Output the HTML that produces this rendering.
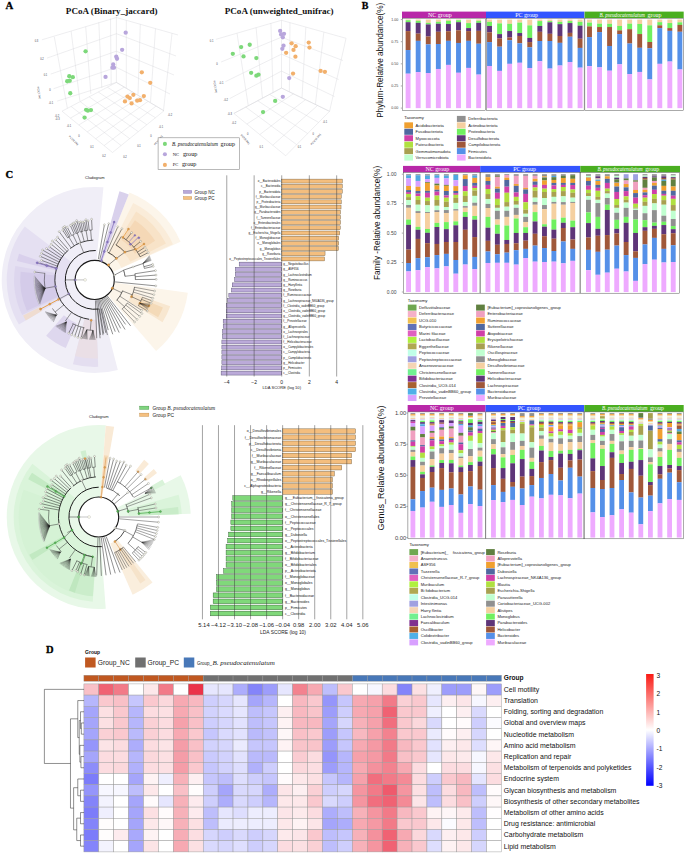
<!DOCTYPE html>
<html><head><meta charset="utf-8"><title>Figure</title>
<style>html,body{margin:0;padding:0;background:#fff;}svg{display:block;}</style></head>
<body><svg width="685" height="853" viewBox="0 0 685 853">
<rect x="0" y="0" width="685" height="853" fill="#fff"/>
<text x="46.00" y="652.60" font-family="Liberation Serif, serif" font-size="10.5" text-anchor="start" fill="#000" font-weight="bold" font-style="normal" stroke="#000" stroke-width="0.3">D</text>
<text x="85.10" y="654.30" font-family="Liberation Sans, sans-serif" font-size="5.0" text-anchor="start" fill="#111" font-weight="bold" font-style="normal" >Group</text>
<rect x="85.10" y="657.50" width="10.50" height="10.00" fill="#C05820" />
<text x="97.80" y="664.90" font-family="Liberation Sans, sans-serif" font-size="6.7" text-anchor="start" fill="#222" font-weight="normal" font-style="normal" >Group_NC</text>
<rect x="135.20" y="657.50" width="10.50" height="10.00" fill="#707070" />
<text x="147.50" y="664.90" font-family="Liberation Sans, sans-serif" font-size="6.7" text-anchor="start" fill="#222" font-weight="normal" font-style="normal" >Group_PC</text>
<rect x="183.80" y="657.50" width="10.50" height="10.00" fill="#4878B8" />
<text x="196.9" y="664.6" font-family="Liberation Sans, sans-serif" font-size="4.5" fill="#222">Group_<tspan font-family="Liberation Serif, serif" font-style="italic" font-size="7.0" dx="0.6">B. pseudocatenulatum</tspan></text>
<rect x="83.90" y="675.20" width="14.91" height="6.00" fill="#C05820" stroke="#999" stroke-width="0.4"/>
<rect x="98.81" y="675.20" width="14.91" height="6.00" fill="#C05820" stroke="#999" stroke-width="0.4"/>
<rect x="113.73" y="675.20" width="14.91" height="6.00" fill="#C05820" stroke="#999" stroke-width="0.4"/>
<rect x="128.65" y="675.20" width="14.91" height="6.00" fill="#C05820" stroke="#999" stroke-width="0.4"/>
<rect x="143.56" y="675.20" width="14.91" height="6.00" fill="#C05820" stroke="#999" stroke-width="0.4"/>
<rect x="158.47" y="675.20" width="14.91" height="6.00" fill="#C05820" stroke="#999" stroke-width="0.4"/>
<rect x="173.39" y="675.20" width="14.91" height="6.00" fill="#C05820" stroke="#999" stroke-width="0.4"/>
<rect x="188.31" y="675.20" width="14.91" height="6.00" fill="#C05820" stroke="#999" stroke-width="0.4"/>
<rect x="203.22" y="675.20" width="14.91" height="6.00" fill="#707070" stroke="#999" stroke-width="0.4"/>
<rect x="218.13" y="675.20" width="14.91" height="6.00" fill="#707070" stroke="#999" stroke-width="0.4"/>
<rect x="233.05" y="675.20" width="14.91" height="6.00" fill="#707070" stroke="#999" stroke-width="0.4"/>
<rect x="247.97" y="675.20" width="14.91" height="6.00" fill="#707070" stroke="#999" stroke-width="0.4"/>
<rect x="262.88" y="675.20" width="14.91" height="6.00" fill="#707070" stroke="#999" stroke-width="0.4"/>
<rect x="277.79" y="675.20" width="14.91" height="6.00" fill="#707070" stroke="#999" stroke-width="0.4"/>
<rect x="292.71" y="675.20" width="14.91" height="6.00" fill="#707070" stroke="#999" stroke-width="0.4"/>
<rect x="307.62" y="675.20" width="14.91" height="6.00" fill="#707070" stroke="#999" stroke-width="0.4"/>
<rect x="322.54" y="675.20" width="14.91" height="6.00" fill="#707070" stroke="#999" stroke-width="0.4"/>
<rect x="337.45" y="675.20" width="14.91" height="6.00" fill="#707070" stroke="#999" stroke-width="0.4"/>
<rect x="352.37" y="675.20" width="14.91" height="6.00" fill="#4878B8" stroke="#999" stroke-width="0.4"/>
<rect x="367.28" y="675.20" width="14.91" height="6.00" fill="#4878B8" stroke="#999" stroke-width="0.4"/>
<rect x="382.20" y="675.20" width="14.91" height="6.00" fill="#4878B8" stroke="#999" stroke-width="0.4"/>
<rect x="397.12" y="675.20" width="14.91" height="6.00" fill="#4878B8" stroke="#999" stroke-width="0.4"/>
<rect x="412.03" y="675.20" width="14.91" height="6.00" fill="#4878B8" stroke="#999" stroke-width="0.4"/>
<rect x="426.94" y="675.20" width="14.91" height="6.00" fill="#4878B8" stroke="#999" stroke-width="0.4"/>
<rect x="441.86" y="675.20" width="14.91" height="6.00" fill="#4878B8" stroke="#999" stroke-width="0.4"/>
<rect x="456.77" y="675.20" width="14.91" height="6.00" fill="#4878B8" stroke="#999" stroke-width="0.4"/>
<rect x="471.69" y="675.20" width="14.91" height="6.00" fill="#4878B8" stroke="#999" stroke-width="0.4"/>
<rect x="486.61" y="675.20" width="14.91" height="6.00" fill="#4878B8" stroke="#999" stroke-width="0.4"/>
<rect x="83.90" y="683.90" width="14.91" height="11.20" fill="#F9C0C7" stroke="#9a9a9a" stroke-width="0.45"/>
<rect x="83.90" y="695.10" width="14.91" height="11.20" fill="#B6B6FC" stroke="#9a9a9a" stroke-width="0.45"/>
<rect x="83.90" y="706.30" width="14.91" height="11.20" fill="#A5A5FB" stroke="#9a9a9a" stroke-width="0.45"/>
<rect x="83.90" y="717.50" width="14.91" height="11.20" fill="#A5A5FB" stroke="#9a9a9a" stroke-width="0.45"/>
<rect x="83.90" y="728.70" width="14.91" height="11.20" fill="#A5A5FB" stroke="#9a9a9a" stroke-width="0.45"/>
<rect x="83.90" y="739.90" width="14.91" height="11.20" fill="#9595FB" stroke="#9a9a9a" stroke-width="0.45"/>
<rect x="83.90" y="751.10" width="14.91" height="11.20" fill="#A5A5FB" stroke="#9a9a9a" stroke-width="0.45"/>
<rect x="83.90" y="762.30" width="14.91" height="11.20" fill="#8D8DFA" stroke="#9a9a9a" stroke-width="0.45"/>
<rect x="83.90" y="773.50" width="14.91" height="11.20" fill="#7C7CFA" stroke="#9a9a9a" stroke-width="0.45"/>
<rect x="83.90" y="784.70" width="14.91" height="11.20" fill="#9595FB" stroke="#9a9a9a" stroke-width="0.45"/>
<rect x="83.90" y="795.90" width="14.91" height="11.20" fill="#8484FA" stroke="#9a9a9a" stroke-width="0.45"/>
<rect x="83.90" y="807.10" width="14.91" height="11.20" fill="#7C7CFA" stroke="#9a9a9a" stroke-width="0.45"/>
<rect x="83.90" y="818.30" width="14.91" height="11.20" fill="#8484FA" stroke="#9a9a9a" stroke-width="0.45"/>
<rect x="83.90" y="829.50" width="14.91" height="11.20" fill="#7C7CFA" stroke="#9a9a9a" stroke-width="0.45"/>
<rect x="83.90" y="840.70" width="14.91" height="11.20" fill="#8484FA" stroke="#9a9a9a" stroke-width="0.45"/>
<rect x="98.81" y="683.90" width="14.91" height="11.20" fill="#F06273" stroke="#9a9a9a" stroke-width="0.45"/>
<rect x="98.81" y="695.10" width="14.91" height="11.20" fill="#FAC8CE" stroke="#9a9a9a" stroke-width="0.45"/>
<rect x="98.81" y="706.30" width="14.91" height="11.20" fill="#FCE0E3" stroke="#9a9a9a" stroke-width="0.45"/>
<rect x="98.81" y="717.50" width="14.91" height="11.20" fill="#FCE0E3" stroke="#9a9a9a" stroke-width="0.45"/>
<rect x="98.81" y="728.70" width="14.91" height="11.20" fill="#FAD0D5" stroke="#9a9a9a" stroke-width="0.45"/>
<rect x="98.81" y="739.90" width="14.91" height="11.20" fill="#FCE4E6" stroke="#9a9a9a" stroke-width="0.45"/>
<rect x="98.81" y="751.10" width="14.91" height="11.20" fill="#FCDCE0" stroke="#9a9a9a" stroke-width="0.45"/>
<rect x="98.81" y="762.30" width="14.91" height="11.20" fill="#FCDCE0" stroke="#9a9a9a" stroke-width="0.45"/>
<rect x="98.81" y="773.50" width="14.91" height="11.20" fill="#FFFFFF" stroke="#9a9a9a" stroke-width="0.45"/>
<rect x="98.81" y="784.70" width="14.91" height="11.20" fill="#F7F7FF" stroke="#9a9a9a" stroke-width="0.45"/>
<rect x="98.81" y="795.90" width="14.91" height="11.20" fill="#F3F3FE" stroke="#9a9a9a" stroke-width="0.45"/>
<rect x="98.81" y="807.10" width="14.91" height="11.20" fill="#EFEFFE" stroke="#9a9a9a" stroke-width="0.45"/>
<rect x="98.81" y="818.30" width="14.91" height="11.20" fill="#FFFDFD" stroke="#9a9a9a" stroke-width="0.45"/>
<rect x="98.81" y="829.50" width="14.91" height="11.20" fill="#FFFDFD" stroke="#9a9a9a" stroke-width="0.45"/>
<rect x="98.81" y="840.70" width="14.91" height="11.20" fill="#F3F3FE" stroke="#9a9a9a" stroke-width="0.45"/>
<rect x="113.73" y="683.90" width="14.91" height="11.20" fill="#F27A88" stroke="#9a9a9a" stroke-width="0.45"/>
<rect x="113.73" y="695.10" width="14.91" height="11.20" fill="#F9C0C7" stroke="#9a9a9a" stroke-width="0.45"/>
<rect x="113.73" y="706.30" width="14.91" height="11.20" fill="#FAC8CE" stroke="#9a9a9a" stroke-width="0.45"/>
<rect x="113.73" y="717.50" width="14.91" height="11.20" fill="#FAC8CE" stroke="#9a9a9a" stroke-width="0.45"/>
<rect x="113.73" y="728.70" width="14.91" height="11.20" fill="#FAC8CE" stroke="#9a9a9a" stroke-width="0.45"/>
<rect x="113.73" y="739.90" width="14.91" height="11.20" fill="#FCDCE0" stroke="#9a9a9a" stroke-width="0.45"/>
<rect x="113.73" y="751.10" width="14.91" height="11.20" fill="#FCDCE0" stroke="#9a9a9a" stroke-width="0.45"/>
<rect x="113.73" y="762.30" width="14.91" height="11.20" fill="#FBD8DC" stroke="#9a9a9a" stroke-width="0.45"/>
<rect x="113.73" y="773.50" width="14.91" height="11.20" fill="#FFFFFF" stroke="#9a9a9a" stroke-width="0.45"/>
<rect x="113.73" y="784.70" width="14.91" height="11.20" fill="#F7F7FF" stroke="#9a9a9a" stroke-width="0.45"/>
<rect x="113.73" y="795.90" width="14.91" height="11.20" fill="#FFFFFF" stroke="#9a9a9a" stroke-width="0.45"/>
<rect x="113.73" y="807.10" width="14.91" height="11.20" fill="#FFFFFF" stroke="#9a9a9a" stroke-width="0.45"/>
<rect x="113.73" y="818.30" width="14.91" height="11.20" fill="#FFFFFF" stroke="#9a9a9a" stroke-width="0.45"/>
<rect x="113.73" y="829.50" width="14.91" height="11.20" fill="#FDEBEE" stroke="#9a9a9a" stroke-width="0.45"/>
<rect x="113.73" y="840.70" width="14.91" height="11.20" fill="#FFFFFF" stroke="#9a9a9a" stroke-width="0.45"/>
<rect x="128.65" y="683.90" width="14.91" height="11.20" fill="#FFFFFF" stroke="#9a9a9a" stroke-width="0.45"/>
<rect x="128.65" y="695.10" width="14.91" height="11.20" fill="#C6C6FD" stroke="#9a9a9a" stroke-width="0.45"/>
<rect x="128.65" y="706.30" width="14.91" height="11.20" fill="#B6B6FC" stroke="#9a9a9a" stroke-width="0.45"/>
<rect x="128.65" y="717.50" width="14.91" height="11.20" fill="#B6B6FC" stroke="#9a9a9a" stroke-width="0.45"/>
<rect x="128.65" y="728.70" width="14.91" height="11.20" fill="#BABAFC" stroke="#9a9a9a" stroke-width="0.45"/>
<rect x="128.65" y="739.90" width="14.91" height="11.20" fill="#ADADFC" stroke="#9a9a9a" stroke-width="0.45"/>
<rect x="128.65" y="751.10" width="14.91" height="11.20" fill="#B6B6FC" stroke="#9a9a9a" stroke-width="0.45"/>
<rect x="128.65" y="762.30" width="14.91" height="11.20" fill="#B1B1FC" stroke="#9a9a9a" stroke-width="0.45"/>
<rect x="128.65" y="773.50" width="14.91" height="11.20" fill="#A5A5FB" stroke="#9a9a9a" stroke-width="0.45"/>
<rect x="128.65" y="784.70" width="14.91" height="11.20" fill="#BEBEFC" stroke="#9a9a9a" stroke-width="0.45"/>
<rect x="128.65" y="795.90" width="14.91" height="11.20" fill="#A5A5FB" stroke="#9a9a9a" stroke-width="0.45"/>
<rect x="128.65" y="807.10" width="14.91" height="11.20" fill="#A5A5FB" stroke="#9a9a9a" stroke-width="0.45"/>
<rect x="128.65" y="818.30" width="14.91" height="11.20" fill="#A5A5FB" stroke="#9a9a9a" stroke-width="0.45"/>
<rect x="128.65" y="829.50" width="14.91" height="11.20" fill="#A9A9FC" stroke="#9a9a9a" stroke-width="0.45"/>
<rect x="128.65" y="840.70" width="14.91" height="11.20" fill="#A5A5FB" stroke="#9a9a9a" stroke-width="0.45"/>
<rect x="143.56" y="683.90" width="14.91" height="11.20" fill="#FDE8EA" stroke="#9a9a9a" stroke-width="0.45"/>
<rect x="143.56" y="695.10" width="14.91" height="11.20" fill="#FAC8CE" stroke="#9a9a9a" stroke-width="0.45"/>
<rect x="143.56" y="706.30" width="14.91" height="11.20" fill="#FCDCE0" stroke="#9a9a9a" stroke-width="0.45"/>
<rect x="143.56" y="717.50" width="14.91" height="11.20" fill="#FAD0D5" stroke="#9a9a9a" stroke-width="0.45"/>
<rect x="143.56" y="728.70" width="14.91" height="11.20" fill="#FAD0D5" stroke="#9a9a9a" stroke-width="0.45"/>
<rect x="143.56" y="739.90" width="14.91" height="11.20" fill="#FCDCE0" stroke="#9a9a9a" stroke-width="0.45"/>
<rect x="143.56" y="751.10" width="14.91" height="11.20" fill="#FBD8DC" stroke="#9a9a9a" stroke-width="0.45"/>
<rect x="143.56" y="762.30" width="14.91" height="11.20" fill="#FCDCE0" stroke="#9a9a9a" stroke-width="0.45"/>
<rect x="143.56" y="773.50" width="14.91" height="11.20" fill="#FEF3F4" stroke="#9a9a9a" stroke-width="0.45"/>
<rect x="143.56" y="784.70" width="14.91" height="11.20" fill="#FDE8EA" stroke="#9a9a9a" stroke-width="0.45"/>
<rect x="143.56" y="795.90" width="14.91" height="11.20" fill="#FFFBFC" stroke="#9a9a9a" stroke-width="0.45"/>
<rect x="143.56" y="807.10" width="14.91" height="11.20" fill="#FCE0E3" stroke="#9a9a9a" stroke-width="0.45"/>
<rect x="143.56" y="818.30" width="14.91" height="11.20" fill="#FDE8EA" stroke="#9a9a9a" stroke-width="0.45"/>
<rect x="143.56" y="829.50" width="14.91" height="11.20" fill="#FEF3F4" stroke="#9a9a9a" stroke-width="0.45"/>
<rect x="143.56" y="840.70" width="14.91" height="11.20" fill="#FCE4E6" stroke="#9a9a9a" stroke-width="0.45"/>
<rect x="158.47" y="683.90" width="14.91" height="11.20" fill="#F27A88" stroke="#9a9a9a" stroke-width="0.45"/>
<rect x="158.47" y="695.10" width="14.91" height="11.20" fill="#FBD8DC" stroke="#9a9a9a" stroke-width="0.45"/>
<rect x="158.47" y="706.30" width="14.91" height="11.20" fill="#FCE0E3" stroke="#9a9a9a" stroke-width="0.45"/>
<rect x="158.47" y="717.50" width="14.91" height="11.20" fill="#FCDCE0" stroke="#9a9a9a" stroke-width="0.45"/>
<rect x="158.47" y="728.70" width="14.91" height="11.20" fill="#FCDCE0" stroke="#9a9a9a" stroke-width="0.45"/>
<rect x="158.47" y="739.90" width="14.91" height="11.20" fill="#FCE4E6" stroke="#9a9a9a" stroke-width="0.45"/>
<rect x="158.47" y="751.10" width="14.91" height="11.20" fill="#FCE0E3" stroke="#9a9a9a" stroke-width="0.45"/>
<rect x="158.47" y="762.30" width="14.91" height="11.20" fill="#FCE0E3" stroke="#9a9a9a" stroke-width="0.45"/>
<rect x="158.47" y="773.50" width="14.91" height="11.20" fill="#EFEFFE" stroke="#9a9a9a" stroke-width="0.45"/>
<rect x="158.47" y="784.70" width="14.91" height="11.20" fill="#FFFFFF" stroke="#9a9a9a" stroke-width="0.45"/>
<rect x="158.47" y="795.90" width="14.91" height="11.20" fill="#E6E6FE" stroke="#9a9a9a" stroke-width="0.45"/>
<rect x="158.47" y="807.10" width="14.91" height="11.20" fill="#FFFBFC" stroke="#9a9a9a" stroke-width="0.45"/>
<rect x="158.47" y="818.30" width="14.91" height="11.20" fill="#FEF7F8" stroke="#9a9a9a" stroke-width="0.45"/>
<rect x="158.47" y="829.50" width="14.91" height="11.20" fill="#FFFFFF" stroke="#9a9a9a" stroke-width="0.45"/>
<rect x="158.47" y="840.70" width="14.91" height="11.20" fill="#FFFFFF" stroke="#9a9a9a" stroke-width="0.45"/>
<rect x="173.39" y="683.90" width="14.91" height="11.20" fill="#FFFFFF" stroke="#9a9a9a" stroke-width="0.45"/>
<rect x="173.39" y="695.10" width="14.91" height="11.20" fill="#F7A9B2" stroke="#9a9a9a" stroke-width="0.45"/>
<rect x="173.39" y="706.30" width="14.91" height="11.20" fill="#F7A9B2" stroke="#9a9a9a" stroke-width="0.45"/>
<rect x="173.39" y="717.50" width="14.91" height="11.20" fill="#F6A1AB" stroke="#9a9a9a" stroke-width="0.45"/>
<rect x="173.39" y="728.70" width="14.91" height="11.20" fill="#F7A9B2" stroke="#9a9a9a" stroke-width="0.45"/>
<rect x="173.39" y="739.90" width="14.91" height="11.20" fill="#F59DA8" stroke="#9a9a9a" stroke-width="0.45"/>
<rect x="173.39" y="751.10" width="14.91" height="11.20" fill="#F59DA8" stroke="#9a9a9a" stroke-width="0.45"/>
<rect x="173.39" y="762.30" width="14.91" height="11.20" fill="#F59DA8" stroke="#9a9a9a" stroke-width="0.45"/>
<rect x="173.39" y="773.50" width="14.91" height="11.20" fill="#F7B1B9" stroke="#9a9a9a" stroke-width="0.45"/>
<rect x="173.39" y="784.70" width="14.91" height="11.20" fill="#F9C0C7" stroke="#9a9a9a" stroke-width="0.45"/>
<rect x="173.39" y="795.90" width="14.91" height="11.20" fill="#F7B1B9" stroke="#9a9a9a" stroke-width="0.45"/>
<rect x="173.39" y="807.10" width="14.91" height="11.20" fill="#F7B1B9" stroke="#9a9a9a" stroke-width="0.45"/>
<rect x="173.39" y="818.30" width="14.91" height="11.20" fill="#F7B1B9" stroke="#9a9a9a" stroke-width="0.45"/>
<rect x="173.39" y="829.50" width="14.91" height="11.20" fill="#F7ADB6" stroke="#9a9a9a" stroke-width="0.45"/>
<rect x="173.39" y="840.70" width="14.91" height="11.20" fill="#F7A9B2" stroke="#9a9a9a" stroke-width="0.45"/>
<rect x="188.31" y="683.90" width="14.91" height="11.20" fill="#EB3349" stroke="#9a9a9a" stroke-width="0.45"/>
<rect x="188.31" y="695.10" width="14.91" height="11.20" fill="#F8B8C0" stroke="#9a9a9a" stroke-width="0.45"/>
<rect x="188.31" y="706.30" width="14.91" height="11.20" fill="#F9C0C7" stroke="#9a9a9a" stroke-width="0.45"/>
<rect x="188.31" y="717.50" width="14.91" height="11.20" fill="#F9C0C7" stroke="#9a9a9a" stroke-width="0.45"/>
<rect x="188.31" y="728.70" width="14.91" height="11.20" fill="#FAC8CE" stroke="#9a9a9a" stroke-width="0.45"/>
<rect x="188.31" y="739.90" width="14.91" height="11.20" fill="#F9C0C7" stroke="#9a9a9a" stroke-width="0.45"/>
<rect x="188.31" y="751.10" width="14.91" height="11.20" fill="#F9C0C7" stroke="#9a9a9a" stroke-width="0.45"/>
<rect x="188.31" y="762.30" width="14.91" height="11.20" fill="#FAC8CE" stroke="#9a9a9a" stroke-width="0.45"/>
<rect x="188.31" y="773.50" width="14.91" height="11.20" fill="#FDEFF1" stroke="#9a9a9a" stroke-width="0.45"/>
<rect x="188.31" y="784.70" width="14.91" height="11.20" fill="#FFFDFD" stroke="#9a9a9a" stroke-width="0.45"/>
<rect x="188.31" y="795.90" width="14.91" height="11.20" fill="#FDEBEE" stroke="#9a9a9a" stroke-width="0.45"/>
<rect x="188.31" y="807.10" width="14.91" height="11.20" fill="#FDEBEE" stroke="#9a9a9a" stroke-width="0.45"/>
<rect x="188.31" y="818.30" width="14.91" height="11.20" fill="#FCE0E3" stroke="#9a9a9a" stroke-width="0.45"/>
<rect x="188.31" y="829.50" width="14.91" height="11.20" fill="#FCDEE2" stroke="#9a9a9a" stroke-width="0.45"/>
<rect x="188.31" y="840.70" width="14.91" height="11.20" fill="#FCE0E3" stroke="#9a9a9a" stroke-width="0.45"/>
<rect x="203.22" y="683.90" width="14.91" height="11.20" fill="#E6E6FE" stroke="#9a9a9a" stroke-width="0.45"/>
<rect x="203.22" y="695.10" width="14.91" height="11.20" fill="#CECEFD" stroke="#9a9a9a" stroke-width="0.45"/>
<rect x="203.22" y="706.30" width="14.91" height="11.20" fill="#D2D2FD" stroke="#9a9a9a" stroke-width="0.45"/>
<rect x="203.22" y="717.50" width="14.91" height="11.20" fill="#CECEFD" stroke="#9a9a9a" stroke-width="0.45"/>
<rect x="203.22" y="728.70" width="14.91" height="11.20" fill="#C6C6FD" stroke="#9a9a9a" stroke-width="0.45"/>
<rect x="203.22" y="739.90" width="14.91" height="11.20" fill="#D2D2FD" stroke="#9a9a9a" stroke-width="0.45"/>
<rect x="203.22" y="751.10" width="14.91" height="11.20" fill="#CACAFD" stroke="#9a9a9a" stroke-width="0.45"/>
<rect x="203.22" y="762.30" width="14.91" height="11.20" fill="#C6C6FD" stroke="#9a9a9a" stroke-width="0.45"/>
<rect x="203.22" y="773.50" width="14.91" height="11.20" fill="#C6C6FD" stroke="#9a9a9a" stroke-width="0.45"/>
<rect x="203.22" y="784.70" width="14.91" height="11.20" fill="#CECEFD" stroke="#9a9a9a" stroke-width="0.45"/>
<rect x="203.22" y="795.90" width="14.91" height="11.20" fill="#CECEFD" stroke="#9a9a9a" stroke-width="0.45"/>
<rect x="203.22" y="807.10" width="14.91" height="11.20" fill="#BEBEFC" stroke="#9a9a9a" stroke-width="0.45"/>
<rect x="203.22" y="818.30" width="14.91" height="11.20" fill="#BEBEFC" stroke="#9a9a9a" stroke-width="0.45"/>
<rect x="203.22" y="829.50" width="14.91" height="11.20" fill="#D6D6FD" stroke="#9a9a9a" stroke-width="0.45"/>
<rect x="203.22" y="840.70" width="14.91" height="11.20" fill="#D9D9FD" stroke="#9a9a9a" stroke-width="0.45"/>
<rect x="218.13" y="683.90" width="14.91" height="11.20" fill="#E6E6FE" stroke="#9a9a9a" stroke-width="0.45"/>
<rect x="218.13" y="695.10" width="14.91" height="11.20" fill="#D6D6FD" stroke="#9a9a9a" stroke-width="0.45"/>
<rect x="218.13" y="706.30" width="14.91" height="11.20" fill="#DADAFE" stroke="#9a9a9a" stroke-width="0.45"/>
<rect x="218.13" y="717.50" width="14.91" height="11.20" fill="#D6D6FD" stroke="#9a9a9a" stroke-width="0.45"/>
<rect x="218.13" y="728.70" width="14.91" height="11.20" fill="#DADAFE" stroke="#9a9a9a" stroke-width="0.45"/>
<rect x="218.13" y="739.90" width="14.91" height="11.20" fill="#D6D6FD" stroke="#9a9a9a" stroke-width="0.45"/>
<rect x="218.13" y="751.10" width="14.91" height="11.20" fill="#D2D2FD" stroke="#9a9a9a" stroke-width="0.45"/>
<rect x="218.13" y="762.30" width="14.91" height="11.20" fill="#D2D2FD" stroke="#9a9a9a" stroke-width="0.45"/>
<rect x="218.13" y="773.50" width="14.91" height="11.20" fill="#BEBEFC" stroke="#9a9a9a" stroke-width="0.45"/>
<rect x="218.13" y="784.70" width="14.91" height="11.20" fill="#A5A5FB" stroke="#9a9a9a" stroke-width="0.45"/>
<rect x="218.13" y="795.90" width="14.91" height="11.20" fill="#ADADFC" stroke="#9a9a9a" stroke-width="0.45"/>
<rect x="218.13" y="807.10" width="14.91" height="11.20" fill="#E6E6FE" stroke="#9a9a9a" stroke-width="0.45"/>
<rect x="218.13" y="818.30" width="14.91" height="11.20" fill="#EBEBFE" stroke="#9a9a9a" stroke-width="0.45"/>
<rect x="218.13" y="829.50" width="14.91" height="11.20" fill="#CECEFD" stroke="#9a9a9a" stroke-width="0.45"/>
<rect x="218.13" y="840.70" width="14.91" height="11.20" fill="#D6D6FD" stroke="#9a9a9a" stroke-width="0.45"/>
<rect x="233.05" y="683.90" width="14.91" height="11.20" fill="#ADADFC" stroke="#9a9a9a" stroke-width="0.45"/>
<rect x="233.05" y="695.10" width="14.91" height="11.20" fill="#E6E6FE" stroke="#9a9a9a" stroke-width="0.45"/>
<rect x="233.05" y="706.30" width="14.91" height="11.20" fill="#E6E6FE" stroke="#9a9a9a" stroke-width="0.45"/>
<rect x="233.05" y="717.50" width="14.91" height="11.20" fill="#E2E2FE" stroke="#9a9a9a" stroke-width="0.45"/>
<rect x="233.05" y="728.70" width="14.91" height="11.20" fill="#E2E2FE" stroke="#9a9a9a" stroke-width="0.45"/>
<rect x="233.05" y="739.90" width="14.91" height="11.20" fill="#EBEBFE" stroke="#9a9a9a" stroke-width="0.45"/>
<rect x="233.05" y="751.10" width="14.91" height="11.20" fill="#E2E2FE" stroke="#9a9a9a" stroke-width="0.45"/>
<rect x="233.05" y="762.30" width="14.91" height="11.20" fill="#DEDEFE" stroke="#9a9a9a" stroke-width="0.45"/>
<rect x="233.05" y="773.50" width="14.91" height="11.20" fill="#DEDEFE" stroke="#9a9a9a" stroke-width="0.45"/>
<rect x="233.05" y="784.70" width="14.91" height="11.20" fill="#D9D9FD" stroke="#9a9a9a" stroke-width="0.45"/>
<rect x="233.05" y="795.90" width="14.91" height="11.20" fill="#D9D9FD" stroke="#9a9a9a" stroke-width="0.45"/>
<rect x="233.05" y="807.10" width="14.91" height="11.20" fill="#DEDEFE" stroke="#9a9a9a" stroke-width="0.45"/>
<rect x="233.05" y="818.30" width="14.91" height="11.20" fill="#EDEDFE" stroke="#9a9a9a" stroke-width="0.45"/>
<rect x="233.05" y="829.50" width="14.91" height="11.20" fill="#D9D9FD" stroke="#9a9a9a" stroke-width="0.45"/>
<rect x="233.05" y="840.70" width="14.91" height="11.20" fill="#DEDEFE" stroke="#9a9a9a" stroke-width="0.45"/>
<rect x="247.97" y="683.90" width="14.91" height="11.20" fill="#8484FA" stroke="#9a9a9a" stroke-width="0.45"/>
<rect x="247.97" y="695.10" width="14.91" height="11.20" fill="#A5A5FB" stroke="#9a9a9a" stroke-width="0.45"/>
<rect x="247.97" y="706.30" width="14.91" height="11.20" fill="#BEBEFC" stroke="#9a9a9a" stroke-width="0.45"/>
<rect x="247.97" y="717.50" width="14.91" height="11.20" fill="#BEBEFC" stroke="#9a9a9a" stroke-width="0.45"/>
<rect x="247.97" y="728.70" width="14.91" height="11.20" fill="#BABAFC" stroke="#9a9a9a" stroke-width="0.45"/>
<rect x="247.97" y="739.90" width="14.91" height="11.20" fill="#C6C6FD" stroke="#9a9a9a" stroke-width="0.45"/>
<rect x="247.97" y="751.10" width="14.91" height="11.20" fill="#BABAFC" stroke="#9a9a9a" stroke-width="0.45"/>
<rect x="247.97" y="762.30" width="14.91" height="11.20" fill="#B1B1FC" stroke="#9a9a9a" stroke-width="0.45"/>
<rect x="247.97" y="773.50" width="14.91" height="11.20" fill="#CECEFD" stroke="#9a9a9a" stroke-width="0.45"/>
<rect x="247.97" y="784.70" width="14.91" height="11.20" fill="#D6D6FD" stroke="#9a9a9a" stroke-width="0.45"/>
<rect x="247.97" y="795.90" width="14.91" height="11.20" fill="#CECEFD" stroke="#9a9a9a" stroke-width="0.45"/>
<rect x="247.97" y="807.10" width="14.91" height="11.20" fill="#EDEDFE" stroke="#9a9a9a" stroke-width="0.45"/>
<rect x="247.97" y="818.30" width="14.91" height="11.20" fill="#EDEDFE" stroke="#9a9a9a" stroke-width="0.45"/>
<rect x="247.97" y="829.50" width="14.91" height="11.20" fill="#CECEFD" stroke="#9a9a9a" stroke-width="0.45"/>
<rect x="247.97" y="840.70" width="14.91" height="11.20" fill="#CECEFD" stroke="#9a9a9a" stroke-width="0.45"/>
<rect x="262.88" y="683.90" width="14.91" height="11.20" fill="#9D9DFB" stroke="#9a9a9a" stroke-width="0.45"/>
<rect x="262.88" y="695.10" width="14.91" height="11.20" fill="#B6B6FC" stroke="#9a9a9a" stroke-width="0.45"/>
<rect x="262.88" y="706.30" width="14.91" height="11.20" fill="#C6C6FD" stroke="#9a9a9a" stroke-width="0.45"/>
<rect x="262.88" y="717.50" width="14.91" height="11.20" fill="#C6C6FD" stroke="#9a9a9a" stroke-width="0.45"/>
<rect x="262.88" y="728.70" width="14.91" height="11.20" fill="#C2C2FC" stroke="#9a9a9a" stroke-width="0.45"/>
<rect x="262.88" y="739.90" width="14.91" height="11.20" fill="#C6C6FD" stroke="#9a9a9a" stroke-width="0.45"/>
<rect x="262.88" y="751.10" width="14.91" height="11.20" fill="#BABAFC" stroke="#9a9a9a" stroke-width="0.45"/>
<rect x="262.88" y="762.30" width="14.91" height="11.20" fill="#CECEFD" stroke="#9a9a9a" stroke-width="0.45"/>
<rect x="262.88" y="773.50" width="14.91" height="11.20" fill="#C6C6FD" stroke="#9a9a9a" stroke-width="0.45"/>
<rect x="262.88" y="784.70" width="14.91" height="11.20" fill="#ADADFC" stroke="#9a9a9a" stroke-width="0.45"/>
<rect x="262.88" y="795.90" width="14.91" height="11.20" fill="#B6B6FC" stroke="#9a9a9a" stroke-width="0.45"/>
<rect x="262.88" y="807.10" width="14.91" height="11.20" fill="#EDEDFE" stroke="#9a9a9a" stroke-width="0.45"/>
<rect x="262.88" y="818.30" width="14.91" height="11.20" fill="#EDEDFE" stroke="#9a9a9a" stroke-width="0.45"/>
<rect x="262.88" y="829.50" width="14.91" height="11.20" fill="#D6D6FD" stroke="#9a9a9a" stroke-width="0.45"/>
<rect x="262.88" y="840.70" width="14.91" height="11.20" fill="#D6D6FD" stroke="#9a9a9a" stroke-width="0.45"/>
<rect x="277.79" y="683.90" width="14.91" height="11.20" fill="#E6E6FE" stroke="#9a9a9a" stroke-width="0.45"/>
<rect x="277.79" y="695.10" width="14.91" height="11.20" fill="#FFFFFF" stroke="#9a9a9a" stroke-width="0.45"/>
<rect x="277.79" y="706.30" width="14.91" height="11.20" fill="#FDEFF1" stroke="#9a9a9a" stroke-width="0.45"/>
<rect x="277.79" y="717.50" width="14.91" height="11.20" fill="#FEF3F4" stroke="#9a9a9a" stroke-width="0.45"/>
<rect x="277.79" y="728.70" width="14.91" height="11.20" fill="#FEF7F8" stroke="#9a9a9a" stroke-width="0.45"/>
<rect x="277.79" y="739.90" width="14.91" height="11.20" fill="#FEF3F4" stroke="#9a9a9a" stroke-width="0.45"/>
<rect x="277.79" y="751.10" width="14.91" height="11.20" fill="#FFFFFF" stroke="#9a9a9a" stroke-width="0.45"/>
<rect x="277.79" y="762.30" width="14.91" height="11.20" fill="#FFFFFF" stroke="#9a9a9a" stroke-width="0.45"/>
<rect x="277.79" y="773.50" width="14.91" height="11.20" fill="#FFFBFC" stroke="#9a9a9a" stroke-width="0.45"/>
<rect x="277.79" y="784.70" width="14.91" height="11.20" fill="#FCE5E8" stroke="#9a9a9a" stroke-width="0.45"/>
<rect x="277.79" y="795.90" width="14.91" height="11.20" fill="#FDE8EA" stroke="#9a9a9a" stroke-width="0.45"/>
<rect x="277.79" y="807.10" width="14.91" height="11.20" fill="#FCE5E8" stroke="#9a9a9a" stroke-width="0.45"/>
<rect x="277.79" y="818.30" width="14.91" height="11.20" fill="#FDE8EA" stroke="#9a9a9a" stroke-width="0.45"/>
<rect x="277.79" y="829.50" width="14.91" height="11.20" fill="#FDEAEC" stroke="#9a9a9a" stroke-width="0.45"/>
<rect x="277.79" y="840.70" width="14.91" height="11.20" fill="#FCDCE0" stroke="#9a9a9a" stroke-width="0.45"/>
<rect x="292.71" y="683.90" width="14.91" height="11.20" fill="#F3828F" stroke="#9a9a9a" stroke-width="0.45"/>
<rect x="292.71" y="695.10" width="14.91" height="11.20" fill="#F8B8C0" stroke="#9a9a9a" stroke-width="0.45"/>
<rect x="292.71" y="706.30" width="14.91" height="11.20" fill="#F8B8C0" stroke="#9a9a9a" stroke-width="0.45"/>
<rect x="292.71" y="717.50" width="14.91" height="11.20" fill="#F8B8C0" stroke="#9a9a9a" stroke-width="0.45"/>
<rect x="292.71" y="728.70" width="14.91" height="11.20" fill="#F9C0C7" stroke="#9a9a9a" stroke-width="0.45"/>
<rect x="292.71" y="739.90" width="14.91" height="11.20" fill="#F9C4CA" stroke="#9a9a9a" stroke-width="0.45"/>
<rect x="292.71" y="751.10" width="14.91" height="11.20" fill="#FACCD2" stroke="#9a9a9a" stroke-width="0.45"/>
<rect x="292.71" y="762.30" width="14.91" height="11.20" fill="#FBD8DC" stroke="#9a9a9a" stroke-width="0.45"/>
<rect x="292.71" y="773.50" width="14.91" height="11.20" fill="#FDE8EA" stroke="#9a9a9a" stroke-width="0.45"/>
<rect x="292.71" y="784.70" width="14.91" height="11.20" fill="#FDEFF1" stroke="#9a9a9a" stroke-width="0.45"/>
<rect x="292.71" y="795.90" width="14.91" height="11.20" fill="#FDE8EA" stroke="#9a9a9a" stroke-width="0.45"/>
<rect x="292.71" y="807.10" width="14.91" height="11.20" fill="#FDEAEC" stroke="#9a9a9a" stroke-width="0.45"/>
<rect x="292.71" y="818.30" width="14.91" height="11.20" fill="#FEF3F4" stroke="#9a9a9a" stroke-width="0.45"/>
<rect x="292.71" y="829.50" width="14.91" height="11.20" fill="#FCE5E8" stroke="#9a9a9a" stroke-width="0.45"/>
<rect x="292.71" y="840.70" width="14.91" height="11.20" fill="#FCE0E3" stroke="#9a9a9a" stroke-width="0.45"/>
<rect x="307.62" y="683.90" width="14.91" height="11.20" fill="#F7A9B2" stroke="#9a9a9a" stroke-width="0.45"/>
<rect x="307.62" y="695.10" width="14.91" height="11.20" fill="#FAC8CE" stroke="#9a9a9a" stroke-width="0.45"/>
<rect x="307.62" y="706.30" width="14.91" height="11.20" fill="#F9C4CA" stroke="#9a9a9a" stroke-width="0.45"/>
<rect x="307.62" y="717.50" width="14.91" height="11.20" fill="#F8B8C0" stroke="#9a9a9a" stroke-width="0.45"/>
<rect x="307.62" y="728.70" width="14.91" height="11.20" fill="#FAC8CE" stroke="#9a9a9a" stroke-width="0.45"/>
<rect x="307.62" y="739.90" width="14.91" height="11.20" fill="#F9C4CA" stroke="#9a9a9a" stroke-width="0.45"/>
<rect x="307.62" y="751.10" width="14.91" height="11.20" fill="#FCDCE0" stroke="#9a9a9a" stroke-width="0.45"/>
<rect x="307.62" y="762.30" width="14.91" height="11.20" fill="#FCDEE2" stroke="#9a9a9a" stroke-width="0.45"/>
<rect x="307.62" y="773.50" width="14.91" height="11.20" fill="#FCE0E3" stroke="#9a9a9a" stroke-width="0.45"/>
<rect x="307.62" y="784.70" width="14.91" height="11.20" fill="#FAD0D5" stroke="#9a9a9a" stroke-width="0.45"/>
<rect x="307.62" y="795.90" width="14.91" height="11.20" fill="#FAC8CE" stroke="#9a9a9a" stroke-width="0.45"/>
<rect x="307.62" y="807.10" width="14.91" height="11.20" fill="#FCDCE0" stroke="#9a9a9a" stroke-width="0.45"/>
<rect x="307.62" y="818.30" width="14.91" height="11.20" fill="#FCE5E8" stroke="#9a9a9a" stroke-width="0.45"/>
<rect x="307.62" y="829.50" width="14.91" height="11.20" fill="#FAC8CE" stroke="#9a9a9a" stroke-width="0.45"/>
<rect x="307.62" y="840.70" width="14.91" height="11.20" fill="#FAD0D5" stroke="#9a9a9a" stroke-width="0.45"/>
<rect x="322.54" y="683.90" width="14.91" height="11.20" fill="#BEBEFC" stroke="#9a9a9a" stroke-width="0.45"/>
<rect x="322.54" y="695.10" width="14.91" height="11.20" fill="#9595FB" stroke="#9a9a9a" stroke-width="0.45"/>
<rect x="322.54" y="706.30" width="14.91" height="11.20" fill="#9D9DFB" stroke="#9a9a9a" stroke-width="0.45"/>
<rect x="322.54" y="717.50" width="14.91" height="11.20" fill="#A5A5FB" stroke="#9a9a9a" stroke-width="0.45"/>
<rect x="322.54" y="728.70" width="14.91" height="11.20" fill="#9D9DFB" stroke="#9a9a9a" stroke-width="0.45"/>
<rect x="322.54" y="739.90" width="14.91" height="11.20" fill="#9D9DFB" stroke="#9a9a9a" stroke-width="0.45"/>
<rect x="322.54" y="751.10" width="14.91" height="11.20" fill="#9595FB" stroke="#9a9a9a" stroke-width="0.45"/>
<rect x="322.54" y="762.30" width="14.91" height="11.20" fill="#9D9DFB" stroke="#9a9a9a" stroke-width="0.45"/>
<rect x="322.54" y="773.50" width="14.91" height="11.20" fill="#C6C6FD" stroke="#9a9a9a" stroke-width="0.45"/>
<rect x="322.54" y="784.70" width="14.91" height="11.20" fill="#CECEFD" stroke="#9a9a9a" stroke-width="0.45"/>
<rect x="322.54" y="795.90" width="14.91" height="11.20" fill="#D9D9FD" stroke="#9a9a9a" stroke-width="0.45"/>
<rect x="322.54" y="807.10" width="14.91" height="11.20" fill="#ADADFC" stroke="#9a9a9a" stroke-width="0.45"/>
<rect x="322.54" y="818.30" width="14.91" height="11.20" fill="#A5A5FB" stroke="#9a9a9a" stroke-width="0.45"/>
<rect x="322.54" y="829.50" width="14.91" height="11.20" fill="#BEBEFC" stroke="#9a9a9a" stroke-width="0.45"/>
<rect x="322.54" y="840.70" width="14.91" height="11.20" fill="#BEBEFC" stroke="#9a9a9a" stroke-width="0.45"/>
<rect x="337.45" y="683.90" width="14.91" height="11.20" fill="#FAC8CE" stroke="#9a9a9a" stroke-width="0.45"/>
<rect x="337.45" y="695.10" width="14.91" height="11.20" fill="#C6C6FD" stroke="#9a9a9a" stroke-width="0.45"/>
<rect x="337.45" y="706.30" width="14.91" height="11.20" fill="#CECEFD" stroke="#9a9a9a" stroke-width="0.45"/>
<rect x="337.45" y="717.50" width="14.91" height="11.20" fill="#D6D6FD" stroke="#9a9a9a" stroke-width="0.45"/>
<rect x="337.45" y="728.70" width="14.91" height="11.20" fill="#C6C6FD" stroke="#9a9a9a" stroke-width="0.45"/>
<rect x="337.45" y="739.90" width="14.91" height="11.20" fill="#C6C6FD" stroke="#9a9a9a" stroke-width="0.45"/>
<rect x="337.45" y="751.10" width="14.91" height="11.20" fill="#B6B6FC" stroke="#9a9a9a" stroke-width="0.45"/>
<rect x="337.45" y="762.30" width="14.91" height="11.20" fill="#B6B6FC" stroke="#9a9a9a" stroke-width="0.45"/>
<rect x="337.45" y="773.50" width="14.91" height="11.20" fill="#B6B6FC" stroke="#9a9a9a" stroke-width="0.45"/>
<rect x="337.45" y="784.70" width="14.91" height="11.20" fill="#D6D6FD" stroke="#9a9a9a" stroke-width="0.45"/>
<rect x="337.45" y="795.90" width="14.91" height="11.20" fill="#CECEFD" stroke="#9a9a9a" stroke-width="0.45"/>
<rect x="337.45" y="807.10" width="14.91" height="11.20" fill="#BEBEFC" stroke="#9a9a9a" stroke-width="0.45"/>
<rect x="337.45" y="818.30" width="14.91" height="11.20" fill="#ADADFC" stroke="#9a9a9a" stroke-width="0.45"/>
<rect x="337.45" y="829.50" width="14.91" height="11.20" fill="#C6C6FD" stroke="#9a9a9a" stroke-width="0.45"/>
<rect x="337.45" y="840.70" width="14.91" height="11.20" fill="#CECEFD" stroke="#9a9a9a" stroke-width="0.45"/>
<rect x="352.37" y="683.90" width="14.91" height="11.20" fill="#FFFFFF" stroke="#9a9a9a" stroke-width="0.45"/>
<rect x="352.37" y="695.10" width="14.91" height="11.20" fill="#F7A9B2" stroke="#9a9a9a" stroke-width="0.45"/>
<rect x="352.37" y="706.30" width="14.91" height="11.20" fill="#F7A9B2" stroke="#9a9a9a" stroke-width="0.45"/>
<rect x="352.37" y="717.50" width="14.91" height="11.20" fill="#F7B1B9" stroke="#9a9a9a" stroke-width="0.45"/>
<rect x="352.37" y="728.70" width="14.91" height="11.20" fill="#F8B8C0" stroke="#9a9a9a" stroke-width="0.45"/>
<rect x="352.37" y="739.90" width="14.91" height="11.20" fill="#F7A9B2" stroke="#9a9a9a" stroke-width="0.45"/>
<rect x="352.37" y="751.10" width="14.91" height="11.20" fill="#F6A1AB" stroke="#9a9a9a" stroke-width="0.45"/>
<rect x="352.37" y="762.30" width="14.91" height="11.20" fill="#F7A9B2" stroke="#9a9a9a" stroke-width="0.45"/>
<rect x="352.37" y="773.50" width="14.91" height="11.20" fill="#F6A1AB" stroke="#9a9a9a" stroke-width="0.45"/>
<rect x="352.37" y="784.70" width="14.91" height="11.20" fill="#F595A0" stroke="#9a9a9a" stroke-width="0.45"/>
<rect x="352.37" y="795.90" width="14.91" height="11.20" fill="#F595A0" stroke="#9a9a9a" stroke-width="0.45"/>
<rect x="352.37" y="807.10" width="14.91" height="11.20" fill="#F7B1B9" stroke="#9a9a9a" stroke-width="0.45"/>
<rect x="352.37" y="818.30" width="14.91" height="11.20" fill="#F7A9B2" stroke="#9a9a9a" stroke-width="0.45"/>
<rect x="352.37" y="829.50" width="14.91" height="11.20" fill="#F7B1B9" stroke="#9a9a9a" stroke-width="0.45"/>
<rect x="352.37" y="840.70" width="14.91" height="11.20" fill="#F7B1B9" stroke="#9a9a9a" stroke-width="0.45"/>
<rect x="367.28" y="683.90" width="14.91" height="11.20" fill="#F7F7FF" stroke="#9a9a9a" stroke-width="0.45"/>
<rect x="367.28" y="695.10" width="14.91" height="11.20" fill="#F6A1AB" stroke="#9a9a9a" stroke-width="0.45"/>
<rect x="367.28" y="706.30" width="14.91" height="11.20" fill="#F6A1AB" stroke="#9a9a9a" stroke-width="0.45"/>
<rect x="367.28" y="717.50" width="14.91" height="11.20" fill="#F6A1AB" stroke="#9a9a9a" stroke-width="0.45"/>
<rect x="367.28" y="728.70" width="14.91" height="11.20" fill="#F6A1AB" stroke="#9a9a9a" stroke-width="0.45"/>
<rect x="367.28" y="739.90" width="14.91" height="11.20" fill="#F599A4" stroke="#9a9a9a" stroke-width="0.45"/>
<rect x="367.28" y="751.10" width="14.91" height="11.20" fill="#F599A4" stroke="#9a9a9a" stroke-width="0.45"/>
<rect x="367.28" y="762.30" width="14.91" height="11.20" fill="#F4919D" stroke="#9a9a9a" stroke-width="0.45"/>
<rect x="367.28" y="773.50" width="14.91" height="11.20" fill="#F16E7E" stroke="#9a9a9a" stroke-width="0.45"/>
<rect x="367.28" y="784.70" width="14.91" height="11.20" fill="#F27A88" stroke="#9a9a9a" stroke-width="0.45"/>
<rect x="367.28" y="795.90" width="14.91" height="11.20" fill="#F16E7E" stroke="#9a9a9a" stroke-width="0.45"/>
<rect x="367.28" y="807.10" width="14.91" height="11.20" fill="#F595A0" stroke="#9a9a9a" stroke-width="0.45"/>
<rect x="367.28" y="818.30" width="14.91" height="11.20" fill="#F599A4" stroke="#9a9a9a" stroke-width="0.45"/>
<rect x="367.28" y="829.50" width="14.91" height="11.20" fill="#F4919D" stroke="#9a9a9a" stroke-width="0.45"/>
<rect x="367.28" y="840.70" width="14.91" height="11.20" fill="#F595A0" stroke="#9a9a9a" stroke-width="0.45"/>
<rect x="382.20" y="683.90" width="14.91" height="11.20" fill="#FCDCE0" stroke="#9a9a9a" stroke-width="0.45"/>
<rect x="382.20" y="695.10" width="14.91" height="11.20" fill="#F27A88" stroke="#9a9a9a" stroke-width="0.45"/>
<rect x="382.20" y="706.30" width="14.91" height="11.20" fill="#F06273" stroke="#9a9a9a" stroke-width="0.45"/>
<rect x="382.20" y="717.50" width="14.91" height="11.20" fill="#F16E7E" stroke="#9a9a9a" stroke-width="0.45"/>
<rect x="382.20" y="728.70" width="14.91" height="11.20" fill="#F3828F" stroke="#9a9a9a" stroke-width="0.45"/>
<rect x="382.20" y="739.90" width="14.91" height="11.20" fill="#F27A88" stroke="#9a9a9a" stroke-width="0.45"/>
<rect x="382.20" y="751.10" width="14.91" height="11.20" fill="#F27A88" stroke="#9a9a9a" stroke-width="0.45"/>
<rect x="382.20" y="762.30" width="14.91" height="11.20" fill="#F3828F" stroke="#9a9a9a" stroke-width="0.45"/>
<rect x="382.20" y="773.50" width="14.91" height="11.20" fill="#F27A88" stroke="#9a9a9a" stroke-width="0.45"/>
<rect x="382.20" y="784.70" width="14.91" height="11.20" fill="#EF5A6C" stroke="#9a9a9a" stroke-width="0.45"/>
<rect x="382.20" y="795.90" width="14.91" height="11.20" fill="#F06273" stroke="#9a9a9a" stroke-width="0.45"/>
<rect x="382.20" y="807.10" width="14.91" height="11.20" fill="#F27A88" stroke="#9a9a9a" stroke-width="0.45"/>
<rect x="382.20" y="818.30" width="14.91" height="11.20" fill="#F27A88" stroke="#9a9a9a" stroke-width="0.45"/>
<rect x="382.20" y="829.50" width="14.91" height="11.20" fill="#F06273" stroke="#9a9a9a" stroke-width="0.45"/>
<rect x="382.20" y="840.70" width="14.91" height="11.20" fill="#F06273" stroke="#9a9a9a" stroke-width="0.45"/>
<rect x="397.12" y="683.90" width="14.91" height="11.20" fill="#8484FA" stroke="#9a9a9a" stroke-width="0.45"/>
<rect x="397.12" y="695.10" width="14.91" height="11.20" fill="#FAD0D5" stroke="#9a9a9a" stroke-width="0.45"/>
<rect x="397.12" y="706.30" width="14.91" height="11.20" fill="#FAC8CE" stroke="#9a9a9a" stroke-width="0.45"/>
<rect x="397.12" y="717.50" width="14.91" height="11.20" fill="#FAC8CE" stroke="#9a9a9a" stroke-width="0.45"/>
<rect x="397.12" y="728.70" width="14.91" height="11.20" fill="#FAC8CE" stroke="#9a9a9a" stroke-width="0.45"/>
<rect x="397.12" y="739.90" width="14.91" height="11.20" fill="#F8B8C0" stroke="#9a9a9a" stroke-width="0.45"/>
<rect x="397.12" y="751.10" width="14.91" height="11.20" fill="#F9C0C7" stroke="#9a9a9a" stroke-width="0.45"/>
<rect x="397.12" y="762.30" width="14.91" height="11.20" fill="#F7A9B2" stroke="#9a9a9a" stroke-width="0.45"/>
<rect x="397.12" y="773.50" width="14.91" height="11.20" fill="#F48A96" stroke="#9a9a9a" stroke-width="0.45"/>
<rect x="397.12" y="784.70" width="14.91" height="11.20" fill="#F595A0" stroke="#9a9a9a" stroke-width="0.45"/>
<rect x="397.12" y="795.90" width="14.91" height="11.20" fill="#F48A96" stroke="#9a9a9a" stroke-width="0.45"/>
<rect x="397.12" y="807.10" width="14.91" height="11.20" fill="#F8B8C0" stroke="#9a9a9a" stroke-width="0.45"/>
<rect x="397.12" y="818.30" width="14.91" height="11.20" fill="#FAC8CE" stroke="#9a9a9a" stroke-width="0.45"/>
<rect x="397.12" y="829.50" width="14.91" height="11.20" fill="#F7A9B2" stroke="#9a9a9a" stroke-width="0.45"/>
<rect x="397.12" y="840.70" width="14.91" height="11.20" fill="#F7B1B9" stroke="#9a9a9a" stroke-width="0.45"/>
<rect x="412.03" y="683.90" width="14.91" height="11.20" fill="#FCE0E3" stroke="#9a9a9a" stroke-width="0.45"/>
<rect x="412.03" y="695.10" width="14.91" height="11.20" fill="#FAC8CE" stroke="#9a9a9a" stroke-width="0.45"/>
<rect x="412.03" y="706.30" width="14.91" height="11.20" fill="#FAC8CE" stroke="#9a9a9a" stroke-width="0.45"/>
<rect x="412.03" y="717.50" width="14.91" height="11.20" fill="#FBD8DC" stroke="#9a9a9a" stroke-width="0.45"/>
<rect x="412.03" y="728.70" width="14.91" height="11.20" fill="#FAC8CE" stroke="#9a9a9a" stroke-width="0.45"/>
<rect x="412.03" y="739.90" width="14.91" height="11.20" fill="#FAC8CE" stroke="#9a9a9a" stroke-width="0.45"/>
<rect x="412.03" y="751.10" width="14.91" height="11.20" fill="#FAC8CE" stroke="#9a9a9a" stroke-width="0.45"/>
<rect x="412.03" y="762.30" width="14.91" height="11.20" fill="#FCDCE0" stroke="#9a9a9a" stroke-width="0.45"/>
<rect x="412.03" y="773.50" width="14.91" height="11.20" fill="#FCDCE0" stroke="#9a9a9a" stroke-width="0.45"/>
<rect x="412.03" y="784.70" width="14.91" height="11.20" fill="#FCE0E3" stroke="#9a9a9a" stroke-width="0.45"/>
<rect x="412.03" y="795.90" width="14.91" height="11.20" fill="#FCE5E8" stroke="#9a9a9a" stroke-width="0.45"/>
<rect x="412.03" y="807.10" width="14.91" height="11.20" fill="#FAC8CE" stroke="#9a9a9a" stroke-width="0.45"/>
<rect x="412.03" y="818.30" width="14.91" height="11.20" fill="#FAC8CE" stroke="#9a9a9a" stroke-width="0.45"/>
<rect x="412.03" y="829.50" width="14.91" height="11.20" fill="#FBD8DC" stroke="#9a9a9a" stroke-width="0.45"/>
<rect x="412.03" y="840.70" width="14.91" height="11.20" fill="#FAC8CE" stroke="#9a9a9a" stroke-width="0.45"/>
<rect x="426.94" y="683.90" width="14.91" height="11.20" fill="#EFEFFE" stroke="#9a9a9a" stroke-width="0.45"/>
<rect x="426.94" y="695.10" width="14.91" height="11.20" fill="#E6E6FE" stroke="#9a9a9a" stroke-width="0.45"/>
<rect x="426.94" y="706.30" width="14.91" height="11.20" fill="#EFEFFE" stroke="#9a9a9a" stroke-width="0.45"/>
<rect x="426.94" y="717.50" width="14.91" height="11.20" fill="#D9D9FD" stroke="#9a9a9a" stroke-width="0.45"/>
<rect x="426.94" y="728.70" width="14.91" height="11.20" fill="#EBEBFE" stroke="#9a9a9a" stroke-width="0.45"/>
<rect x="426.94" y="739.90" width="14.91" height="11.20" fill="#E2E2FE" stroke="#9a9a9a" stroke-width="0.45"/>
<rect x="426.94" y="751.10" width="14.91" height="11.20" fill="#E6E6FE" stroke="#9a9a9a" stroke-width="0.45"/>
<rect x="426.94" y="762.30" width="14.91" height="11.20" fill="#FFFFFF" stroke="#9a9a9a" stroke-width="0.45"/>
<rect x="426.94" y="773.50" width="14.91" height="11.20" fill="#CECEFD" stroke="#9a9a9a" stroke-width="0.45"/>
<rect x="426.94" y="784.70" width="14.91" height="11.20" fill="#BEBEFC" stroke="#9a9a9a" stroke-width="0.45"/>
<rect x="426.94" y="795.90" width="14.91" height="11.20" fill="#BEBEFC" stroke="#9a9a9a" stroke-width="0.45"/>
<rect x="426.94" y="807.10" width="14.91" height="11.20" fill="#FEF3F4" stroke="#9a9a9a" stroke-width="0.45"/>
<rect x="426.94" y="818.30" width="14.91" height="11.20" fill="#FDE8EA" stroke="#9a9a9a" stroke-width="0.45"/>
<rect x="426.94" y="829.50" width="14.91" height="11.20" fill="#D9D9FD" stroke="#9a9a9a" stroke-width="0.45"/>
<rect x="426.94" y="840.70" width="14.91" height="11.20" fill="#DEDEFE" stroke="#9a9a9a" stroke-width="0.45"/>
<rect x="441.86" y="683.90" width="14.91" height="11.20" fill="#9D9DFB" stroke="#9a9a9a" stroke-width="0.45"/>
<rect x="441.86" y="695.10" width="14.91" height="11.20" fill="#FDEFF1" stroke="#9a9a9a" stroke-width="0.45"/>
<rect x="441.86" y="706.30" width="14.91" height="11.20" fill="#FFFFFF" stroke="#9a9a9a" stroke-width="0.45"/>
<rect x="441.86" y="717.50" width="14.91" height="11.20" fill="#FFFFFF" stroke="#9a9a9a" stroke-width="0.45"/>
<rect x="441.86" y="728.70" width="14.91" height="11.20" fill="#FFFBFC" stroke="#9a9a9a" stroke-width="0.45"/>
<rect x="441.86" y="739.90" width="14.91" height="11.20" fill="#FDEFF1" stroke="#9a9a9a" stroke-width="0.45"/>
<rect x="441.86" y="751.10" width="14.91" height="11.20" fill="#FDE8EA" stroke="#9a9a9a" stroke-width="0.45"/>
<rect x="441.86" y="762.30" width="14.91" height="11.20" fill="#FCDCE0" stroke="#9a9a9a" stroke-width="0.45"/>
<rect x="441.86" y="773.50" width="14.91" height="11.20" fill="#FAC8CE" stroke="#9a9a9a" stroke-width="0.45"/>
<rect x="441.86" y="784.70" width="14.91" height="11.20" fill="#FCDCE0" stroke="#9a9a9a" stroke-width="0.45"/>
<rect x="441.86" y="795.90" width="14.91" height="11.20" fill="#FCDCE0" stroke="#9a9a9a" stroke-width="0.45"/>
<rect x="441.86" y="807.10" width="14.91" height="11.20" fill="#FEF6F7" stroke="#9a9a9a" stroke-width="0.45"/>
<rect x="441.86" y="818.30" width="14.91" height="11.20" fill="#FBFBFF" stroke="#9a9a9a" stroke-width="0.45"/>
<rect x="441.86" y="829.50" width="14.91" height="11.20" fill="#FDEFF1" stroke="#9a9a9a" stroke-width="0.45"/>
<rect x="441.86" y="840.70" width="14.91" height="11.20" fill="#FEF2F3" stroke="#9a9a9a" stroke-width="0.45"/>
<rect x="456.77" y="683.90" width="14.91" height="11.20" fill="#9D9DFB" stroke="#9a9a9a" stroke-width="0.45"/>
<rect x="456.77" y="695.10" width="14.91" height="11.20" fill="#FCE5E8" stroke="#9a9a9a" stroke-width="0.45"/>
<rect x="456.77" y="706.30" width="14.91" height="11.20" fill="#FDEFF1" stroke="#9a9a9a" stroke-width="0.45"/>
<rect x="456.77" y="717.50" width="14.91" height="11.20" fill="#FFFBFC" stroke="#9a9a9a" stroke-width="0.45"/>
<rect x="456.77" y="728.70" width="14.91" height="11.20" fill="#FDEFF1" stroke="#9a9a9a" stroke-width="0.45"/>
<rect x="456.77" y="739.90" width="14.91" height="11.20" fill="#FDE8EA" stroke="#9a9a9a" stroke-width="0.45"/>
<rect x="456.77" y="751.10" width="14.91" height="11.20" fill="#FDEAEC" stroke="#9a9a9a" stroke-width="0.45"/>
<rect x="456.77" y="762.30" width="14.91" height="11.20" fill="#FCDCE0" stroke="#9a9a9a" stroke-width="0.45"/>
<rect x="456.77" y="773.50" width="14.91" height="11.20" fill="#F8B8C0" stroke="#9a9a9a" stroke-width="0.45"/>
<rect x="456.77" y="784.70" width="14.91" height="11.20" fill="#F8B8C0" stroke="#9a9a9a" stroke-width="0.45"/>
<rect x="456.77" y="795.90" width="14.91" height="11.20" fill="#F9C0C7" stroke="#9a9a9a" stroke-width="0.45"/>
<rect x="456.77" y="807.10" width="14.91" height="11.20" fill="#FDEAEC" stroke="#9a9a9a" stroke-width="0.45"/>
<rect x="456.77" y="818.30" width="14.91" height="11.20" fill="#FDE8EA" stroke="#9a9a9a" stroke-width="0.45"/>
<rect x="456.77" y="829.50" width="14.91" height="11.20" fill="#FDE8EA" stroke="#9a9a9a" stroke-width="0.45"/>
<rect x="456.77" y="840.70" width="14.91" height="11.20" fill="#FDE8EA" stroke="#9a9a9a" stroke-width="0.45"/>
<rect x="471.69" y="683.90" width="14.91" height="11.20" fill="#FEF7F8" stroke="#9a9a9a" stroke-width="0.45"/>
<rect x="471.69" y="695.10" width="14.91" height="11.20" fill="#F7F7FF" stroke="#9a9a9a" stroke-width="0.45"/>
<rect x="471.69" y="706.30" width="14.91" height="11.20" fill="#D9D9FD" stroke="#9a9a9a" stroke-width="0.45"/>
<rect x="471.69" y="717.50" width="14.91" height="11.20" fill="#CECEFD" stroke="#9a9a9a" stroke-width="0.45"/>
<rect x="471.69" y="728.70" width="14.91" height="11.20" fill="#D6D6FD" stroke="#9a9a9a" stroke-width="0.45"/>
<rect x="471.69" y="739.90" width="14.91" height="11.20" fill="#DEDEFE" stroke="#9a9a9a" stroke-width="0.45"/>
<rect x="471.69" y="751.10" width="14.91" height="11.20" fill="#F7F7FF" stroke="#9a9a9a" stroke-width="0.45"/>
<rect x="471.69" y="762.30" width="14.91" height="11.20" fill="#F7F7FF" stroke="#9a9a9a" stroke-width="0.45"/>
<rect x="471.69" y="773.50" width="14.91" height="11.20" fill="#E4E4FE" stroke="#9a9a9a" stroke-width="0.45"/>
<rect x="471.69" y="784.70" width="14.91" height="11.20" fill="#BEBEFC" stroke="#9a9a9a" stroke-width="0.45"/>
<rect x="471.69" y="795.90" width="14.91" height="11.20" fill="#CECEFD" stroke="#9a9a9a" stroke-width="0.45"/>
<rect x="471.69" y="807.10" width="14.91" height="11.20" fill="#BEBEFC" stroke="#9a9a9a" stroke-width="0.45"/>
<rect x="471.69" y="818.30" width="14.91" height="11.20" fill="#BEBEFC" stroke="#9a9a9a" stroke-width="0.45"/>
<rect x="471.69" y="829.50" width="14.91" height="11.20" fill="#CECEFD" stroke="#9a9a9a" stroke-width="0.45"/>
<rect x="471.69" y="840.70" width="14.91" height="11.20" fill="#D6D6FD" stroke="#9a9a9a" stroke-width="0.45"/>
<rect x="486.61" y="683.90" width="14.91" height="11.20" fill="#9D9DFB" stroke="#9a9a9a" stroke-width="0.45"/>
<rect x="486.61" y="695.10" width="14.91" height="11.20" fill="#FDEFF1" stroke="#9a9a9a" stroke-width="0.45"/>
<rect x="486.61" y="706.30" width="14.91" height="11.20" fill="#FFFFFF" stroke="#9a9a9a" stroke-width="0.45"/>
<rect x="486.61" y="717.50" width="14.91" height="11.20" fill="#FBFBFF" stroke="#9a9a9a" stroke-width="0.45"/>
<rect x="486.61" y="728.70" width="14.91" height="11.20" fill="#FFFFFF" stroke="#9a9a9a" stroke-width="0.45"/>
<rect x="486.61" y="739.90" width="14.91" height="11.20" fill="#FEF6F7" stroke="#9a9a9a" stroke-width="0.45"/>
<rect x="486.61" y="751.10" width="14.91" height="11.20" fill="#FDE8EA" stroke="#9a9a9a" stroke-width="0.45"/>
<rect x="486.61" y="762.30" width="14.91" height="11.20" fill="#FCE0E3" stroke="#9a9a9a" stroke-width="0.45"/>
<rect x="486.61" y="773.50" width="14.91" height="11.20" fill="#FCDCE0" stroke="#9a9a9a" stroke-width="0.45"/>
<rect x="486.61" y="784.70" width="14.91" height="11.20" fill="#FFFBFC" stroke="#9a9a9a" stroke-width="0.45"/>
<rect x="486.61" y="795.90" width="14.91" height="11.20" fill="#FEF7F8" stroke="#9a9a9a" stroke-width="0.45"/>
<rect x="486.61" y="807.10" width="14.91" height="11.20" fill="#FFFDFE" stroke="#9a9a9a" stroke-width="0.45"/>
<rect x="486.61" y="818.30" width="14.91" height="11.20" fill="#FFFFFF" stroke="#9a9a9a" stroke-width="0.45"/>
<rect x="486.61" y="829.50" width="14.91" height="11.20" fill="#FFFFFF" stroke="#9a9a9a" stroke-width="0.45"/>
<rect x="486.61" y="840.70" width="14.91" height="11.20" fill="#FFFFFF" stroke="#9a9a9a" stroke-width="0.45"/>
<text x="503.80" y="680.30" font-family="Liberation Sans, sans-serif" font-size="6.6" text-anchor="start" fill="#111" font-weight="bold" font-style="normal" >Group</text>
<text x="503.80" y="691.80" font-family="Liberation Sans, sans-serif" font-size="6.95" text-anchor="start" fill="#111" font-weight="normal" font-style="normal" >Cell motility</text>
<text x="503.80" y="703.00" font-family="Liberation Sans, sans-serif" font-size="6.95" text-anchor="start" fill="#111" font-weight="normal" font-style="normal" >Translation</text>
<text x="503.80" y="714.20" font-family="Liberation Sans, sans-serif" font-size="6.95" text-anchor="start" fill="#111" font-weight="normal" font-style="normal" >Folding, sorting and degradation</text>
<text x="503.80" y="725.40" font-family="Liberation Sans, sans-serif" font-size="6.95" text-anchor="start" fill="#111" font-weight="normal" font-style="normal" >Global and overview maps</text>
<text x="503.80" y="736.60" font-family="Liberation Sans, sans-serif" font-size="6.95" text-anchor="start" fill="#111" font-weight="normal" font-style="normal" >Nucleotide metabolism</text>
<text x="503.80" y="747.80" font-family="Liberation Sans, sans-serif" font-size="6.95" text-anchor="start" fill="#111" font-weight="normal" font-style="normal" >Amino acid metabolism</text>
<text x="503.80" y="759.00" font-family="Liberation Sans, sans-serif" font-size="6.95" text-anchor="start" fill="#111" font-weight="normal" font-style="normal" >Replication and repair</text>
<text x="503.80" y="770.20" font-family="Liberation Sans, sans-serif" font-size="6.95" text-anchor="start" fill="#111" font-weight="normal" font-style="normal" >Metabolism of terpenoids and polyketides</text>
<text x="503.80" y="781.40" font-family="Liberation Sans, sans-serif" font-size="6.95" text-anchor="start" fill="#111" font-weight="normal" font-style="normal" >Endocrine system</text>
<text x="503.80" y="792.60" font-family="Liberation Sans, sans-serif" font-size="6.95" text-anchor="start" fill="#111" font-weight="normal" font-style="normal" >Glycan biosynthesis and metabolism</text>
<text x="503.80" y="803.80" font-family="Liberation Sans, sans-serif" font-size="6.95" text-anchor="start" fill="#111" font-weight="normal" font-style="normal" >Biosynthesis of other secondary metabolites</text>
<text x="503.80" y="815.00" font-family="Liberation Sans, sans-serif" font-size="6.95" text-anchor="start" fill="#111" font-weight="normal" font-style="normal" >Metabolism of other amino acids</text>
<text x="503.80" y="826.20" font-family="Liberation Sans, sans-serif" font-size="6.95" text-anchor="start" fill="#111" font-weight="normal" font-style="normal" >Drug resistance: antimicrobial</text>
<text x="503.80" y="837.40" font-family="Liberation Sans, sans-serif" font-size="6.95" text-anchor="start" fill="#111" font-weight="normal" font-style="normal" >Carbohydrate metabolism</text>
<text x="503.80" y="848.60" font-family="Liberation Sans, sans-serif" font-size="6.95" text-anchor="start" fill="#111" font-weight="normal" font-style="normal" >Lipid metabolism</text>
<defs><linearGradient id="cb" x1="0" y1="0" x2="0" y2="1"><stop offset="0" stop-color="#FA1A14"/><stop offset="0.5" stop-color="#FFFFFF"/><stop offset="1" stop-color="#0000FF"/></linearGradient></defs>
<rect x="646.10" y="674.00" width="7.50" height="111.80" fill="url(#cb)" />
<text x="656.50" y="678.10" font-family="Liberation Sans, sans-serif" font-size="6.6" text-anchor="start" fill="#111" font-weight="normal" font-style="normal" >3</text>
<text x="656.50" y="696.40" font-family="Liberation Sans, sans-serif" font-size="6.6" text-anchor="start" fill="#111" font-weight="normal" font-style="normal" >2</text>
<text x="656.50" y="714.70" font-family="Liberation Sans, sans-serif" font-size="6.6" text-anchor="start" fill="#111" font-weight="normal" font-style="normal" >1</text>
<text x="656.50" y="733.00" font-family="Liberation Sans, sans-serif" font-size="6.6" text-anchor="start" fill="#111" font-weight="normal" font-style="normal" >0</text>
<text x="656.50" y="751.30" font-family="Liberation Sans, sans-serif" font-size="6.6" text-anchor="start" fill="#111" font-weight="normal" font-style="normal" >-1</text>
<text x="656.50" y="769.60" font-family="Liberation Sans, sans-serif" font-size="6.6" text-anchor="start" fill="#111" font-weight="normal" font-style="normal" >-2</text>
<text x="656.50" y="787.90" font-family="Liberation Sans, sans-serif" font-size="6.6" text-anchor="start" fill="#111" font-weight="normal" font-style="normal" >-3</text>
<line x1="44.39" y1="689.36" x2="44.39" y2="763.48" stroke="#222" stroke-width="0.5" />
<line x1="44.39" y1="689.36" x2="84.04" y2="689.36" stroke="#222" stroke-width="0.5" />
<line x1="44.39" y1="763.48" x2="70.48" y2="763.48" stroke="#222" stroke-width="0.5" />
<line x1="70.48" y1="718.82" x2="70.48" y2="808.14" stroke="#222" stroke-width="0.5" />
<line x1="70.48" y1="718.82" x2="77.78" y2="718.82" stroke="#222" stroke-width="0.5" />
<line x1="70.48" y1="808.14" x2="73.61" y2="808.14" stroke="#222" stroke-width="0.5" />
<line x1="77.78" y1="700.56" x2="77.78" y2="737.60" stroke="#222" stroke-width="0.5" />
<line x1="77.78" y1="700.56" x2="84.04" y2="700.56" stroke="#222" stroke-width="0.5" />
<line x1="77.78" y1="737.60" x2="79.24" y2="737.60" stroke="#222" stroke-width="0.5" />
<line x1="79.24" y1="720.49" x2="79.24" y2="754.30" stroke="#222" stroke-width="0.5" />
<line x1="79.24" y1="720.49" x2="80.49" y2="720.49" stroke="#222" stroke-width="0.5" />
<line x1="80.49" y1="711.76" x2="80.49" y2="728.56" stroke="#222" stroke-width="0.5" />
<line x1="80.49" y1="711.76" x2="84.04" y2="711.76" stroke="#222" stroke-width="0.5" />
<line x1="80.49" y1="728.56" x2="81.33" y2="728.56" stroke="#222" stroke-width="0.5" />
<line x1="81.33" y1="722.96" x2="81.33" y2="734.16" stroke="#222" stroke-width="0.5" />
<line x1="81.33" y1="722.96" x2="84.04" y2="722.96" stroke="#222" stroke-width="0.5" />
<line x1="81.33" y1="734.16" x2="84.04" y2="734.16" stroke="#222" stroke-width="0.5" />
<line x1="79.24" y1="754.30" x2="79.87" y2="754.30" stroke="#222" stroke-width="0.5" />
<line x1="79.87" y1="745.36" x2="79.87" y2="762.16" stroke="#222" stroke-width="0.5" />
<line x1="79.87" y1="745.36" x2="84.04" y2="745.36" stroke="#222" stroke-width="0.5" />
<line x1="79.87" y1="762.16" x2="80.91" y2="762.16" stroke="#222" stroke-width="0.5" />
<line x1="80.91" y1="756.56" x2="80.91" y2="767.76" stroke="#222" stroke-width="0.5" />
<line x1="80.91" y1="756.56" x2="84.04" y2="756.56" stroke="#222" stroke-width="0.5" />
<line x1="80.91" y1="767.76" x2="84.04" y2="767.76" stroke="#222" stroke-width="0.5" />
<line x1="73.61" y1="787.69" x2="73.61" y2="829.84" stroke="#222" stroke-width="0.5" />
<line x1="73.61" y1="787.69" x2="77.78" y2="787.69" stroke="#222" stroke-width="0.5" />
<line x1="77.78" y1="778.96" x2="77.78" y2="795.76" stroke="#222" stroke-width="0.5" />
<line x1="77.78" y1="778.96" x2="84.04" y2="778.96" stroke="#222" stroke-width="0.5" />
<line x1="77.78" y1="795.76" x2="80.49" y2="795.76" stroke="#222" stroke-width="0.5" />
<line x1="80.49" y1="790.16" x2="80.49" y2="801.36" stroke="#222" stroke-width="0.5" />
<line x1="80.49" y1="790.16" x2="84.04" y2="790.16" stroke="#222" stroke-width="0.5" />
<line x1="80.49" y1="801.36" x2="84.04" y2="801.36" stroke="#222" stroke-width="0.5" />
<line x1="73.61" y1="829.84" x2="76.74" y2="829.84" stroke="#222" stroke-width="0.5" />
<line x1="76.74" y1="818.16" x2="76.74" y2="840.56" stroke="#222" stroke-width="0.5" />
<line x1="76.74" y1="818.16" x2="80.49" y2="818.16" stroke="#222" stroke-width="0.5" />
<line x1="80.49" y1="812.56" x2="80.49" y2="823.76" stroke="#222" stroke-width="0.5" />
<line x1="80.49" y1="812.56" x2="84.04" y2="812.56" stroke="#222" stroke-width="0.5" />
<line x1="80.49" y1="823.76" x2="84.04" y2="823.76" stroke="#222" stroke-width="0.5" />
<line x1="76.74" y1="840.56" x2="80.49" y2="840.56" stroke="#222" stroke-width="0.5" />
<line x1="80.49" y1="834.96" x2="80.49" y2="846.16" stroke="#222" stroke-width="0.5" />
<line x1="80.49" y1="834.96" x2="84.04" y2="834.96" stroke="#222" stroke-width="0.5" />
<line x1="80.49" y1="846.16" x2="84.04" y2="846.16" stroke="#222" stroke-width="0.5" />
<rect x="281.72" y="179.11" width="60.61" height="3.95" fill="#F4BE7E" stroke="#6a583a" stroke-width="0.4"/>
<text x="280.43" y="182.20" font-family="Liberation Sans, sans-serif" font-size="2.93" text-anchor="end" fill="#111" font-weight="normal" font-style="normal" >o__Bacteroidales</text>
<rect x="281.72" y="184.30" width="60.61" height="3.95" fill="#F4BE7E" stroke="#6a583a" stroke-width="0.4"/>
<text x="280.43" y="187.39" font-family="Liberation Sans, sans-serif" font-size="2.93" text-anchor="end" fill="#111" font-weight="normal" font-style="normal" >c__Bacteroidia</text>
<rect x="281.72" y="189.49" width="60.61" height="3.95" fill="#F4BE7E" stroke="#6a583a" stroke-width="0.4"/>
<text x="280.43" y="192.58" font-family="Liberation Sans, sans-serif" font-size="2.93" text-anchor="end" fill="#111" font-weight="normal" font-style="normal" >p__Bacteroidota</text>
<rect x="281.72" y="194.68" width="59.58" height="3.95" fill="#F4BE7E" stroke="#6a583a" stroke-width="0.4"/>
<text x="280.43" y="197.77" font-family="Liberation Sans, sans-serif" font-size="2.93" text-anchor="end" fill="#111" font-weight="normal" font-style="normal" >f__Muribaculaceae</text>
<rect x="281.72" y="199.87" width="59.58" height="3.95" fill="#F4BE7E" stroke="#6a583a" stroke-width="0.4"/>
<text x="280.43" y="202.96" font-family="Liberation Sans, sans-serif" font-size="2.93" text-anchor="end" fill="#111" font-weight="normal" font-style="normal" >p__Proteobacteria</text>
<rect x="281.72" y="205.06" width="59.32" height="3.95" fill="#F4BE7E" stroke="#6a583a" stroke-width="0.4"/>
<text x="280.43" y="208.15" font-family="Liberation Sans, sans-serif" font-size="2.93" text-anchor="end" fill="#111" font-weight="normal" font-style="normal" >g__Muribaculaceae</text>
<rect x="281.72" y="210.25" width="58.81" height="3.95" fill="#F4BE7E" stroke="#6a583a" stroke-width="0.4"/>
<text x="280.43" y="213.34" font-family="Liberation Sans, sans-serif" font-size="2.93" text-anchor="end" fill="#111" font-weight="normal" font-style="normal" >g__Parabacteroides</text>
<rect x="281.72" y="215.44" width="58.81" height="3.95" fill="#F4BE7E" stroke="#6a583a" stroke-width="0.4"/>
<text x="280.43" y="218.53" font-family="Liberation Sans, sans-serif" font-size="2.93" text-anchor="end" fill="#111" font-weight="normal" font-style="normal" >f__Tannerellaceae</text>
<rect x="281.72" y="220.63" width="58.81" height="3.95" fill="#F4BE7E" stroke="#6a583a" stroke-width="0.4"/>
<text x="280.43" y="223.72" font-family="Liberation Sans, sans-serif" font-size="2.93" text-anchor="end" fill="#111" font-weight="normal" font-style="normal" >o__Enterobacterales</text>
<rect x="281.72" y="225.82" width="58.55" height="3.95" fill="#F4BE7E" stroke="#6a583a" stroke-width="0.4"/>
<text x="280.43" y="228.91" font-family="Liberation Sans, sans-serif" font-size="2.93" text-anchor="end" fill="#111" font-weight="normal" font-style="normal" >f__Enterobacteriaceae</text>
<rect x="281.72" y="231.00" width="58.03" height="3.95" fill="#F4BE7E" stroke="#6a583a" stroke-width="0.4"/>
<text x="280.43" y="234.10" font-family="Liberation Sans, sans-serif" font-size="2.93" text-anchor="end" fill="#111" font-weight="normal" font-style="normal" >g__Escherichia_Shigella</text>
<rect x="281.72" y="236.19" width="57.00" height="3.95" fill="#F4BE7E" stroke="#6a583a" stroke-width="0.4"/>
<text x="280.43" y="239.29" font-family="Liberation Sans, sans-serif" font-size="2.93" text-anchor="end" fill="#111" font-weight="normal" font-style="normal" >f__Monoglobaceae</text>
<rect x="281.72" y="241.38" width="57.00" height="3.95" fill="#F4BE7E" stroke="#6a583a" stroke-width="0.4"/>
<text x="280.43" y="244.48" font-family="Liberation Sans, sans-serif" font-size="2.93" text-anchor="end" fill="#111" font-weight="normal" font-style="normal" >o__Monoglobales</text>
<rect x="281.72" y="246.57" width="56.74" height="3.95" fill="#F4BE7E" stroke="#6a583a" stroke-width="0.4"/>
<text x="280.43" y="249.67" font-family="Liberation Sans, sans-serif" font-size="2.93" text-anchor="end" fill="#111" font-weight="normal" font-style="normal" >g__Monoglobus</text>
<rect x="281.72" y="251.76" width="43.33" height="3.95" fill="#F4BE7E" stroke="#6a583a" stroke-width="0.4"/>
<text x="280.43" y="254.86" font-family="Liberation Sans, sans-serif" font-size="2.93" text-anchor="end" fill="#111" font-weight="normal" font-style="normal" >g__Roseburia</text>
<rect x="281.72" y="256.95" width="42.82" height="3.95" fill="#F4BE7E" stroke="#6a583a" stroke-width="0.4"/>
<text x="280.43" y="260.05" font-family="Liberation Sans, sans-serif" font-size="2.93" text-anchor="end" fill="#111" font-weight="normal" font-style="normal" >o__Peptostreptococcales_Tissierellales</text>
<rect x="239.17" y="262.14" width="42.56" height="3.95" fill="#BBAAD9" stroke="#4f4868" stroke-width="0.4"/>
<text x="283.27" y="265.24" font-family="Liberation Sans, sans-serif" font-size="2.93" text-anchor="start" fill="#111" font-weight="normal" font-style="normal" >g__Negativibacillus</text>
<rect x="235.30" y="267.33" width="46.43" height="3.95" fill="#BBAAD9" stroke="#4f4868" stroke-width="0.4"/>
<text x="283.27" y="270.43" font-family="Liberation Sans, sans-serif" font-size="2.93" text-anchor="start" fill="#111" font-weight="normal" font-style="normal" >g__ASF356</text>
<rect x="235.30" y="272.52" width="46.43" height="3.95" fill="#BBAAD9" stroke="#4f4868" stroke-width="0.4"/>
<text x="283.27" y="275.62" font-family="Liberation Sans, sans-serif" font-size="2.93" text-anchor="start" fill="#111" font-weight="normal" font-style="normal" >g__Lachnoclostridium</text>
<rect x="234.52" y="277.71" width="47.20" height="3.95" fill="#BBAAD9" stroke="#4f4868" stroke-width="0.4"/>
<text x="283.27" y="280.81" font-family="Liberation Sans, sans-serif" font-size="2.93" text-anchor="start" fill="#111" font-weight="normal" font-style="normal" >g__Ruminococcus</text>
<rect x="232.20" y="282.90" width="49.52" height="3.95" fill="#BBAAD9" stroke="#4f4868" stroke-width="0.4"/>
<text x="283.27" y="286.00" font-family="Liberation Sans, sans-serif" font-size="2.93" text-anchor="start" fill="#111" font-weight="normal" font-style="normal" >g__Harryflintia</text>
<rect x="231.43" y="288.09" width="50.30" height="3.95" fill="#BBAAD9" stroke="#4f4868" stroke-width="0.4"/>
<text x="283.27" y="291.19" font-family="Liberation Sans, sans-serif" font-size="2.93" text-anchor="start" fill="#111" font-weight="normal" font-style="normal" >g__Roseburia</text>
<rect x="228.85" y="293.28" width="52.88" height="3.95" fill="#BBAAD9" stroke="#4f4868" stroke-width="0.4"/>
<text x="283.27" y="296.37" font-family="Liberation Sans, sans-serif" font-size="2.93" text-anchor="start" fill="#111" font-weight="normal" font-style="normal" >f__Ruminococcaceae</text>
<rect x="227.56" y="298.47" width="54.17" height="3.95" fill="#BBAAD9" stroke="#4f4868" stroke-width="0.4"/>
<text x="283.27" y="301.56" font-family="Liberation Sans, sans-serif" font-size="2.93" text-anchor="start" fill="#111" font-weight="normal" font-style="normal" >g__Lachnospiraceae_NK4A136_group</text>
<rect x="226.27" y="303.66" width="55.46" height="3.95" fill="#BBAAD9" stroke="#4f4868" stroke-width="0.4"/>
<text x="283.27" y="306.75" font-family="Liberation Sans, sans-serif" font-size="2.93" text-anchor="start" fill="#111" font-weight="normal" font-style="normal" >f__Clostridia_vadinBB60_group</text>
<rect x="226.27" y="308.85" width="55.46" height="3.95" fill="#BBAAD9" stroke="#4f4868" stroke-width="0.4"/>
<text x="283.27" y="311.94" font-family="Liberation Sans, sans-serif" font-size="2.93" text-anchor="start" fill="#111" font-weight="normal" font-style="normal" >o__Clostridia_vadinBB60_group</text>
<rect x="226.27" y="314.04" width="55.46" height="3.95" fill="#BBAAD9" stroke="#4f4868" stroke-width="0.4"/>
<text x="283.27" y="317.13" font-family="Liberation Sans, sans-serif" font-size="2.93" text-anchor="start" fill="#111" font-weight="normal" font-style="normal" >g__Clostridia_vadinBB60_group</text>
<rect x="223.17" y="319.23" width="58.55" height="3.95" fill="#BBAAD9" stroke="#4f4868" stroke-width="0.4"/>
<text x="283.27" y="322.32" font-family="Liberation Sans, sans-serif" font-size="2.93" text-anchor="start" fill="#111" font-weight="normal" font-style="normal" >f__Prevotellaceae</text>
<rect x="223.17" y="324.42" width="58.55" height="3.95" fill="#BBAAD9" stroke="#4f4868" stroke-width="0.4"/>
<text x="283.27" y="327.51" font-family="Liberation Sans, sans-serif" font-size="2.93" text-anchor="start" fill="#111" font-weight="normal" font-style="normal" >g__Alloprevotella</text>
<rect x="222.40" y="329.61" width="59.32" height="3.95" fill="#BBAAD9" stroke="#4f4868" stroke-width="0.4"/>
<text x="283.27" y="332.70" font-family="Liberation Sans, sans-serif" font-size="2.93" text-anchor="start" fill="#111" font-weight="normal" font-style="normal" >o__Lachnospirales</text>
<rect x="222.40" y="334.80" width="59.32" height="3.95" fill="#BBAAD9" stroke="#4f4868" stroke-width="0.4"/>
<text x="283.27" y="337.89" font-family="Liberation Sans, sans-serif" font-size="2.93" text-anchor="start" fill="#111" font-weight="normal" font-style="normal" >f__Lachnospiraceae</text>
<rect x="221.88" y="339.99" width="59.84" height="3.95" fill="#BBAAD9" stroke="#4f4868" stroke-width="0.4"/>
<text x="283.27" y="343.08" font-family="Liberation Sans, sans-serif" font-size="2.93" text-anchor="start" fill="#111" font-weight="normal" font-style="normal" >f__Helicobacteraceae</text>
<rect x="221.88" y="345.18" width="59.84" height="3.95" fill="#BBAAD9" stroke="#4f4868" stroke-width="0.4"/>
<text x="283.27" y="348.27" font-family="Liberation Sans, sans-serif" font-size="2.93" text-anchor="start" fill="#111" font-weight="normal" font-style="normal" >o__Campylobacterales</text>
<rect x="221.88" y="350.36" width="59.84" height="3.95" fill="#BBAAD9" stroke="#4f4868" stroke-width="0.4"/>
<text x="283.27" y="353.46" font-family="Liberation Sans, sans-serif" font-size="2.93" text-anchor="start" fill="#111" font-weight="normal" font-style="normal" >c__Campylobacteria</text>
<rect x="221.88" y="355.55" width="59.84" height="3.95" fill="#BBAAD9" stroke="#4f4868" stroke-width="0.4"/>
<text x="283.27" y="358.65" font-family="Liberation Sans, sans-serif" font-size="2.93" text-anchor="start" fill="#111" font-weight="normal" font-style="normal" >p__Campilobacterota</text>
<rect x="221.88" y="360.74" width="59.84" height="3.95" fill="#BBAAD9" stroke="#4f4868" stroke-width="0.4"/>
<text x="283.27" y="363.84" font-family="Liberation Sans, sans-serif" font-size="2.93" text-anchor="start" fill="#111" font-weight="normal" font-style="normal" >g__Helicobacter</text>
<rect x="221.63" y="365.93" width="60.10" height="3.95" fill="#BBAAD9" stroke="#4f4868" stroke-width="0.4"/>
<text x="283.27" y="369.03" font-family="Liberation Sans, sans-serif" font-size="2.93" text-anchor="start" fill="#111" font-weight="normal" font-style="normal" >p__Firmicutes</text>
<rect x="221.11" y="371.12" width="60.61" height="3.95" fill="#BBAAD9" stroke="#4f4868" stroke-width="0.4"/>
<text x="283.27" y="374.22" font-family="Liberation Sans, sans-serif" font-size="2.93" text-anchor="start" fill="#111" font-weight="normal" font-style="normal" >c__Clostridia</text>
<line x1="226.78" y1="175.32" x2="226.78" y2="376.50" stroke="#333" stroke-width="0.45" />
<line x1="254.13" y1="175.32" x2="254.13" y2="376.50" stroke="#333" stroke-width="0.45" />
<line x1="281.72" y1="175.32" x2="281.72" y2="376.50" stroke="#333" stroke-width="0.45" />
<line x1="309.32" y1="175.32" x2="309.32" y2="376.50" stroke="#333" stroke-width="0.45" />
<line x1="336.66" y1="175.32" x2="336.66" y2="376.50" stroke="#333" stroke-width="0.45" />
<text x="226.78" y="383.90" font-family="Liberation Sans, sans-serif" font-size="5.0" text-anchor="middle" fill="#222" font-weight="normal" font-style="normal" >−4</text>
<text x="254.13" y="383.90" font-family="Liberation Sans, sans-serif" font-size="5.0" text-anchor="middle" fill="#222" font-weight="normal" font-style="normal" >−2</text>
<text x="281.72" y="383.90" font-family="Liberation Sans, sans-serif" font-size="5.0" text-anchor="middle" fill="#222" font-weight="normal" font-style="normal" >0</text>
<text x="309.32" y="383.90" font-family="Liberation Sans, sans-serif" font-size="5.0" text-anchor="middle" fill="#222" font-weight="normal" font-style="normal" >2</text>
<text x="336.66" y="383.90" font-family="Liberation Sans, sans-serif" font-size="5.0" text-anchor="middle" fill="#222" font-weight="normal" font-style="normal" >4</text>
<text x="281.80" y="389.20" font-family="Liberation Sans, sans-serif" font-size="4.1" text-anchor="middle" fill="#222" font-weight="normal" font-style="normal" >LDA SCORE (log 10)</text>
<rect x="282.64" y="428.83" width="72.88" height="4.67" fill="#F4BE7E" stroke="#6a583a" stroke-width="0.4"/>
<text x="281.23" y="432.43" font-family="Liberation Sans, sans-serif" font-size="3.5" text-anchor="end" fill="#111" font-weight="normal" font-style="normal" >o__Desulfovibrionales</text>
<rect x="282.64" y="434.91" width="72.88" height="4.67" fill="#F4BE7E" stroke="#6a583a" stroke-width="0.4"/>
<text x="281.23" y="438.51" font-family="Liberation Sans, sans-serif" font-size="3.5" text-anchor="end" fill="#111" font-weight="normal" font-style="normal" >f__Desulfovibrionaceae</text>
<rect x="282.64" y="440.98" width="72.88" height="4.67" fill="#F4BE7E" stroke="#6a583a" stroke-width="0.4"/>
<text x="281.23" y="444.59" font-family="Liberation Sans, sans-serif" font-size="3.5" text-anchor="end" fill="#111" font-weight="normal" font-style="normal" >p__Desulfobacterota</text>
<rect x="282.64" y="447.06" width="72.88" height="4.67" fill="#F4BE7E" stroke="#6a583a" stroke-width="0.4"/>
<text x="281.23" y="450.66" font-family="Liberation Sans, sans-serif" font-size="3.5" text-anchor="end" fill="#111" font-weight="normal" font-style="normal" >c__Desulfovibrionia</text>
<rect x="282.64" y="453.14" width="68.94" height="4.67" fill="#F4BE7E" stroke="#6a583a" stroke-width="0.4"/>
<text x="281.23" y="456.74" font-family="Liberation Sans, sans-serif" font-size="3.5" text-anchor="end" fill="#111" font-weight="normal" font-style="normal" >f__Muribaculaceae</text>
<rect x="282.64" y="459.22" width="68.94" height="4.67" fill="#F4BE7E" stroke="#6a583a" stroke-width="0.4"/>
<text x="281.23" y="462.82" font-family="Liberation Sans, sans-serif" font-size="3.5" text-anchor="end" fill="#111" font-weight="normal" font-style="normal" >g__Muribaculaceae</text>
<rect x="282.64" y="465.30" width="59.09" height="4.67" fill="#F4BE7E" stroke="#6a583a" stroke-width="0.4"/>
<text x="281.23" y="468.90" font-family="Liberation Sans, sans-serif" font-size="3.5" text-anchor="end" fill="#111" font-weight="normal" font-style="normal" >f__Rikenellaceae</text>
<rect x="282.64" y="471.37" width="51.77" height="4.67" fill="#F4BE7E" stroke="#6a583a" stroke-width="0.4"/>
<text x="281.23" y="474.97" font-family="Liberation Sans, sans-serif" font-size="3.5" text-anchor="end" fill="#111" font-weight="normal" font-style="normal" >g__Faecalibaculum</text>
<rect x="282.64" y="477.45" width="49.80" height="4.67" fill="#F4BE7E" stroke="#6a583a" stroke-width="0.4"/>
<text x="281.23" y="481.05" font-family="Liberation Sans, sans-serif" font-size="3.5" text-anchor="end" fill="#111" font-weight="normal" font-style="normal" >o__Rhodospirillales</text>
<rect x="282.64" y="483.53" width="49.80" height="4.67" fill="#F4BE7E" stroke="#6a583a" stroke-width="0.4"/>
<text x="281.23" y="487.13" font-family="Liberation Sans, sans-serif" font-size="3.5" text-anchor="end" fill="#111" font-weight="normal" font-style="normal" >c__Alphaproteobacteria</text>
<rect x="282.64" y="489.61" width="49.80" height="4.67" fill="#F4BE7E" stroke="#6a583a" stroke-width="0.4"/>
<text x="281.23" y="493.21" font-family="Liberation Sans, sans-serif" font-size="3.5" text-anchor="end" fill="#111" font-weight="normal" font-style="normal" >g__Rikenella</text>
<rect x="232.83" y="495.68" width="49.80" height="4.67" fill="#80D87A" stroke="#2a552a" stroke-width="0.4"/>
<text x="284.89" y="499.29" font-family="Liberation Sans, sans-serif" font-size="3.5" text-anchor="start" fill="#111" font-weight="normal" font-style="normal" >g___Eubacterium__fissicatena_group</text>
<rect x="231.71" y="501.76" width="50.93" height="4.67" fill="#80D87A" stroke="#2a552a" stroke-width="0.4"/>
<text x="284.89" y="505.36" font-family="Liberation Sans, sans-serif" font-size="3.5" text-anchor="start" fill="#111" font-weight="normal" font-style="normal" >g__Christensenellaceae_R_7_group</text>
<rect x="231.71" y="507.84" width="50.93" height="4.67" fill="#80D87A" stroke="#2a552a" stroke-width="0.4"/>
<text x="284.89" y="511.44" font-family="Liberation Sans, sans-serif" font-size="3.5" text-anchor="start" fill="#111" font-weight="normal" font-style="normal" >f__Christensenellaceae</text>
<rect x="231.71" y="513.92" width="50.93" height="4.67" fill="#80D87A" stroke="#2a552a" stroke-width="0.4"/>
<text x="284.89" y="517.52" font-family="Liberation Sans, sans-serif" font-size="3.5" text-anchor="start" fill="#111" font-weight="normal" font-style="normal" >o__Christensenellales</text>
<rect x="230.86" y="519.99" width="51.77" height="4.67" fill="#80D87A" stroke="#2a552a" stroke-width="0.4"/>
<text x="284.89" y="523.60" font-family="Liberation Sans, sans-serif" font-size="3.5" text-anchor="start" fill="#111" font-weight="normal" font-style="normal" >f__Peptococcaceae</text>
<rect x="230.86" y="526.07" width="51.77" height="4.67" fill="#80D87A" stroke="#2a552a" stroke-width="0.4"/>
<text x="284.89" y="529.67" font-family="Liberation Sans, sans-serif" font-size="3.5" text-anchor="start" fill="#111" font-weight="normal" font-style="normal" >o__Peptococcales</text>
<rect x="228.61" y="532.15" width="54.02" height="4.67" fill="#80D87A" stroke="#2a552a" stroke-width="0.4"/>
<text x="284.89" y="535.75" font-family="Liberation Sans, sans-serif" font-size="3.5" text-anchor="start" fill="#111" font-weight="normal" font-style="normal" >g__Dubosiella</text>
<rect x="227.77" y="538.23" width="54.87" height="4.67" fill="#80D87A" stroke="#2a552a" stroke-width="0.4"/>
<text x="284.89" y="541.83" font-family="Liberation Sans, sans-serif" font-size="3.5" text-anchor="start" fill="#111" font-weight="normal" font-style="normal" >o__Peptostreptococcales_Tissierellales</text>
<rect x="226.08" y="544.31" width="56.56" height="4.67" fill="#80D87A" stroke="#2a552a" stroke-width="0.4"/>
<text x="284.89" y="547.91" font-family="Liberation Sans, sans-serif" font-size="3.5" text-anchor="start" fill="#111" font-weight="normal" font-style="normal" >c__Actinobacteria</text>
<rect x="226.08" y="550.38" width="56.56" height="4.67" fill="#80D87A" stroke="#2a552a" stroke-width="0.4"/>
<text x="284.89" y="553.98" font-family="Liberation Sans, sans-serif" font-size="3.5" text-anchor="start" fill="#111" font-weight="normal" font-style="normal" >g__Bifidobacterium</text>
<rect x="226.08" y="556.46" width="56.56" height="4.67" fill="#80D87A" stroke="#2a552a" stroke-width="0.4"/>
<text x="284.89" y="560.06" font-family="Liberation Sans, sans-serif" font-size="3.5" text-anchor="start" fill="#111" font-weight="normal" font-style="normal" >f__Bifidobacteriaceae</text>
<rect x="226.08" y="562.54" width="56.56" height="4.67" fill="#80D87A" stroke="#2a552a" stroke-width="0.4"/>
<text x="284.89" y="566.14" font-family="Liberation Sans, sans-serif" font-size="3.5" text-anchor="start" fill="#111" font-weight="normal" font-style="normal" >o__Bifidobacteriales</text>
<rect x="223.55" y="568.62" width="59.09" height="4.67" fill="#80D87A" stroke="#2a552a" stroke-width="0.4"/>
<text x="284.89" y="572.22" font-family="Liberation Sans, sans-serif" font-size="3.5" text-anchor="start" fill="#111" font-weight="normal" font-style="normal" >p__Actinobacteriota</text>
<rect x="216.51" y="574.69" width="66.12" height="4.67" fill="#80D87A" stroke="#2a552a" stroke-width="0.4"/>
<text x="284.89" y="578.29" font-family="Liberation Sans, sans-serif" font-size="3.5" text-anchor="start" fill="#111" font-weight="normal" font-style="normal" >f__Monoglobaceae</text>
<rect x="216.51" y="580.77" width="66.12" height="4.67" fill="#80D87A" stroke="#2a552a" stroke-width="0.4"/>
<text x="284.89" y="584.37" font-family="Liberation Sans, sans-serif" font-size="3.5" text-anchor="start" fill="#111" font-weight="normal" font-style="normal" >o__Monoglobales</text>
<rect x="216.51" y="586.85" width="66.12" height="4.67" fill="#80D87A" stroke="#2a552a" stroke-width="0.4"/>
<text x="284.89" y="590.45" font-family="Liberation Sans, sans-serif" font-size="3.5" text-anchor="start" fill="#111" font-weight="normal" font-style="normal" >g__Monoglobus</text>
<rect x="213.14" y="592.93" width="69.50" height="4.67" fill="#80D87A" stroke="#2a552a" stroke-width="0.4"/>
<text x="284.89" y="596.53" font-family="Liberation Sans, sans-serif" font-size="3.5" text-anchor="start" fill="#111" font-weight="normal" font-style="normal" >f__Bacteroidaceae</text>
<rect x="213.14" y="599.00" width="69.50" height="4.67" fill="#80D87A" stroke="#2a552a" stroke-width="0.4"/>
<text x="284.89" y="602.61" font-family="Liberation Sans, sans-serif" font-size="3.5" text-anchor="start" fill="#111" font-weight="normal" font-style="normal" >g__Bacteroides</text>
<rect x="210.32" y="605.08" width="72.31" height="4.67" fill="#80D87A" stroke="#2a552a" stroke-width="0.4"/>
<text x="284.89" y="608.68" font-family="Liberation Sans, sans-serif" font-size="3.5" text-anchor="start" fill="#111" font-weight="normal" font-style="normal" >p__Firmicutes</text>
<rect x="210.32" y="611.16" width="72.31" height="4.67" fill="#80D87A" stroke="#2a552a" stroke-width="0.4"/>
<text x="284.89" y="614.76" font-family="Liberation Sans, sans-serif" font-size="3.5" text-anchor="start" fill="#111" font-weight="normal" font-style="normal" >c__Clostridia</text>
<line x1="202.45" y1="425.17" x2="202.45" y2="619.32" stroke="#333" stroke-width="0.45" />
<line x1="218.48" y1="425.17" x2="218.48" y2="619.32" stroke="#333" stroke-width="0.45" />
<line x1="234.52" y1="425.17" x2="234.52" y2="619.32" stroke="#333" stroke-width="0.45" />
<line x1="250.56" y1="425.17" x2="250.56" y2="619.32" stroke="#333" stroke-width="0.45" />
<line x1="266.60" y1="425.17" x2="266.60" y2="619.32" stroke="#333" stroke-width="0.45" />
<line x1="282.64" y1="425.17" x2="282.64" y2="619.32" stroke="#333" stroke-width="0.45" />
<line x1="298.67" y1="425.17" x2="298.67" y2="619.32" stroke="#333" stroke-width="0.45" />
<line x1="314.71" y1="425.17" x2="314.71" y2="619.32" stroke="#333" stroke-width="0.45" />
<line x1="330.75" y1="425.17" x2="330.75" y2="619.32" stroke="#333" stroke-width="0.45" />
<line x1="346.79" y1="425.17" x2="346.79" y2="619.32" stroke="#333" stroke-width="0.45" />
<line x1="362.83" y1="425.17" x2="362.83" y2="619.32" stroke="#333" stroke-width="0.45" />
<text x="203.95" y="627.30" font-family="Liberation Sans, sans-serif" font-size="5.9" text-anchor="middle" fill="#222" font-weight="normal" font-style="normal" >5.14</text>
<text x="218.48" y="627.30" font-family="Liberation Sans, sans-serif" font-size="5.9" text-anchor="middle" fill="#222" font-weight="normal" font-style="normal" >−4.12</text>
<text x="234.52" y="627.30" font-family="Liberation Sans, sans-serif" font-size="5.9" text-anchor="middle" fill="#222" font-weight="normal" font-style="normal" >−3.10</text>
<text x="250.56" y="627.30" font-family="Liberation Sans, sans-serif" font-size="5.9" text-anchor="middle" fill="#222" font-weight="normal" font-style="normal" >−2.08</text>
<text x="266.60" y="627.30" font-family="Liberation Sans, sans-serif" font-size="5.9" text-anchor="middle" fill="#222" font-weight="normal" font-style="normal" >−1.06</text>
<text x="282.64" y="627.30" font-family="Liberation Sans, sans-serif" font-size="5.9" text-anchor="middle" fill="#222" font-weight="normal" font-style="normal" >−0.04</text>
<text x="298.67" y="627.30" font-family="Liberation Sans, sans-serif" font-size="5.9" text-anchor="middle" fill="#222" font-weight="normal" font-style="normal" >0.98</text>
<text x="314.71" y="627.30" font-family="Liberation Sans, sans-serif" font-size="5.9" text-anchor="middle" fill="#222" font-weight="normal" font-style="normal" >2.00</text>
<text x="330.75" y="627.30" font-family="Liberation Sans, sans-serif" font-size="5.9" text-anchor="middle" fill="#222" font-weight="normal" font-style="normal" >3.02</text>
<text x="346.79" y="627.30" font-family="Liberation Sans, sans-serif" font-size="5.9" text-anchor="middle" fill="#222" font-weight="normal" font-style="normal" >4.04</text>
<text x="362.83" y="627.30" font-family="Liberation Sans, sans-serif" font-size="5.9" text-anchor="middle" fill="#222" font-weight="normal" font-style="normal" >5.06</text>
<text x="283.00" y="633.80" font-family="Liberation Sans, sans-serif" font-size="4.9" text-anchor="middle" fill="#222" font-weight="normal" font-style="normal" >LDA SCORE (log 10)</text>
<text x="94.90" y="179.40" font-family="Liberation Sans, sans-serif" font-size="4.0" text-anchor="middle" fill="#222" font-weight="normal" font-style="normal" >Cladogram</text>
<path d="M103.45,187.31 A93.00,93.00 0 1 0 117.83,369.98 L99.57,298.88 A19.60,19.60 0 1 1 96.54,260.39 Z" fill="#F0EEF7" fill-opacity="1.0"/>
<path d="M24.70,226.57 A88.00,88.00 0 0 0 18.88,324.56 L69.37,294.82 A29.40,29.40 0 0 1 71.31,262.08 Z" fill="#E5E0F2" fill-opacity="1.0"/>
<path d="M15.32,265.90 A80.60,80.60 0 0 0 22.13,314.98 L58.87,297.22 A39.80,39.80 0 0 1 55.50,272.99 Z" fill="#DDD6EE" fill-opacity="1.0"/>
<path d="M19.06,253.85 A80.00,80.00 0 0 0 16.98,260.95 L56.03,270.47 A39.80,39.80 0 0 1 57.07,266.94 Z" fill="#D9D0EC" fill-opacity="1.0"/>
<path d="M20.64,271.85 A74.50,74.50 0 0 0 26.91,310.79 L58.48,296.40 A39.80,39.80 0 0 1 55.13,275.60 Z" fill="#D4CBE9" fill-opacity="1.0"/>
<path d="M23.11,315.60 A80.00,80.00 0 0 0 25.77,320.50 L42.14,310.86 A61.00,61.00 0 0 1 40.11,307.12 Z" fill="#EFDCD0" fill-opacity="1.0"/>
<path d="M46.15,335.75 A74.00,74.00 0 0 0 65.79,348.02 L76.34,323.16 A47.00,47.00 0 0 1 63.87,315.37 Z" fill="#DED7EE" fill-opacity="1.0"/>
<path d="M72.92,364.13 A87.00,87.00 0 0 0 98.19,366.83 L96.30,319.67 A39.80,39.80 0 0 1 84.73,318.43 Z" fill="#E4DEF0" fill-opacity="1.0"/>
<path d="M75.00,356.09 A78.70,78.70 0 0 0 97.86,358.54 L96.33,320.37 A40.50,40.50 0 0 1 84.56,319.11 Z" fill="#EADFE6" fill-opacity="1.0"/>
<path d="M180.57,241.67 A94.00,94.00 0 0 0 129.46,192.56 L101.95,261.69 A19.60,19.60 0 0 1 112.61,271.93 Z" fill="#FCF5EA" fill-opacity="1.0"/>
<path d="M172.96,244.24 A86.00,86.00 0 0 0 133.21,203.00 L107.86,253.61 A29.40,29.40 0 0 1 121.45,267.71 Z" fill="#FAECD9" fill-opacity="1.0"/>
<path d="M165.98,243.58 A80.00,80.00 0 0 0 136.14,211.47 L115.42,245.69 A40.00,40.00 0 0 1 130.34,261.74 Z" fill="#F8E3C8" fill-opacity="1.0"/>
<path d="M155.08,240.69 A72.00,72.00 0 0 0 134.96,220.21 L121.54,240.11 A48.00,48.00 0 0 1 134.96,253.76 Z" fill="#F5D8B6" fill-opacity="1.0"/>
<path d="M128.72,194.42 A92.00,92.00 0 0 0 119.44,191.29 L99.97,261.02 A19.60,19.60 0 0 1 101.95,261.69 Z" fill="#D9D1EC" fill-opacity="1.0"/>
<path d="M156.12,351.06 A94.00,94.00 0 0 0 187.83,292.66 L114.12,282.56 A19.60,19.60 0 0 1 107.51,294.74 Z" fill="#FCF5EA" fill-opacity="1.0"/>
<path d="M162.54,322.29 A80.00,80.00 0 0 0 170.20,306.34 L132.07,292.99 A39.60,39.60 0 0 1 128.28,300.88 Z" fill="#F8E7D0" fill-opacity="1.0"/>
<path d="M158.12,317.25 A73.60,73.60 0 0 0 162.94,307.47 L141.06,298.63 A50.00,50.00 0 0 1 137.78,305.28 Z" fill="#F4DAB8" fill-opacity="1.0"/>
<circle cx="94.7" cy="279.9" r="19.6" fill="none" stroke="#1a1a1a" stroke-width="1.15"/>
<path d="M95.73,250.52 A29.40,29.40 0 1 0 98.79,309.01" fill="none" stroke="#1a1a1a" stroke-width="1.0"/>
<path d="M68.07,250.32 A39.80,39.80 0 0 0 89.16,319.31" fill="none" stroke="#1a1a1a" stroke-width="0.9"/>
<path d="M93.31,240.12 A39.80,39.80 0 0 0 70.20,248.54" fill="none" stroke="#1a1a1a" stroke-width="0.8"/>
<path d="M44.79,272.89 A50.40,50.40 0 0 0 45.07,288.65" fill="none" stroke="#222" stroke-width="0.5"/>
<line x1="44.73" y1="273.32" x2="34.72" y2="272.00" stroke="#333" stroke-width="0.45" />
<circle cx="34.72" cy="272.00" r="0.95" fill="#fffff0" stroke="#666" stroke-width="0.3"/>
<line x1="55.45" y1="286.47" x2="44.99" y2="288.22" stroke="#333" stroke-width="0.5" />
<circle cx="55.45" cy="286.47" r="1.1" fill="#8E7CC3" stroke="#777" stroke-width="0.3"/>
<path d="M52.42,308.42 A51.00,51.00 0 0 0 57.40,314.68" fill="none" stroke="#222" stroke-width="0.5"/>
<path d="M72.45,323.56 A49.00,49.00 0 0 0 84.51,327.83" fill="none" stroke="#222" stroke-width="0.5"/>
<line x1="71.59" y1="312.30" x2="65.37" y2="321.01" stroke="#333" stroke-width="0.5" />
<line x1="63.77" y1="304.95" x2="55.07" y2="312.00" stroke="#333" stroke-width="0.5" />
<line x1="81.09" y1="317.30" x2="77.94" y2="325.94" stroke="#333" stroke-width="0.5" />
<line x1="85.10" y1="279.90" x2="75.10" y2="279.90" stroke="#888" stroke-width="0.5" />
<circle cx="85.10" cy="279.90" r="1.4" fill="#fffff0" stroke="#999" stroke-width="0.3"/>
<circle cx="75.10" cy="279.90" r="1.2" fill="#8E7CC3" stroke="#777" stroke-width="0.3"/>
<line x1="75.10" y1="279.90" x2="65.30" y2="279.90" stroke="#333" stroke-width="0.5" />
<line x1="83.69" y1="252.64" x2="79.79" y2="243.00" stroke="#333" stroke-width="0.5" />
<circle cx="79.79" cy="243.00" r="0.9" fill="#fffff0" stroke="#666" stroke-width="0.3"/>
<line x1="91.48" y1="240.23" x2="90.65" y2="230.06" stroke="#222" stroke-width="0.5" />
<path d="M92.13,229.97 A50.00,50.00 0 0 0 89.18,230.21" fill="none" stroke="#222" stroke-width="0.5"/>
<line x1="92.13" y1="229.97" x2="91.57" y2="219.20" stroke="#222" stroke-width="0.5" />
<circle cx="91.57" cy="219.20" r="0.95" fill="#fffff0" stroke="#666" stroke-width="0.3"/>
<line x1="89.18" y1="230.21" x2="88.15" y2="220.87" stroke="#222" stroke-width="0.5" />
<circle cx="88.15" cy="220.87" r="0.95" fill="#fffff0" stroke="#666" stroke-width="0.3"/>
<line x1="87.84" y1="240.70" x2="86.08" y2="230.65" stroke="#222" stroke-width="0.5" />
<path d="M87.54,230.42 A50.00,50.00 0 0 0 84.63,230.92" fill="none" stroke="#222" stroke-width="0.5"/>
<line x1="87.54" y1="230.42" x2="85.98" y2="219.65" stroke="#222" stroke-width="0.5" />
<circle cx="85.98" cy="219.65" r="0.95" fill="#fffff0" stroke="#666" stroke-width="0.3"/>
<line x1="86.08" y1="230.65" x2="84.49" y2="221.59" stroke="#222" stroke-width="0.5" />
<circle cx="84.49" cy="221.59" r="0.95" fill="#fffff0" stroke="#666" stroke-width="0.3"/>
<line x1="84.63" y1="230.92" x2="82.81" y2="222.07" stroke="#222" stroke-width="0.5" />
<circle cx="82.81" cy="222.07" r="0.95" fill="#fffff0" stroke="#666" stroke-width="0.3"/>
<line x1="84.26" y1="241.49" x2="81.58" y2="231.65" stroke="#222" stroke-width="0.5" />
<path d="M83.01,231.29 A50.00,50.00 0 0 0 80.16,232.06" fill="none" stroke="#222" stroke-width="0.5"/>
<line x1="83.01" y1="231.29" x2="80.72" y2="221.78" stroke="#222" stroke-width="0.5" />
<circle cx="80.72" cy="221.78" r="0.95" fill="#fffff0" stroke="#666" stroke-width="0.3"/>
<line x1="81.58" y1="231.65" x2="79.03" y2="222.29" stroke="#222" stroke-width="0.5" />
<circle cx="79.03" cy="222.29" r="0.95" fill="#fffff0" stroke="#666" stroke-width="0.3"/>
<line x1="80.16" y1="232.06" x2="76.67" y2="220.59" stroke="#222" stroke-width="0.5" />
<circle cx="76.67" cy="220.59" r="0.95" fill="#fffff0" stroke="#666" stroke-width="0.3"/>
<line x1="80.76" y1="242.62" x2="77.19" y2="233.07" stroke="#222" stroke-width="0.5" />
<path d="M78.58,232.57 A50.00,50.00 0 0 0 75.81,233.60" fill="none" stroke="#222" stroke-width="0.5"/>
<line x1="78.58" y1="232.57" x2="75.15" y2="222.51" stroke="#222" stroke-width="0.5" />
<circle cx="75.15" cy="222.51" r="0.95" fill="#fffff0" stroke="#666" stroke-width="0.3"/>
<line x1="77.19" y1="233.07" x2="73.46" y2="223.09" stroke="#222" stroke-width="0.5" />
<circle cx="73.46" cy="223.09" r="0.95" fill="#fffff0" stroke="#666" stroke-width="0.3"/>
<line x1="75.81" y1="233.60" x2="71.97" y2="224.17" stroke="#222" stroke-width="0.5" />
<circle cx="71.97" cy="224.17" r="0.95" fill="#fffff0" stroke="#666" stroke-width="0.3"/>
<line x1="77.39" y1="244.06" x2="72.95" y2="234.88" stroke="#222" stroke-width="0.5" />
<path d="M74.29,234.26 A50.00,50.00 0 0 0 71.63,235.54" fill="none" stroke="#222" stroke-width="0.5"/>
<line x1="74.29" y1="234.26" x2="70.33" y2="225.41" stroke="#222" stroke-width="0.5" />
<circle cx="70.33" cy="225.41" r="0.95" fill="#fffff0" stroke="#666" stroke-width="0.3"/>
<line x1="71.63" y1="235.54" x2="67.27" y2="227.15" stroke="#222" stroke-width="0.5" />
<circle cx="67.27" cy="227.15" r="0.95" fill="#fffff0" stroke="#666" stroke-width="0.3"/>
<line x1="74.16" y1="245.81" x2="68.89" y2="237.07" stroke="#222" stroke-width="0.5" />
<path d="M70.17,236.33 A50.00,50.00 0 0 0 67.64,237.85" fill="none" stroke="#222" stroke-width="0.5"/>
<line x1="70.17" y1="236.33" x2="64.66" y2="226.55" stroke="#222" stroke-width="0.5" />
<circle cx="64.66" cy="226.55" r="0.95" fill="#fffff0" stroke="#666" stroke-width="0.3"/>
<line x1="68.89" y1="237.07" x2="63.21" y2="227.64" stroke="#222" stroke-width="0.5" />
<circle cx="63.21" cy="227.64" r="0.95" fill="#fffff0" stroke="#666" stroke-width="0.3"/>
<line x1="67.64" y1="237.85" x2="62.67" y2="230.12" stroke="#222" stroke-width="0.5" />
<circle cx="62.67" cy="230.12" r="0.95" fill="#fffff0" stroke="#666" stroke-width="0.3"/>
<line x1="71.11" y1="247.85" x2="59.19" y2="231.66" stroke="#222" stroke-width="0.5" />
<circle cx="59.19" cy="231.66" r="0.95" fill="#fffff0" stroke="#666" stroke-width="0.3"/>
<line x1="68.59" y1="249.86" x2="57.51" y2="237.12" stroke="#222" stroke-width="0.5" />
<circle cx="57.51" cy="237.12" r="0.95" fill="#fffff0" stroke="#666" stroke-width="0.3"/>
<line x1="66.95" y1="251.37" x2="55.65" y2="239.74" stroke="#222" stroke-width="0.5" />
<circle cx="55.65" cy="239.74" r="0.95" fill="#fffff0" stroke="#666" stroke-width="0.3"/>
<line x1="65.40" y1="252.96" x2="52.39" y2="240.99" stroke="#222" stroke-width="0.5" />
<circle cx="52.39" cy="240.99" r="0.95" fill="#fffff0" stroke="#666" stroke-width="0.3"/>
<line x1="63.95" y1="254.64" x2="51.21" y2="244.18" stroke="#222" stroke-width="0.5" />
<circle cx="51.21" cy="244.18" r="0.95" fill="#fffff0" stroke="#666" stroke-width="0.3"/>
<line x1="62.58" y1="256.39" x2="49.65" y2="246.92" stroke="#222" stroke-width="0.5" />
<circle cx="49.65" cy="246.92" r="0.95" fill="#fffff0" stroke="#666" stroke-width="0.3"/>
<line x1="61.32" y1="258.22" x2="46.47" y2="248.58" stroke="#222" stroke-width="0.5" />
<circle cx="46.47" cy="248.58" r="0.95" fill="#fffff0" stroke="#666" stroke-width="0.3"/>
<line x1="60.16" y1="260.12" x2="42.56" y2="250.04" stroke="#222" stroke-width="0.5" />
<circle cx="42.56" cy="250.04" r="0.95" fill="#fffff0" stroke="#666" stroke-width="0.3"/>
<line x1="59.11" y1="262.08" x2="41.50" y2="253.26" stroke="#222" stroke-width="0.5" />
<circle cx="41.50" cy="253.26" r="0.95" fill="#fffff0" stroke="#666" stroke-width="0.3"/>
<line x1="58.17" y1="264.09" x2="40.25" y2="256.34" stroke="#222" stroke-width="0.5" />
<circle cx="40.25" cy="256.34" r="0.95" fill="#fffff0" stroke="#666" stroke-width="0.3"/>
<line x1="57.35" y1="266.16" x2="41.57" y2="260.35" stroke="#222" stroke-width="0.5" />
<circle cx="41.57" cy="260.35" r="0.95" fill="#fffff0" stroke="#666" stroke-width="0.3"/>
<line x1="56.64" y1="268.26" x2="39.06" y2="262.89" stroke="#222" stroke-width="0.5" />
<circle cx="39.06" cy="262.89" r="0.95" fill="#fffff0" stroke="#666" stroke-width="0.3"/>
<line x1="56.54" y1="268.60" x2="37.17" y2="262.86" stroke="#8E7CC3" stroke-width="0.9" />
<circle cx="56.35" cy="268.54" r="1.1" fill="#8E7CC3" stroke="#5b4a9a" stroke-width="0.3"/>
<circle cx="46.76" cy="265.70" r="1.1" fill="#8E7CC3" stroke="#5b4a9a" stroke-width="0.3"/>
<circle cx="37.17" cy="262.86" r="1.1" fill="#8E7CC3" stroke="#5b4a9a" stroke-width="0.3"/>
<line x1="45.04" y1="288.48" x2="34.51" y2="276.22" stroke="#222" stroke-width="0.3" />
<circle cx="34.51" cy="276.22" r="0.6" fill="#eeeaf8" stroke="#888" stroke-width="0.2"/>
<line x1="45.04" y1="288.48" x2="34.46" y2="277.29" stroke="#222" stroke-width="0.3" />
<circle cx="34.46" cy="277.29" r="0.6" fill="#eeeaf8" stroke="#888" stroke-width="0.2"/>
<line x1="45.04" y1="288.48" x2="34.42" y2="278.36" stroke="#222" stroke-width="0.3" />
<circle cx="34.42" cy="278.36" r="0.6" fill="#eeeaf8" stroke="#888" stroke-width="0.2"/>
<line x1="45.04" y1="288.48" x2="34.40" y2="279.43" stroke="#222" stroke-width="0.3" />
<circle cx="34.40" cy="279.43" r="0.6" fill="#eeeaf8" stroke="#888" stroke-width="0.2"/>
<line x1="45.04" y1="288.48" x2="34.40" y2="280.50" stroke="#222" stroke-width="0.3" />
<circle cx="34.40" cy="280.50" r="0.6" fill="#eeeaf8" stroke="#888" stroke-width="0.2"/>
<line x1="45.04" y1="288.48" x2="34.42" y2="281.58" stroke="#222" stroke-width="0.3" />
<circle cx="34.42" cy="281.58" r="0.6" fill="#eeeaf8" stroke="#888" stroke-width="0.2"/>
<line x1="45.04" y1="288.48" x2="34.46" y2="282.65" stroke="#222" stroke-width="0.3" />
<circle cx="34.46" cy="282.65" r="0.6" fill="#eeeaf8" stroke="#888" stroke-width="0.2"/>
<line x1="45.04" y1="288.48" x2="34.52" y2="283.72" stroke="#222" stroke-width="0.3" />
<circle cx="34.52" cy="283.72" r="0.6" fill="#eeeaf8" stroke="#888" stroke-width="0.2"/>
<line x1="45.04" y1="288.48" x2="34.60" y2="284.79" stroke="#222" stroke-width="0.3" />
<circle cx="34.60" cy="284.79" r="0.6" fill="#eeeaf8" stroke="#888" stroke-width="0.2"/>
<line x1="45.04" y1="288.48" x2="34.69" y2="285.85" stroke="#222" stroke-width="0.3" />
<circle cx="34.69" cy="285.85" r="0.6" fill="#eeeaf8" stroke="#888" stroke-width="0.2"/>
<line x1="45.04" y1="288.48" x2="34.81" y2="286.92" stroke="#222" stroke-width="0.3" />
<circle cx="34.81" cy="286.92" r="0.6" fill="#eeeaf8" stroke="#888" stroke-width="0.2"/>
<line x1="45.04" y1="288.48" x2="34.94" y2="287.98" stroke="#222" stroke-width="0.3" />
<circle cx="34.94" cy="287.98" r="0.6" fill="#eeeaf8" stroke="#888" stroke-width="0.2"/>
<line x1="45.04" y1="288.48" x2="35.10" y2="289.04" stroke="#222" stroke-width="0.3" />
<circle cx="35.10" cy="289.04" r="0.6" fill="#eeeaf8" stroke="#888" stroke-width="0.2"/>
<line x1="45.04" y1="288.48" x2="35.27" y2="290.10" stroke="#222" stroke-width="0.3" />
<circle cx="35.27" cy="290.10" r="0.6" fill="#eeeaf8" stroke="#888" stroke-width="0.2"/>
<line x1="45.04" y1="288.48" x2="35.46" y2="291.16" stroke="#222" stroke-width="0.3" />
<circle cx="35.46" cy="291.16" r="0.6" fill="#eeeaf8" stroke="#888" stroke-width="0.2"/>
<line x1="45.04" y1="288.48" x2="35.67" y2="292.21" stroke="#222" stroke-width="0.3" />
<circle cx="35.67" cy="292.21" r="0.6" fill="#eeeaf8" stroke="#888" stroke-width="0.2"/>
<line x1="45.04" y1="288.48" x2="35.90" y2="293.26" stroke="#222" stroke-width="0.3" />
<circle cx="35.90" cy="293.26" r="0.6" fill="#eeeaf8" stroke="#888" stroke-width="0.2"/>
<line x1="45.04" y1="288.48" x2="36.14" y2="294.30" stroke="#222" stroke-width="0.3" />
<circle cx="36.14" cy="294.30" r="0.6" fill="#eeeaf8" stroke="#888" stroke-width="0.2"/>
<line x1="45.04" y1="288.48" x2="36.41" y2="295.34" stroke="#222" stroke-width="0.3" />
<circle cx="36.41" cy="295.34" r="0.6" fill="#eeeaf8" stroke="#888" stroke-width="0.2"/>
<line x1="45.04" y1="288.48" x2="36.69" y2="296.37" stroke="#222" stroke-width="0.3" />
<circle cx="36.69" cy="296.37" r="0.6" fill="#eeeaf8" stroke="#888" stroke-width="0.2"/>
<line x1="45.04" y1="288.48" x2="37.00" y2="297.40" stroke="#222" stroke-width="0.3" />
<circle cx="37.00" cy="297.40" r="0.6" fill="#eeeaf8" stroke="#888" stroke-width="0.2"/>
<line x1="45.04" y1="288.48" x2="37.32" y2="298.42" stroke="#222" stroke-width="0.3" />
<circle cx="37.32" cy="298.42" r="0.6" fill="#eeeaf8" stroke="#888" stroke-width="0.2"/>
<line x1="45.04" y1="288.48" x2="37.65" y2="299.44" stroke="#222" stroke-width="0.3" />
<circle cx="37.65" cy="299.44" r="0.6" fill="#eeeaf8" stroke="#888" stroke-width="0.2"/>
<line x1="45.04" y1="288.48" x2="38.01" y2="300.45" stroke="#222" stroke-width="0.3" />
<circle cx="38.01" cy="300.45" r="0.6" fill="#eeeaf8" stroke="#888" stroke-width="0.2"/>
<line x1="45.04" y1="288.48" x2="38.38" y2="301.45" stroke="#222" stroke-width="0.3" />
<circle cx="38.38" cy="301.45" r="0.6" fill="#eeeaf8" stroke="#888" stroke-width="0.2"/>
<line x1="45.04" y1="288.48" x2="38.78" y2="302.45" stroke="#222" stroke-width="0.3" />
<circle cx="38.78" cy="302.45" r="0.6" fill="#eeeaf8" stroke="#888" stroke-width="0.2"/>
<line x1="45.04" y1="288.48" x2="39.19" y2="303.44" stroke="#222" stroke-width="0.3" />
<circle cx="39.19" cy="303.44" r="0.6" fill="#eeeaf8" stroke="#888" stroke-width="0.2"/>
<line x1="45.04" y1="288.48" x2="39.61" y2="304.43" stroke="#222" stroke-width="0.3" />
<circle cx="39.61" cy="304.43" r="0.6" fill="#eeeaf8" stroke="#888" stroke-width="0.2"/>
<line x1="68.81" y1="293.84" x2="58.60" y2="299.34" stroke="#333" stroke-width="0.5" />
<line x1="58.60" y1="299.34" x2="40.11" y2="309.29" stroke="#E8A04A" stroke-width="1.0" />
<circle cx="58.60" cy="299.34" r="1.1" fill="#E8A04A" stroke="#a8732e" stroke-width="0.3"/>
<circle cx="49.80" cy="304.08" r="1.1" fill="#E8A04A" stroke="#a8732e" stroke-width="0.3"/>
<circle cx="40.55" cy="309.06" r="1.1" fill="#E8A04A" stroke="#a8732e" stroke-width="0.3"/>
<circle cx="68.81" cy="293.84" r="1.1" fill="#8E7CC3" stroke="#777" stroke-width="0.3"/>
<line x1="56.42" y1="315.10" x2="45.05" y2="311.77" stroke="#222" stroke-width="0.3" />
<line x1="56.42" y1="315.10" x2="45.71" y2="312.78" stroke="#222" stroke-width="0.3" />
<line x1="56.42" y1="315.10" x2="46.39" y2="313.76" stroke="#222" stroke-width="0.3" />
<line x1="56.42" y1="315.10" x2="47.08" y2="314.74" stroke="#222" stroke-width="0.3" />
<line x1="56.42" y1="315.10" x2="47.80" y2="315.70" stroke="#222" stroke-width="0.3" />
<line x1="56.42" y1="315.10" x2="48.54" y2="316.64" stroke="#222" stroke-width="0.3" />
<line x1="56.42" y1="315.10" x2="49.29" y2="317.57" stroke="#222" stroke-width="0.3" />
<line x1="56.42" y1="315.10" x2="50.07" y2="318.49" stroke="#222" stroke-width="0.3" />
<line x1="56.42" y1="315.10" x2="50.86" y2="319.39" stroke="#222" stroke-width="0.3" />
<line x1="56.42" y1="315.10" x2="51.67" y2="320.27" stroke="#222" stroke-width="0.3" />
<line x1="56.42" y1="315.10" x2="52.50" y2="321.13" stroke="#222" stroke-width="0.3" />
<line x1="56.42" y1="315.10" x2="53.35" y2="321.98" stroke="#222" stroke-width="0.3" />
<line x1="66.35" y1="321.93" x2="55.81" y2="326.25" stroke="#222" stroke-width="0.3" />
<line x1="66.35" y1="321.93" x2="56.63" y2="326.92" stroke="#222" stroke-width="0.3" />
<line x1="66.35" y1="321.93" x2="57.45" y2="327.57" stroke="#222" stroke-width="0.3" />
<line x1="66.35" y1="321.93" x2="58.29" y2="328.22" stroke="#222" stroke-width="0.3" />
<line x1="66.35" y1="321.93" x2="59.14" y2="328.85" stroke="#222" stroke-width="0.3" />
<line x1="66.35" y1="321.93" x2="60.00" y2="329.46" stroke="#222" stroke-width="0.3" />
<line x1="66.35" y1="321.93" x2="60.87" y2="330.06" stroke="#222" stroke-width="0.3" />
<line x1="66.35" y1="321.93" x2="61.75" y2="330.64" stroke="#222" stroke-width="0.3" />
<line x1="66.35" y1="321.93" x2="62.64" y2="331.21" stroke="#222" stroke-width="0.3" />
<line x1="66.35" y1="321.93" x2="63.54" y2="331.76" stroke="#222" stroke-width="0.3" />
<line x1="66.35" y1="321.93" x2="64.45" y2="332.29" stroke="#222" stroke-width="0.3" />
<line x1="66.35" y1="321.93" x2="65.37" y2="332.81" stroke="#222" stroke-width="0.3" />
<line x1="73.22" y1="323.94" x2="68.73" y2="333.15" stroke="#222" stroke-width="0.5" />
<circle cx="68.73" cy="333.15" r="0.95" fill="#fffff0" stroke="#666" stroke-width="0.3"/>
<line x1="75.75" y1="325.09" x2="71.70" y2="334.76" stroke="#222" stroke-width="0.5" />
<circle cx="71.70" cy="334.76" r="0.95" fill="#fffff0" stroke="#666" stroke-width="0.3"/>
<line x1="78.34" y1="326.09" x2="74.81" y2="336.07" stroke="#222" stroke-width="0.5" />
<circle cx="74.81" cy="336.07" r="0.95" fill="#fffff0" stroke="#666" stroke-width="0.3"/>
<line x1="80.99" y1="326.94" x2="77.94" y2="337.39" stroke="#222" stroke-width="0.5" />
<circle cx="77.94" cy="337.39" r="0.95" fill="#fffff0" stroke="#666" stroke-width="0.3"/>
<line x1="83.68" y1="327.64" x2="81.32" y2="337.86" stroke="#222" stroke-width="0.5" />
<circle cx="81.32" cy="337.86" r="0.95" fill="#fffff0" stroke="#666" stroke-width="0.3"/>
<line x1="86.80" y1="329.78" x2="81.71" y2="338.48" stroke="#222" stroke-width="0.3" />
<line x1="86.80" y1="329.78" x2="82.65" y2="338.68" stroke="#222" stroke-width="0.3" />
<line x1="86.80" y1="329.78" x2="83.59" y2="338.86" stroke="#222" stroke-width="0.3" />
<line x1="86.80" y1="329.78" x2="84.54" y2="339.03" stroke="#222" stroke-width="0.3" />
<line x1="86.80" y1="329.78" x2="85.49" y2="339.19" stroke="#222" stroke-width="0.3" />
<line x1="86.80" y1="329.78" x2="86.44" y2="339.33" stroke="#222" stroke-width="0.3" />
<line x1="86.80" y1="329.78" x2="87.39" y2="339.45" stroke="#222" stroke-width="0.3" />
<line x1="92.94" y1="330.37" x2="89.47" y2="339.67" stroke="#222" stroke-width="0.3" />
<line x1="92.94" y1="330.37" x2="90.43" y2="339.75" stroke="#222" stroke-width="0.3" />
<line x1="92.94" y1="330.37" x2="91.39" y2="339.81" stroke="#222" stroke-width="0.3" />
<line x1="92.94" y1="330.37" x2="92.34" y2="339.85" stroke="#222" stroke-width="0.3" />
<line x1="92.94" y1="330.37" x2="93.30" y2="339.88" stroke="#222" stroke-width="0.3" />
<line x1="92.94" y1="330.37" x2="94.26" y2="339.90" stroke="#222" stroke-width="0.3" />
<line x1="92.94" y1="330.37" x2="95.22" y2="339.90" stroke="#222" stroke-width="0.3" />
<path d="M86.80,329.78 A50.50,50.50 0 0 0 92.94,330.37" fill="none" stroke="#222" stroke-width="0.5"/>
<line x1="91.23" y1="319.55" x2="90.30" y2="330.21" stroke="#333" stroke-width="0.5" />
<circle cx="91.17" cy="320.25" r="1.1" fill="#E8A04A" stroke="#a8732e" stroke-width="0.3"/>
<line x1="95.42" y1="300.39" x2="96.74" y2="338.21" stroke="#222" stroke-width="0.5" />
<line x1="96.58" y1="300.31" x2="100.08" y2="338.23" stroke="#222" stroke-width="0.5" />
<line x1="97.75" y1="300.17" x2="103.00" y2="335.16" stroke="#222" stroke-width="0.5" />
<line x1="98.90" y1="299.97" x2="105.78" y2="332.85" stroke="#222" stroke-width="0.5" />
<line x1="100.04" y1="299.69" x2="108.24" y2="330.11" stroke="#222" stroke-width="0.5" />
<line x1="101.16" y1="299.36" x2="112.75" y2="334.28" stroke="#222" stroke-width="0.5" />
<line x1="102.26" y1="298.96" x2="115.26" y2="331.73" stroke="#222" stroke-width="0.5" />
<line x1="103.33" y1="298.49" x2="119.16" y2="332.58" stroke="#222" stroke-width="0.5" />
<line x1="104.38" y1="297.97" x2="120.67" y2="328.37" stroke="#222" stroke-width="0.5" />
<line x1="105.40" y1="297.39" x2="125.05" y2="329.51" stroke="#222" stroke-width="0.5" />
<line x1="106.38" y1="296.75" x2="125.57" y2="324.43" stroke="#222" stroke-width="0.5" />
<line x1="107.32" y1="296.05" x2="130.66" y2="325.93" stroke="#222" stroke-width="0.5" />
<line x1="97.77" y1="309.14" x2="100.48" y2="334.89" stroke="#222" stroke-width="0.5" />
<line x1="99.55" y1="308.90" x2="103.71" y2="333.75" stroke="#222" stroke-width="0.5" />
<line x1="101.31" y1="308.55" x2="107.43" y2="335.05" stroke="#222" stroke-width="0.5" />
<circle cx="114.42" cy="275.09" r="1.0" fill="#fffff0" stroke="#777" stroke-width="0.3"/>
<line x1="114.42" y1="275.09" x2="123.62" y2="270.22" stroke="#222" stroke-width="0.5" />
<path d="M125.00,276.39 A30.50,30.50 0 0 0 123.62,270.22" fill="none" stroke="#1a1a1a" stroke-width="0.7"/>
<line x1="123.59" y1="270.12" x2="143.39" y2="263.42" stroke="#222" stroke-width="0.5" />
<circle cx="133.06" cy="266.92" r="0.95" fill="#fffff0" stroke="#777" stroke-width="0.3"/>
<path d="M144.39,268.43 A51.00,51.00 0 0 0 142.92,263.30" fill="none" stroke="#222" stroke-width="0.5"/>
<line x1="144.39" y1="268.43" x2="153.16" y2="266.40" stroke="#222" stroke-width="0.5" />
<circle cx="153.16" cy="266.40" r="0.95" fill="#fffff0" stroke="#666" stroke-width="0.3"/>
<line x1="143.96" y1="266.70" x2="152.66" y2="264.37" stroke="#222" stroke-width="0.5" />
<circle cx="152.66" cy="264.37" r="0.95" fill="#fffff0" stroke="#666" stroke-width="0.3"/>
<line x1="143.30" y1="263.17" x2="151.43" y2="260.37" stroke="#222" stroke-width="0.3" />
<line x1="143.30" y1="263.17" x2="151.18" y2="259.66" stroke="#222" stroke-width="0.3" />
<line x1="143.30" y1="263.17" x2="150.93" y2="258.96" stroke="#222" stroke-width="0.3" />
<line x1="143.30" y1="263.17" x2="150.66" y2="258.26" stroke="#222" stroke-width="0.3" />
<line x1="143.30" y1="263.17" x2="150.39" y2="257.56" stroke="#222" stroke-width="0.3" />
<line x1="143.30" y1="263.17" x2="150.10" y2="256.87" stroke="#222" stroke-width="0.3" />
<line x1="143.30" y1="263.17" x2="149.81" y2="256.18" stroke="#222" stroke-width="0.3" />
<line x1="143.30" y1="263.17" x2="149.51" y2="255.50" stroke="#222" stroke-width="0.3" />
<line x1="124.99" y1="276.29" x2="135.11" y2="275.08" stroke="#222" stroke-width="0.5" />
<path d="M135.40,279.69 A40.70,40.70 0 0 0 134.93,273.74" fill="none" stroke="#1a1a1a" stroke-width="0.6"/>
<line x1="134.93" y1="273.74" x2="155.49" y2="270.60" stroke="#222" stroke-width="0.5" />
<circle cx="155.49" cy="270.60" r="0.95" fill="#fffff0" stroke="#666" stroke-width="0.3"/>
<line x1="135.27" y1="276.71" x2="156.01" y2="275.07" stroke="#222" stroke-width="0.5" />
<circle cx="156.01" cy="275.07" r="0.95" fill="#fffff0" stroke="#666" stroke-width="0.3"/>
<line x1="135.40" y1="279.54" x2="156.20" y2="279.36" stroke="#222" stroke-width="0.5" />
<circle cx="156.20" cy="279.36" r="0.95" fill="#fffff0" stroke="#666" stroke-width="0.3"/>
<line x1="115.10" y1="281.90" x2="155.81" y2="285.89" stroke="#222" stroke-width="0.5" />
<circle cx="155.81" cy="285.89" r="0.95" fill="#fffff0" stroke="#666" stroke-width="0.3"/>
<circle cx="112.41" cy="288.31" r="1.2" fill="#E8A04A" stroke="#a8732e" stroke-width="0.3"/>
<line x1="112.41" y1="288.31" x2="121.80" y2="292.77" stroke="#333" stroke-width="0.5" />
<path d="M116.64,300.36 A30.00,30.00 0 0 0 122.71,290.65" fill="none" stroke="#222" stroke-width="0.7"/>
<line x1="122.57" y1="290.99" x2="132.33" y2="294.87" stroke="#333" stroke-width="0.5" />
<path d="M131.25,297.34 A40.50,40.50 0 0 0 134.58,286.93" fill="none" stroke="#222" stroke-width="0.6"/>
<line x1="134.52" y1="287.28" x2="154.68" y2="291.02" stroke="#333" stroke-width="0.45" />
<circle cx="154.68" cy="291.02" r="0.95" fill="#fffff0" stroke="#666" stroke-width="0.3"/>
<line x1="134.00" y1="289.70" x2="153.89" y2="294.66" stroke="#333" stroke-width="0.45" />
<circle cx="153.89" cy="294.66" r="0.95" fill="#fffff0" stroke="#666" stroke-width="0.3"/>
<line x1="133.33" y1="292.08" x2="152.88" y2="298.24" stroke="#333" stroke-width="0.45" />
<circle cx="152.88" cy="298.24" r="0.95" fill="#fffff0" stroke="#666" stroke-width="0.3"/>
<circle cx="131.55" cy="296.70" r="1.1" fill="#E8A04A" stroke="#a8732e" stroke-width="0.3"/>
<line x1="131.55" y1="296.70" x2="140.93" y2="300.97" stroke="#333" stroke-width="0.5" />
<path d="M138.47,305.68 A50.80,50.80 0 0 0 142.44,297.27" fill="none" stroke="#222" stroke-width="0.5"/>
<line x1="142.44" y1="297.27" x2="152.02" y2="300.76" stroke="#333" stroke-width="0.45" />
<circle cx="152.02" cy="300.76" r="0.95" fill="#fffff0" stroke="#666" stroke-width="0.3"/>
<line x1="141.63" y1="299.34" x2="151.06" y2="303.24" stroke="#333" stroke-width="0.45" />
<circle cx="151.06" cy="303.24" r="0.95" fill="#fffff0" stroke="#666" stroke-width="0.3"/>
<line x1="138.47" y1="305.68" x2="147.26" y2="310.86" stroke="#333" stroke-width="0.45" />
<circle cx="147.26" cy="310.86" r="0.95" fill="#fffff0" stroke="#666" stroke-width="0.3"/>
<line x1="140.16" y1="302.57" x2="148.58" y2="306.76" stroke="#E8A04A" stroke-width="0.9" />
<circle cx="139.76" cy="303.36" r="1.0" fill="#E8A04A" stroke="#a8732e" stroke-width="0.3"/>
<circle cx="149.04" cy="305.82" r="1.0" fill="#E8A04A" stroke="#a8732e" stroke-width="0.3"/>
<line x1="139.76" y1="303.36" x2="147.61" y2="309.23" stroke="#222" stroke-width="0.3" />
<line x1="139.76" y1="303.36" x2="148.08" y2="308.38" stroke="#222" stroke-width="0.3" />
<line x1="139.76" y1="303.36" x2="148.53" y2="307.52" stroke="#222" stroke-width="0.3" />
<line x1="139.76" y1="303.36" x2="148.96" y2="306.66" stroke="#222" stroke-width="0.3" />
<line x1="139.76" y1="303.36" x2="149.38" y2="305.79" stroke="#222" stroke-width="0.3" />
<line x1="139.76" y1="303.36" x2="149.79" y2="304.91" stroke="#222" stroke-width="0.3" />
<line x1="139.76" y1="303.36" x2="150.18" y2="304.02" stroke="#222" stroke-width="0.3" />
<line x1="116.99" y1="299.97" x2="124.43" y2="306.67" stroke="#333" stroke-width="0.5" />
<path d="M121.98,309.15 A40.00,40.00 0 0 0 127.47,302.84" fill="none" stroke="#222" stroke-width="0.5"/>
<line x1="127.26" y1="303.13" x2="141.92" y2="313.58" stroke="#333" stroke-width="0.45" />
<circle cx="141.92" cy="313.58" r="0.95" fill="#fffff0" stroke="#666" stroke-width="0.3"/>
<line x1="125.79" y1="305.07" x2="139.77" y2="316.40" stroke="#333" stroke-width="0.45" />
<circle cx="139.77" cy="316.40" r="0.95" fill="#fffff0" stroke="#666" stroke-width="0.3"/>
<line x1="123.95" y1="307.18" x2="137.12" y2="319.46" stroke="#333" stroke-width="0.45" />
<circle cx="137.12" cy="319.46" r="0.95" fill="#fffff0" stroke="#666" stroke-width="0.3"/>
<line x1="122.23" y1="308.91" x2="134.62" y2="321.97" stroke="#333" stroke-width="0.45" />
<circle cx="134.62" cy="321.97" r="0.95" fill="#fffff0" stroke="#666" stroke-width="0.3"/>
<line x1="119.86" y1="296.24" x2="141.67" y2="310.40" stroke="#333" stroke-width="0.45" />
<circle cx="141.67" cy="310.40" r="0.95" fill="#fffff0" stroke="#666" stroke-width="0.3"/>
<circle cx="101.51" cy="260.78" r="1.2" fill="#8E7CC3" stroke="#777" stroke-width="0.3"/>
<line x1="101.17" y1="260.66" x2="114.48" y2="221.14" stroke="#8E7CC3" stroke-width="0.9" />
<circle cx="104.27" cy="251.47" r="1.0" fill="#8E7CC3" stroke="#5b4a9a" stroke-width="0.3"/>
<circle cx="107.46" cy="241.99" r="1.0" fill="#8E7CC3" stroke="#5b4a9a" stroke-width="0.3"/>
<circle cx="110.65" cy="232.51" r="1.0" fill="#8E7CC3" stroke="#5b4a9a" stroke-width="0.3"/>
<circle cx="114.16" cy="222.09" r="1.0" fill="#8E7CC3" stroke="#5b4a9a" stroke-width="0.3"/>
<line x1="99.78" y1="259.52" x2="108.73" y2="223.62" stroke="#222" stroke-width="0.5" />
<circle cx="108.73" cy="223.62" r="0.9" fill="#fffff0" stroke="#666" stroke-width="0.3"/>
<line x1="98.35" y1="259.22" x2="104.42" y2="224.75" stroke="#222" stroke-width="0.5" />
<circle cx="104.42" cy="224.75" r="0.9" fill="#fffff0" stroke="#666" stroke-width="0.3"/>
<line x1="107.06" y1="251.47" x2="117.83" y2="226.71" stroke="#222" stroke-width="0.5" />
<circle cx="117.83" cy="226.71" r="0.9" fill="#fffff0" stroke="#666" stroke-width="0.3"/>
<line x1="108.56" y1="264.93" x2="116.45" y2="258.38" stroke="#222" stroke-width="0.5" />
<circle cx="108.56" cy="264.93" r="1.2" fill="#E8A04A" stroke="#a8732e" stroke-width="0.3"/>
<path d="M116.45,258.38 A30.60,30.60 0 0 0 107.63,252.17" fill="none" stroke="#1a1a1a" stroke-width="0.8"/>
<line x1="116.45" y1="258.38" x2="124.88" y2="252.15" stroke="#222" stroke-width="0.5" />
<circle cx="116.45" cy="258.38" r="1.1" fill="#E8A04A" stroke="#a8732e" stroke-width="0.3"/>
<line x1="109.07" y1="252.88" x2="121.93" y2="228.69" stroke="#222" stroke-width="0.5" />
<circle cx="121.93" cy="228.69" r="0.95" fill="#fffff0" stroke="#666" stroke-width="0.3"/>
<path d="M124.88,252.15 A41.00,41.00 0 0 0 115.82,244.76" fill="none" stroke="#1a1a1a" stroke-width="0.7"/>
<line x1="124.88" y1="252.15" x2="135.43" y2="249.21" stroke="#222" stroke-width="0.5" />
<circle cx="124.88" cy="252.15" r="1.1" fill="#E8A04A" stroke="#a8732e" stroke-width="0.3"/>
<line x1="116.12" y1="244.94" x2="121.35" y2="236.42" stroke="#222" stroke-width="0.5" />
<path d="M140.22,256.91 A51.00,51.00 0 0 0 122.92,237.42" fill="none" stroke="#222" stroke-width="0.6"/>
<circle cx="135.43" cy="249.21" r="1.0" fill="#E8A04A" stroke="#a8732e" stroke-width="0.3"/>
<line x1="140.14" y1="256.75" x2="148.16" y2="252.66" stroke="#222" stroke-width="0.5" />
<circle cx="148.16" cy="252.66" r="0.95" fill="#fffff0" stroke="#666" stroke-width="0.3"/>
<line x1="138.87" y1="254.40" x2="146.66" y2="249.90" stroke="#222" stroke-width="0.5" />
<circle cx="146.66" cy="249.90" r="0.95" fill="#fffff0" stroke="#666" stroke-width="0.3"/>
<line x1="137.47" y1="252.12" x2="145.02" y2="247.22" stroke="#222" stroke-width="0.5" />
<circle cx="145.02" cy="247.22" r="0.95" fill="#fffff0" stroke="#666" stroke-width="0.3"/>
<line x1="135.91" y1="249.85" x2="143.99" y2="243.96" stroke="#E8A04A" stroke-width="0.8" />
<circle cx="143.99" cy="243.96" r="1.0" fill="#E8A04A" stroke="#a8732e" stroke-width="0.3"/>
<line x1="133.77" y1="247.12" x2="140.66" y2="241.33" stroke="#222" stroke-width="0.5" />
<circle cx="140.66" cy="241.33" r="0.95" fill="#fffff0" stroke="#666" stroke-width="0.3"/>
<line x1="130.77" y1="244.70" x2="138.36" y2="237.30" stroke="#8E7CC3" stroke-width="0.8" />
<circle cx="130.34" cy="244.26" r="1.0" fill="#8E7CC3" stroke="#5b4a9a" stroke-width="0.3"/>
<circle cx="138.87" cy="237.83" r="1.0" fill="#8E7CC3" stroke="#5b4a9a" stroke-width="0.3"/>
<line x1="128.83" y1="242.00" x2="134.85" y2="235.31" stroke="#8E7CC3" stroke-width="0.7" />
<circle cx="134.85" cy="235.31" r="0.9" fill="#8E7CC3" stroke="#5b4a9a" stroke-width="0.3"/>
<line x1="126.10" y1="239.71" x2="131.64" y2="232.62" stroke="#222" stroke-width="0.5" />
<circle cx="131.64" cy="232.62" r="0.95" fill="#fffff0" stroke="#666" stroke-width="0.3"/>
<line x1="122.92" y1="237.42" x2="128.46" y2="229.09" stroke="#E8A04A" stroke-width="0.8" />
<circle cx="122.92" cy="237.42" r="1.0" fill="#E8A04A" stroke="#a8732e" stroke-width="0.3"/>
<circle cx="128.46" cy="229.09" r="1.0" fill="#E8A04A" stroke="#a8732e" stroke-width="0.3"/>
<rect x="183.40" y="190.40" width="8.40" height="3.00" fill="#B8A8D8" stroke="#6b5ca5" stroke-width="0.3"/>
<rect x="183.40" y="196.50" width="8.40" height="3.00" fill="#F5C080" stroke="#b07a30" stroke-width="0.3"/>
<text x="194.50" y="193.70" font-family="Liberation Sans, sans-serif" font-size="4.5" text-anchor="start" fill="#222" font-weight="normal" font-style="normal" >Group NC</text>
<text x="194.50" y="199.80" font-family="Liberation Sans, sans-serif" font-size="4.5" text-anchor="start" fill="#222" font-weight="normal" font-style="normal" >Group PC</text>
<text x="5.40" y="177.80" font-family="Liberation Serif, serif" font-size="10.6" text-anchor="start" fill="#000" font-weight="bold" font-style="normal" stroke="#000" stroke-width="0.35">C</text>
<text x="98.80" y="418.20" font-family="Liberation Sans, sans-serif" font-size="4.0" text-anchor="middle" fill="#222" font-weight="normal" font-style="normal" >Cladogram</text>
<path d="M105.76,425.27 A92.00,92.00 0 1 0 105.76,608.73 L100.23,536.94 A20.00,20.00 0 1 1 100.23,497.06 Z" fill="#E8F8E8" fill-opacity="1.0"/>
<path d="M32.36,463.85 A85.00,85.00 0 0 0 92.77,601.79 L96.62,546.73 A29.80,29.80 0 0 1 75.44,498.37 Z" fill="#DAF4DA" fill-opacity="1.0"/>
<path d="M23.52,489.64 A80.00,80.00 0 0 0 69.38,591.43 L83.97,554.40 A40.20,40.20 0 0 1 60.92,503.25 Z" fill="#D5F2D5" fill-opacity="1.0"/>
<path d="M31.99,472.85 A80.00,80.00 0 0 0 28.20,479.20 L63.27,498.00 A40.20,40.20 0 0 1 65.18,494.81 Z" fill="#C4EAC4" fill-opacity="1.0"/>
<path d="M29.27,554.70 A79.00,79.00 0 0 0 32.45,560.03 L64.99,538.89 A40.20,40.20 0 0 1 63.37,536.18 Z" fill="#C2E9C2" fill-opacity="1.0"/>
<path d="M69.60,590.88 A79.40,79.40 0 0 0 92.88,596.19 L95.76,557.09 A40.20,40.20 0 0 1 83.97,554.40 Z" fill="#CBEDCB" fill-opacity="1.0"/>
<path d="M68.96,590.62 A79.40,79.40 0 0 0 74.82,592.73 L83.66,564.69 A50.00,50.00 0 0 1 79.97,563.36 Z" fill="#BFE7BF" fill-opacity="1.0"/>
<path d="M85.72,450.25 A68.00,68.00 0 0 0 80.53,451.47 L82.67,459.18 A60.00,60.00 0 0 1 87.25,458.10 Z" fill="#D0EED0" fill-opacity="1.0"/>
<path d="M114.12,426.81 A91.50,91.50 0 0 0 105.72,425.77 L100.23,497.06 A20.00,20.00 0 0 1 102.07,497.29 Z" fill="#F9EAD6" fill-opacity="1.0"/>
<path d="M108.08,455.71 A62.00,62.00 0 0 0 104.10,455.24 L100.44,497.08 A20.00,20.00 0 0 1 101.73,497.23 Z" fill="#F4D9B6" fill-opacity="1.0"/>
<path d="M148.86,463.96 A73.00,73.00 0 0 0 144.14,459.87 L135.43,470.83 A59.00,59.00 0 0 1 139.24,474.13 Z" fill="#FAEBD7" fill-opacity="1.0"/>
<path d="M157.00,473.07 A73.00,73.00 0 0 0 153.79,469.11 L143.98,477.64 A60.00,60.00 0 0 1 146.62,480.89 Z" fill="#FAEBD7" fill-opacity="1.0"/>
<path d="M190.64,513.79 A92.00,92.00 0 0 0 180.67,475.23 L116.52,507.92 A20.00,20.00 0 0 1 118.69,516.30 Z" fill="#E8F8E8" fill-opacity="1.0"/>
<path d="M181.65,514.10 A83.00,83.00 0 0 0 178.64,494.68 L127.59,508.93 A30.00,30.00 0 0 1 128.68,515.95 Z" fill="#DAF4DA" fill-opacity="1.0"/>
<path d="M178.65,514.21 A80.00,80.00 0 0 0 178.07,506.97 L138.38,511.99 A40.00,40.00 0 0 1 138.68,515.60 Z" fill="#C9ECC9" fill-opacity="1.0"/>
<path d="M165.21,484.56 A74.00,74.00 0 0 0 162.46,479.44 L151.26,486.04 A61.00,61.00 0 0 1 153.53,490.26 Z" fill="#D9F3D9" fill-opacity="1.0"/>
<path d="M132.65,594.71 A84.80,84.80 0 0 0 152.53,582.53 L117.11,539.41 A29.00,29.00 0 0 1 110.31,543.57 Z" fill="#FAEEDD" fill-opacity="1.0"/>
<path d="M140.30,583.57 A78.50,78.50 0 0 0 145.50,580.02 L121.95,548.31 A39.00,39.00 0 0 1 119.37,550.07 Z" fill="#F6E3CA" fill-opacity="1.0"/>
<circle cx="98.7" cy="517.0" r="20" fill="none" stroke="#1a1a1a" stroke-width="1.15"/>
<path d="M98.70,487.20 A29.80,29.80 0 1 0 101.81,546.64" fill="none" stroke="#1a1a1a" stroke-width="1.0"/>
<path d="M70.77,488.08 A40.20,40.20 0 0 0 93.11,556.81" fill="none" stroke="#1a1a1a" stroke-width="0.9"/>
<path d="M95.90,476.90 A40.20,40.20 0 0 0 72.86,486.21" fill="none" stroke="#1a1a1a" stroke-width="0.8"/>
<path d="M48.99,510.01 A50.20,50.20 0 0 0 49.34,526.15" fill="none" stroke="#222" stroke-width="0.5"/>
<path d="M56.42,545.52 A51.00,51.00 0 0 0 61.40,551.78" fill="none" stroke="#222" stroke-width="0.5"/>
<path d="M76.45,560.66 A49.00,49.00 0 0 0 87.68,564.74" fill="none" stroke="#222" stroke-width="0.5"/>
<line x1="89.10" y1="517.00" x2="78.70" y2="517.00" stroke="#888" stroke-width="0.5" />
<circle cx="89.10" cy="517.00" r="1.4" fill="#fffff0" stroke="#999" stroke-width="0.3"/>
<circle cx="78.70" cy="517.00" r="1.2" fill="#5CB85C" stroke="#2f7d2f" stroke-width="0.3"/>
<line x1="78.70" y1="517.00" x2="68.90" y2="517.00" stroke="#333" stroke-width="0.5" />
<line x1="86.11" y1="489.99" x2="81.71" y2="480.57" stroke="#333" stroke-width="0.5" />
<circle cx="81.71" cy="480.57" r="0.9" fill="#fffff0" stroke="#666" stroke-width="0.3"/>
<line x1="48.93" y1="510.45" x2="39.21" y2="509.17" stroke="#333" stroke-width="0.45" />
<circle cx="39.21" cy="509.17" r="0.95" fill="#fffff0" stroke="#666" stroke-width="0.3"/>
<line x1="59.11" y1="523.98" x2="49.26" y2="525.72" stroke="#333" stroke-width="0.5" />
<circle cx="59.11" cy="523.98" r="1.0" fill="#fffff0" stroke="#777" stroke-width="0.3"/>
<line x1="75.36" y1="549.73" x2="69.37" y2="558.11" stroke="#333" stroke-width="0.5" />
<line x1="67.46" y1="542.30" x2="59.07" y2="549.10" stroke="#333" stroke-width="0.5" />
<line x1="85.28" y1="554.89" x2="82.34" y2="563.19" stroke="#333" stroke-width="0.5" />
<line x1="94.70" y1="477.00" x2="93.72" y2="467.25" stroke="#222" stroke-width="0.5" />
<path d="M95.23,467.12 A50.00,50.00 0 0 0 92.22,467.42" fill="none" stroke="#222" stroke-width="0.5"/>
<line x1="95.23" y1="467.12" x2="94.48" y2="456.37" stroke="#222" stroke-width="0.5" />
<circle cx="94.48" cy="456.37" r="0.95" fill="#fffff0" stroke="#666" stroke-width="0.3"/>
<line x1="92.22" y1="467.42" x2="91.00" y2="458.11" stroke="#222" stroke-width="0.5" />
<circle cx="91.00" cy="458.11" r="0.95" fill="#fffff0" stroke="#666" stroke-width="0.3"/>
<line x1="90.93" y1="477.56" x2="89.04" y2="467.94" stroke="#222" stroke-width="0.5" />
<path d="M90.53,467.67 A50.00,50.00 0 0 0 87.55,468.26" fill="none" stroke="#222" stroke-width="0.5"/>
<line x1="90.53" y1="467.67" x2="88.75" y2="456.94" stroke="#222" stroke-width="0.5" />
<circle cx="88.75" cy="456.94" r="0.95" fill="#fffff0" stroke="#666" stroke-width="0.3"/>
<line x1="89.04" y1="467.94" x2="87.26" y2="458.92" stroke="#222" stroke-width="0.5" />
<circle cx="87.26" cy="458.92" r="0.95" fill="#fffff0" stroke="#666" stroke-width="0.3"/>
<line x1="87.55" y1="468.26" x2="85.54" y2="459.45" stroke="#222" stroke-width="0.5" />
<circle cx="85.54" cy="459.45" r="0.95" fill="#fffff0" stroke="#666" stroke-width="0.3"/>
<line x1="87.23" y1="478.47" x2="84.44" y2="469.08" stroke="#222" stroke-width="0.5" />
<path d="M85.90,468.67 A50.00,50.00 0 0 0 82.99,469.53" fill="none" stroke="#222" stroke-width="0.5"/>
<line x1="85.90" y1="468.67" x2="83.40" y2="459.21" stroke="#222" stroke-width="0.5" />
<circle cx="83.40" cy="459.21" r="0.95" fill="#fffff0" stroke="#666" stroke-width="0.3"/>
<line x1="84.44" y1="469.08" x2="81.67" y2="459.78" stroke="#222" stroke-width="0.5" />
<circle cx="81.67" cy="459.78" r="0.95" fill="#fffff0" stroke="#666" stroke-width="0.3"/>
<line x1="82.99" y1="469.53" x2="79.23" y2="458.15" stroke="#222" stroke-width="0.5" />
<circle cx="79.23" cy="458.15" r="0.95" fill="#fffff0" stroke="#666" stroke-width="0.3"/>
<line x1="83.64" y1="479.73" x2="79.97" y2="470.64" stroke="#222" stroke-width="0.5" />
<path d="M81.38,470.09 A50.00,50.00 0 0 0 78.57,471.23" fill="none" stroke="#222" stroke-width="0.5"/>
<line x1="81.38" y1="470.09" x2="77.70" y2="460.13" stroke="#222" stroke-width="0.5" />
<circle cx="77.70" cy="460.13" r="0.95" fill="#fffff0" stroke="#666" stroke-width="0.3"/>
<line x1="79.97" y1="470.64" x2="75.98" y2="460.77" stroke="#222" stroke-width="0.5" />
<circle cx="75.98" cy="460.77" r="0.95" fill="#fffff0" stroke="#666" stroke-width="0.3"/>
<line x1="78.57" y1="471.23" x2="74.47" y2="461.90" stroke="#222" stroke-width="0.5" />
<circle cx="74.47" cy="461.90" r="0.95" fill="#fffff0" stroke="#666" stroke-width="0.3"/>
<line x1="80.18" y1="481.32" x2="75.67" y2="472.62" stroke="#222" stroke-width="0.5" />
<path d="M77.02,471.94 A50.00,50.00 0 0 0 74.33,473.34" fill="none" stroke="#222" stroke-width="0.5"/>
<line x1="77.02" y1="471.94" x2="72.82" y2="463.21" stroke="#222" stroke-width="0.5" />
<circle cx="72.82" cy="463.21" r="0.95" fill="#fffff0" stroke="#666" stroke-width="0.3"/>
<line x1="74.33" y1="473.34" x2="69.73" y2="465.08" stroke="#222" stroke-width="0.5" />
<circle cx="69.73" cy="465.08" r="0.95" fill="#fffff0" stroke="#666" stroke-width="0.3"/>
<line x1="76.89" y1="483.23" x2="71.57" y2="475.00" stroke="#222" stroke-width="0.5" />
<path d="M72.86,474.20 A50.00,50.00 0 0 0 70.31,475.84" fill="none" stroke="#222" stroke-width="0.5"/>
<line x1="72.86" y1="474.20" x2="67.06" y2="464.59" stroke="#222" stroke-width="0.5" />
<circle cx="67.06" cy="464.59" r="0.95" fill="#fffff0" stroke="#666" stroke-width="0.3"/>
<line x1="71.57" y1="475.00" x2="65.60" y2="465.75" stroke="#222" stroke-width="0.5" />
<circle cx="65.60" cy="465.75" r="0.95" fill="#fffff0" stroke="#666" stroke-width="0.3"/>
<line x1="70.31" y1="475.84" x2="65.09" y2="468.27" stroke="#222" stroke-width="0.5" />
<circle cx="65.09" cy="468.27" r="0.95" fill="#fffff0" stroke="#666" stroke-width="0.3"/>
<line x1="73.79" y1="485.45" x2="61.58" y2="469.98" stroke="#222" stroke-width="0.5" />
<circle cx="61.58" cy="469.98" r="0.95" fill="#fffff0" stroke="#666" stroke-width="0.3"/>
<line x1="89.52" y1="477.86" x2="85.00" y2="458.59" stroke="#333" stroke-width="0.5" />
<circle cx="85.00" cy="458.59" r="1.0" fill="#E8A04A" stroke="#a8732e" stroke-width="0.3"/>
<line x1="71.28" y1="487.60" x2="60.48" y2="476.02" stroke="#222" stroke-width="0.5" />
<circle cx="60.48" cy="476.02" r="0.95" fill="#fffff0" stroke="#666" stroke-width="0.3"/>
<line x1="69.74" y1="489.12" x2="56.19" y2="476.07" stroke="#222" stroke-width="0.5" />
<circle cx="56.19" cy="476.07" r="0.95" fill="#fffff0" stroke="#666" stroke-width="0.3"/>
<line x1="68.28" y1="490.71" x2="54.24" y2="478.58" stroke="#222" stroke-width="0.5" />
<circle cx="54.24" cy="478.58" r="0.95" fill="#fffff0" stroke="#666" stroke-width="0.3"/>
<line x1="66.91" y1="492.39" x2="51.10" y2="480.14" stroke="#222" stroke-width="0.5" />
<circle cx="51.10" cy="480.14" r="0.95" fill="#fffff0" stroke="#666" stroke-width="0.3"/>
<line x1="65.64" y1="494.13" x2="51.94" y2="484.66" stroke="#222" stroke-width="0.5" />
<circle cx="51.94" cy="484.66" r="0.95" fill="#fffff0" stroke="#666" stroke-width="0.3"/>
<line x1="64.45" y1="495.95" x2="50.33" y2="487.26" stroke="#222" stroke-width="0.5" />
<circle cx="50.33" cy="487.26" r="0.95" fill="#fffff0" stroke="#666" stroke-width="0.3"/>
<line x1="63.37" y1="497.82" x2="46.70" y2="488.77" stroke="#222" stroke-width="0.5" />
<circle cx="46.70" cy="488.77" r="0.95" fill="#fffff0" stroke="#666" stroke-width="0.3"/>
<line x1="62.39" y1="499.75" x2="45.60" y2="491.77" stroke="#222" stroke-width="0.5" />
<circle cx="45.60" cy="491.77" r="0.95" fill="#fffff0" stroke="#666" stroke-width="0.3"/>
<line x1="61.52" y1="501.72" x2="45.96" y2="495.33" stroke="#222" stroke-width="0.5" />
<circle cx="45.96" cy="495.33" r="0.95" fill="#fffff0" stroke="#666" stroke-width="0.3"/>
<line x1="60.75" y1="503.75" x2="43.07" y2="497.57" stroke="#222" stroke-width="0.5" />
<circle cx="43.07" cy="497.57" r="0.95" fill="#fffff0" stroke="#666" stroke-width="0.3"/>
<line x1="60.09" y1="505.81" x2="43.49" y2="500.99" stroke="#222" stroke-width="0.5" />
<circle cx="43.49" cy="500.99" r="0.95" fill="#fffff0" stroke="#666" stroke-width="0.3"/>
<line x1="59.54" y1="507.90" x2="40.85" y2="503.56" stroke="#222" stroke-width="0.5" />
<circle cx="40.85" cy="503.56" r="0.95" fill="#fffff0" stroke="#666" stroke-width="0.3"/>
<line x1="59.11" y1="510.02" x2="43.46" y2="507.26" stroke="#222" stroke-width="0.5" />
<circle cx="43.46" cy="507.26" r="0.95" fill="#fffff0" stroke="#666" stroke-width="0.3"/>
<line x1="64.17" y1="496.42" x2="47.42" y2="486.43" stroke="#5CB85C" stroke-width="0.9" />
<circle cx="64.17" cy="496.42" r="1.0" fill="#5CB85C" stroke="#2f7d2f" stroke-width="0.3"/>
<circle cx="55.75" cy="491.40" r="1.0" fill="#5CB85C" stroke="#2f7d2f" stroke-width="0.3"/>
<circle cx="47.42" cy="486.43" r="1.0" fill="#5CB85C" stroke="#2f7d2f" stroke-width="0.3"/>
<line x1="49.54" y1="526.11" x2="39.15" y2="512.84" stroke="#222" stroke-width="0.3" />
<circle cx="39.15" cy="512.84" r="0.6" fill="#e8f8e8" stroke="#888" stroke-width="0.2"/>
<line x1="49.54" y1="526.11" x2="39.08" y2="513.84" stroke="#222" stroke-width="0.3" />
<circle cx="39.08" cy="513.84" r="0.6" fill="#e8f8e8" stroke="#888" stroke-width="0.2"/>
<line x1="49.54" y1="526.11" x2="39.04" y2="514.84" stroke="#222" stroke-width="0.3" />
<circle cx="39.04" cy="514.84" r="0.6" fill="#e8f8e8" stroke="#888" stroke-width="0.2"/>
<line x1="49.54" y1="526.11" x2="39.01" y2="515.85" stroke="#222" stroke-width="0.3" />
<circle cx="39.01" cy="515.85" r="0.6" fill="#e8f8e8" stroke="#888" stroke-width="0.2"/>
<line x1="49.54" y1="526.11" x2="39.00" y2="516.86" stroke="#222" stroke-width="0.3" />
<circle cx="39.00" cy="516.86" r="0.6" fill="#e8f8e8" stroke="#888" stroke-width="0.2"/>
<line x1="49.54" y1="526.11" x2="39.01" y2="517.86" stroke="#222" stroke-width="0.3" />
<circle cx="39.01" cy="517.86" r="0.6" fill="#e8f8e8" stroke="#888" stroke-width="0.2"/>
<line x1="49.54" y1="526.11" x2="39.03" y2="518.87" stroke="#222" stroke-width="0.3" />
<circle cx="39.03" cy="518.87" r="0.6" fill="#e8f8e8" stroke="#888" stroke-width="0.2"/>
<line x1="49.54" y1="526.11" x2="39.07" y2="519.87" stroke="#222" stroke-width="0.3" />
<circle cx="39.07" cy="519.87" r="0.6" fill="#e8f8e8" stroke="#888" stroke-width="0.2"/>
<line x1="49.54" y1="526.11" x2="39.13" y2="520.88" stroke="#222" stroke-width="0.3" />
<circle cx="39.13" cy="520.88" r="0.6" fill="#e8f8e8" stroke="#888" stroke-width="0.2"/>
<line x1="49.54" y1="526.11" x2="39.20" y2="521.88" stroke="#222" stroke-width="0.3" />
<circle cx="39.20" cy="521.88" r="0.6" fill="#e8f8e8" stroke="#888" stroke-width="0.2"/>
<line x1="49.54" y1="526.11" x2="39.29" y2="522.88" stroke="#222" stroke-width="0.3" />
<circle cx="39.29" cy="522.88" r="0.6" fill="#e8f8e8" stroke="#888" stroke-width="0.2"/>
<line x1="49.54" y1="526.11" x2="39.40" y2="523.88" stroke="#222" stroke-width="0.3" />
<circle cx="39.40" cy="523.88" r="0.6" fill="#e8f8e8" stroke="#888" stroke-width="0.2"/>
<line x1="49.54" y1="526.11" x2="39.52" y2="524.88" stroke="#222" stroke-width="0.3" />
<circle cx="39.52" cy="524.88" r="0.6" fill="#e8f8e8" stroke="#888" stroke-width="0.2"/>
<line x1="49.54" y1="526.11" x2="39.66" y2="525.88" stroke="#222" stroke-width="0.3" />
<circle cx="39.66" cy="525.88" r="0.6" fill="#e8f8e8" stroke="#888" stroke-width="0.2"/>
<line x1="49.54" y1="526.11" x2="39.82" y2="526.87" stroke="#222" stroke-width="0.3" />
<circle cx="39.82" cy="526.87" r="0.6" fill="#e8f8e8" stroke="#888" stroke-width="0.2"/>
<line x1="49.54" y1="526.11" x2="40.00" y2="527.86" stroke="#222" stroke-width="0.3" />
<circle cx="40.00" cy="527.86" r="0.6" fill="#e8f8e8" stroke="#888" stroke-width="0.2"/>
<line x1="49.54" y1="526.11" x2="40.19" y2="528.85" stroke="#222" stroke-width="0.3" />
<circle cx="40.19" cy="528.85" r="0.6" fill="#e8f8e8" stroke="#888" stroke-width="0.2"/>
<line x1="49.54" y1="526.11" x2="40.40" y2="529.83" stroke="#222" stroke-width="0.3" />
<circle cx="40.40" cy="529.83" r="0.6" fill="#e8f8e8" stroke="#888" stroke-width="0.2"/>
<line x1="49.54" y1="526.11" x2="40.62" y2="530.81" stroke="#222" stroke-width="0.3" />
<circle cx="40.62" cy="530.81" r="0.6" fill="#e8f8e8" stroke="#888" stroke-width="0.2"/>
<line x1="49.54" y1="526.11" x2="40.86" y2="531.79" stroke="#222" stroke-width="0.3" />
<circle cx="40.86" cy="531.79" r="0.6" fill="#e8f8e8" stroke="#888" stroke-width="0.2"/>
<line x1="49.54" y1="526.11" x2="41.12" y2="532.76" stroke="#222" stroke-width="0.3" />
<circle cx="41.12" cy="532.76" r="0.6" fill="#e8f8e8" stroke="#888" stroke-width="0.2"/>
<line x1="49.54" y1="526.11" x2="41.39" y2="533.73" stroke="#222" stroke-width="0.3" />
<circle cx="41.39" cy="533.73" r="0.6" fill="#e8f8e8" stroke="#888" stroke-width="0.2"/>
<line x1="49.54" y1="526.11" x2="41.68" y2="534.69" stroke="#222" stroke-width="0.3" />
<circle cx="41.68" cy="534.69" r="0.6" fill="#e8f8e8" stroke="#888" stroke-width="0.2"/>
<line x1="49.54" y1="526.11" x2="41.99" y2="535.65" stroke="#222" stroke-width="0.3" />
<circle cx="41.99" cy="535.65" r="0.6" fill="#e8f8e8" stroke="#888" stroke-width="0.2"/>
<line x1="49.54" y1="526.11" x2="42.31" y2="536.61" stroke="#222" stroke-width="0.3" />
<circle cx="42.31" cy="536.61" r="0.6" fill="#e8f8e8" stroke="#888" stroke-width="0.2"/>
<line x1="49.54" y1="526.11" x2="42.65" y2="537.55" stroke="#222" stroke-width="0.3" />
<circle cx="42.65" cy="537.55" r="0.6" fill="#e8f8e8" stroke="#888" stroke-width="0.2"/>
<line x1="49.54" y1="526.11" x2="43.00" y2="538.50" stroke="#222" stroke-width="0.3" />
<circle cx="43.00" cy="538.50" r="0.6" fill="#e8f8e8" stroke="#888" stroke-width="0.2"/>
<line x1="49.54" y1="526.11" x2="43.37" y2="539.43" stroke="#222" stroke-width="0.3" />
<circle cx="43.37" cy="539.43" r="0.6" fill="#e8f8e8" stroke="#888" stroke-width="0.2"/>
<line x1="49.54" y1="526.11" x2="43.76" y2="540.36" stroke="#222" stroke-width="0.3" />
<circle cx="43.76" cy="540.36" r="0.6" fill="#e8f8e8" stroke="#888" stroke-width="0.2"/>
<line x1="49.54" y1="526.11" x2="44.16" y2="541.28" stroke="#222" stroke-width="0.3" />
<circle cx="44.16" cy="541.28" r="0.6" fill="#e8f8e8" stroke="#888" stroke-width="0.2"/>
<line x1="71.98" y1="530.20" x2="67.32" y2="532.51" stroke="#333" stroke-width="0.5" />
<line x1="71.81" y1="530.29" x2="64.13" y2="537.52" stroke="#333" stroke-width="0.5" />
<circle cx="71.98" cy="530.20" r="1.1" fill="#5CB85C" stroke="#2f7d2f" stroke-width="0.3"/>
<line x1="64.13" y1="537.52" x2="46.94" y2="547.73" stroke="#5CB85C" stroke-width="0.9" />
<circle cx="64.13" cy="537.52" r="1.0" fill="#5CB85C" stroke="#2f7d2f" stroke-width="0.3"/>
<circle cx="55.28" cy="542.78" r="1.0" fill="#5CB85C" stroke="#2f7d2f" stroke-width="0.3"/>
<circle cx="46.94" cy="547.73" r="1.0" fill="#5CB85C" stroke="#2f7d2f" stroke-width="0.3"/>
<line x1="60.42" y1="552.20" x2="49.50" y2="549.56" stroke="#222" stroke-width="0.3" />
<line x1="60.42" y1="552.20" x2="50.19" y2="550.59" stroke="#222" stroke-width="0.3" />
<line x1="60.42" y1="552.20" x2="50.91" y2="551.60" stroke="#222" stroke-width="0.3" />
<line x1="60.42" y1="552.20" x2="51.64" y2="552.59" stroke="#222" stroke-width="0.3" />
<line x1="60.42" y1="552.20" x2="52.40" y2="553.57" stroke="#222" stroke-width="0.3" />
<line x1="60.42" y1="552.20" x2="53.17" y2="554.53" stroke="#222" stroke-width="0.3" />
<line x1="60.42" y1="552.20" x2="53.97" y2="555.47" stroke="#222" stroke-width="0.3" />
<line x1="60.42" y1="552.20" x2="54.79" y2="556.40" stroke="#222" stroke-width="0.3" />
<line x1="60.42" y1="552.20" x2="55.62" y2="557.31" stroke="#222" stroke-width="0.3" />
<line x1="60.42" y1="552.20" x2="56.47" y2="558.21" stroke="#222" stroke-width="0.3" />
<line x1="60.42" y1="552.20" x2="57.35" y2="559.08" stroke="#222" stroke-width="0.3" />
<line x1="70.35" y1="559.03" x2="59.81" y2="563.35" stroke="#222" stroke-width="0.3" />
<line x1="70.35" y1="559.03" x2="60.63" y2="564.02" stroke="#222" stroke-width="0.3" />
<line x1="70.35" y1="559.03" x2="61.45" y2="564.67" stroke="#222" stroke-width="0.3" />
<line x1="70.35" y1="559.03" x2="62.29" y2="565.32" stroke="#222" stroke-width="0.3" />
<line x1="70.35" y1="559.03" x2="63.14" y2="565.95" stroke="#222" stroke-width="0.3" />
<line x1="70.35" y1="559.03" x2="64.00" y2="566.56" stroke="#222" stroke-width="0.3" />
<line x1="70.35" y1="559.03" x2="64.87" y2="567.16" stroke="#222" stroke-width="0.3" />
<line x1="70.35" y1="559.03" x2="65.75" y2="567.74" stroke="#222" stroke-width="0.3" />
<line x1="70.35" y1="559.03" x2="66.64" y2="568.31" stroke="#222" stroke-width="0.3" />
<line x1="70.35" y1="559.03" x2="67.54" y2="568.86" stroke="#222" stroke-width="0.3" />
<line x1="70.35" y1="559.03" x2="68.45" y2="569.39" stroke="#222" stroke-width="0.3" />
<line x1="70.35" y1="559.03" x2="69.37" y2="569.91" stroke="#222" stroke-width="0.3" />
<line x1="76.84" y1="560.85" x2="71.96" y2="570.63" stroke="#222" stroke-width="0.5" />
<circle cx="71.96" cy="570.63" r="0.95" fill="#fffff0" stroke="#666" stroke-width="0.3"/>
<line x1="79.55" y1="562.10" x2="76.03" y2="570.41" stroke="#222" stroke-width="0.5" />
<circle cx="76.03" cy="570.41" r="0.95" fill="#fffff0" stroke="#666" stroke-width="0.3"/>
<line x1="84.42" y1="555.00" x2="81.25" y2="563.43" stroke="#5CB85C" stroke-width="0.9" />
<circle cx="84.42" cy="555.00" r="1.0" fill="#5CB85C" stroke="#2f7d2f" stroke-width="0.3"/>
<circle cx="81.25" cy="563.43" r="1.0" fill="#5CB85C" stroke="#2f7d2f" stroke-width="0.3"/>
<line x1="80.92" y1="563.31" x2="77.64" y2="571.85" stroke="#222" stroke-width="0.5" />
<circle cx="77.64" cy="571.85" r="0.95" fill="#fffff0" stroke="#666" stroke-width="0.3"/>
<line x1="83.78" y1="564.30" x2="80.70" y2="574.08" stroke="#222" stroke-width="0.5" />
<circle cx="80.70" cy="574.08" r="0.95" fill="#fffff0" stroke="#666" stroke-width="0.3"/>
<line x1="86.70" y1="565.13" x2="84.26" y2="574.91" stroke="#222" stroke-width="0.5" />
<circle cx="84.26" cy="574.91" r="0.95" fill="#fffff0" stroke="#666" stroke-width="0.3"/>
<circle cx="92.62" cy="556.74" r="1.0" fill="#5CB85C" stroke="#2f7d2f" stroke-width="0.3"/>
<line x1="92.62" y1="556.74" x2="91.06" y2="566.92" stroke="#333" stroke-width="0.5" />
<path d="M88.63,566.49 A50.50,50.50 0 0 0 94.30,567.31" fill="none" stroke="#222" stroke-width="0.5"/>
<line x1="88.63" y1="566.49" x2="84.69" y2="575.34" stroke="#222" stroke-width="0.3" />
<line x1="88.63" y1="566.49" x2="85.61" y2="575.56" stroke="#222" stroke-width="0.3" />
<line x1="88.63" y1="566.49" x2="86.53" y2="575.75" stroke="#222" stroke-width="0.3" />
<line x1="88.63" y1="566.49" x2="87.46" y2="575.94" stroke="#222" stroke-width="0.3" />
<line x1="88.63" y1="566.49" x2="88.38" y2="576.11" stroke="#222" stroke-width="0.3" />
<line x1="88.63" y1="566.49" x2="89.31" y2="576.26" stroke="#222" stroke-width="0.3" />
<line x1="94.30" y1="567.31" x2="91.39" y2="576.55" stroke="#222" stroke-width="0.3" />
<line x1="94.30" y1="567.31" x2="92.32" y2="576.66" stroke="#222" stroke-width="0.3" />
<line x1="94.30" y1="567.31" x2="93.26" y2="576.75" stroke="#222" stroke-width="0.3" />
<line x1="94.30" y1="567.31" x2="94.20" y2="576.83" stroke="#222" stroke-width="0.3" />
<line x1="94.30" y1="567.31" x2="95.14" y2="576.89" stroke="#222" stroke-width="0.3" />
<line x1="94.30" y1="567.31" x2="96.08" y2="576.94" stroke="#222" stroke-width="0.3" />
<line x1="97.97" y1="537.99" x2="96.66" y2="575.55" stroke="#222" stroke-width="0.5" />
<line x1="99.65" y1="537.98" x2="101.37" y2="575.88" stroke="#222" stroke-width="0.5" />
<line x1="101.33" y1="537.83" x2="106.06" y2="575.29" stroke="#222" stroke-width="0.5" />
<line x1="102.99" y1="537.56" x2="110.73" y2="574.60" stroke="#222" stroke-width="0.5" />
<line x1="104.63" y1="537.15" x2="115.28" y2="573.34" stroke="#222" stroke-width="0.5" />
<line x1="106.23" y1="536.61" x2="120.01" y2="572.52" stroke="#222" stroke-width="0.5" />
<line x1="101.14" y1="497.15" x2="106.01" y2="457.45" stroke="#E0A060" stroke-width="0.7" />
<circle cx="101.11" cy="497.35" r="0.95" fill="#E8A04A" stroke="#a8732e" stroke-width="0.3"/>
<circle cx="102.38" cy="487.03" r="0.95" fill="#E8A04A" stroke="#a8732e" stroke-width="0.3"/>
<circle cx="103.57" cy="477.30" r="0.95" fill="#E8A04A" stroke="#a8732e" stroke-width="0.3"/>
<circle cx="104.79" cy="467.37" r="0.95" fill="#E8A04A" stroke="#a8732e" stroke-width="0.3"/>
<line x1="112.78" y1="490.51" x2="126.27" y2="465.15" stroke="#222" stroke-width="0.5" />
<circle cx="126.27" cy="465.15" r="0.95" fill="#fffff0" stroke="#666" stroke-width="0.3"/>
<line x1="111.19" y1="489.72" x2="123.95" y2="461.86" stroke="#222" stroke-width="0.5" />
<circle cx="123.95" cy="461.86" r="0.95" fill="#fffff0" stroke="#666" stroke-width="0.3"/>
<line x1="109.55" y1="489.03" x2="120.16" y2="461.68" stroke="#222" stroke-width="0.5" />
<circle cx="120.16" cy="461.68" r="0.95" fill="#fffff0" stroke="#666" stroke-width="0.3"/>
<line x1="107.87" y1="488.44" x2="116.67" y2="461.02" stroke="#222" stroke-width="0.5" />
<circle cx="116.67" cy="461.02" r="0.95" fill="#fffff0" stroke="#666" stroke-width="0.3"/>
<line x1="106.16" y1="487.94" x2="113.61" y2="458.93" stroke="#222" stroke-width="0.5" />
<circle cx="113.61" cy="458.93" r="0.95" fill="#fffff0" stroke="#666" stroke-width="0.3"/>
<line x1="104.42" y1="487.55" x2="110.14" y2="458.13" stroke="#222" stroke-width="0.5" />
<circle cx="110.14" cy="458.13" r="0.95" fill="#fffff0" stroke="#666" stroke-width="0.3"/>
<line x1="111.56" y1="501.68" x2="117.98" y2="494.02" stroke="#333" stroke-width="0.5" />
<circle cx="117.98" cy="494.02" r="0.9" fill="#fffff0" stroke="#666" stroke-width="0.3"/>
<line x1="114.02" y1="504.14" x2="127.81" y2="492.57" stroke="#333" stroke-width="0.5" />
<circle cx="127.81" cy="492.57" r="0.9" fill="#fffff0" stroke="#666" stroke-width="0.3"/>
<path d="M119.91,495.79 A30.00,30.00 0 0 0 106.46,488.02" fill="none" stroke="#222" stroke-width="0.6"/>
<path d="M133.34,497.00 A40.00,40.00 0 0 0 117.48,481.68" fill="none" stroke="#222" stroke-width="0.6"/>
<line x1="119.90" y1="483.08" x2="130.50" y2="466.12" stroke="#333" stroke-width="0.45" />
<circle cx="130.50" cy="466.12" r="1.0" fill="#fffff0" stroke="#777" stroke-width="0.3"/>
<line x1="124.94" y1="486.81" x2="138.06" y2="471.72" stroke="#333" stroke-width="0.45" />
<circle cx="138.06" cy="471.72" r="1.0" fill="#E8A04A" stroke="#777" stroke-width="0.3"/>
<line x1="126.98" y1="488.72" x2="141.13" y2="474.57" stroke="#333" stroke-width="0.45" />
<circle cx="141.13" cy="474.57" r="1.0" fill="#fffff0" stroke="#777" stroke-width="0.3"/>
<line x1="129.79" y1="491.83" x2="145.33" y2="479.24" stroke="#333" stroke-width="0.45" />
<circle cx="145.33" cy="479.24" r="1.0" fill="#E8A04A" stroke="#777" stroke-width="0.3"/>
<line x1="131.86" y1="494.63" x2="148.44" y2="483.45" stroke="#333" stroke-width="0.45" />
<circle cx="148.44" cy="483.45" r="1.0" fill="#fffff0" stroke="#777" stroke-width="0.3"/>
<line x1="133.68" y1="497.61" x2="151.18" y2="487.91" stroke="#333" stroke-width="0.45" />
<circle cx="151.18" cy="487.91" r="1.0" fill="#5CB85C" stroke="#777" stroke-width="0.3"/>
<line x1="145.03" y1="493.39" x2="155.77" y2="492.77" stroke="#222" stroke-width="0.3" />
<line x1="145.03" y1="493.39" x2="155.27" y2="491.62" stroke="#222" stroke-width="0.3" />
<line x1="145.03" y1="493.39" x2="154.74" y2="490.47" stroke="#222" stroke-width="0.3" />
<line x1="145.03" y1="493.39" x2="154.19" y2="489.34" stroke="#222" stroke-width="0.3" />
<line x1="145.03" y1="493.39" x2="153.61" y2="488.21" stroke="#222" stroke-width="0.3" />
<line x1="145.03" y1="493.39" x2="153.01" y2="487.10" stroke="#222" stroke-width="0.3" />
<line x1="145.03" y1="493.39" x2="152.39" y2="486.00" stroke="#222" stroke-width="0.3" />
<circle cx="117.86" cy="511.25" r="1.2" fill="#5CB85C" stroke="#2f7d2f" stroke-width="0.3"/>
<line x1="117.86" y1="511.25" x2="127.43" y2="508.38" stroke="#333" stroke-width="0.5" />
<path d="M128.41,512.82 A30.00,30.00 0 0 0 125.89,504.32" fill="none" stroke="#222" stroke-width="0.6"/>
<line x1="128.16" y1="511.33" x2="138.27" y2="509.38" stroke="#333" stroke-width="0.5" />
<circle cx="128.16" cy="511.33" r="1.1" fill="#5CB85C" stroke="#2f7d2f" stroke-width="0.3"/>
<path d="M138.92,514.54 A40.30,40.30 0 0 0 137.80,507.25" fill="none" stroke="#222" stroke-width="0.6"/>
<line x1="138.85" y1="513.49" x2="160.46" y2="511.60" stroke="#5CB85C" stroke-width="0.9" />
<circle cx="138.85" cy="513.49" r="1.0" fill="#5CB85C" stroke="#2f7d2f" stroke-width="0.3"/>
<circle cx="149.51" cy="512.56" r="1.0" fill="#5CB85C" stroke="#2f7d2f" stroke-width="0.3"/>
<circle cx="160.46" cy="511.60" r="1.0" fill="#5CB85C" stroke="#2f7d2f" stroke-width="0.3"/>
<line x1="138.50" y1="510.70" x2="155.99" y2="507.93" stroke="#333" stroke-width="0.45" />
<circle cx="155.99" cy="507.93" r="0.95" fill="#fffff0" stroke="#666" stroke-width="0.3"/>
<line x1="137.97" y1="507.93" x2="155.21" y2="503.95" stroke="#333" stroke-width="0.45" />
<circle cx="155.21" cy="503.95" r="0.95" fill="#fffff0" stroke="#666" stroke-width="0.3"/>
<line x1="126.89" y1="506.74" x2="151.32" y2="497.85" stroke="#333" stroke-width="0.45" />
<circle cx="151.32" cy="497.85" r="0.95" fill="#fffff0" stroke="#666" stroke-width="0.3"/>
<line x1="126.11" y1="504.80" x2="149.86" y2="494.22" stroke="#333" stroke-width="0.45" />
<circle cx="149.86" cy="494.22" r="0.95" fill="#fffff0" stroke="#666" stroke-width="0.3"/>
<line x1="119.20" y1="517.00" x2="158.70" y2="517.00" stroke="#333" stroke-width="0.45" />
<circle cx="158.70" cy="517.00" r="0.95" fill="#fffff0" stroke="#666" stroke-width="0.3"/>
<line x1="119.12" y1="518.79" x2="158.47" y2="522.23" stroke="#333" stroke-width="0.45" />
<circle cx="158.47" cy="522.23" r="0.95" fill="#fffff0" stroke="#666" stroke-width="0.3"/>
<circle cx="115.11" cy="528.07" r="1.1" fill="#fffff0" stroke="#777" stroke-width="0.3"/>
<line x1="115.28" y1="528.18" x2="124.90" y2="530.35" stroke="#333" stroke-width="0.5" />
<path d="M114.71,541.66 A29.40,29.40 0 0 0 124.90,530.35" fill="none" stroke="#1a1a1a" stroke-width="0.8"/>
<circle cx="124.90" cy="530.35" r="1.0" fill="#fffff0" stroke="#777" stroke-width="0.3"/>
<line x1="124.56" y1="530.98" x2="133.36" y2="535.74" stroke="#333" stroke-width="0.5" />
<path d="M127.98,543.36 A39.40,39.40 0 0 0 137.43,524.25" fill="none" stroke="#222" stroke-width="0.6"/>
<line x1="137.50" y1="523.84" x2="157.79" y2="527.42" stroke="#333" stroke-width="0.45" />
<circle cx="157.79" cy="527.42" r="0.95" fill="#fffff0" stroke="#666" stroke-width="0.3"/>
<line x1="137.09" y1="525.86" x2="157.16" y2="530.50" stroke="#333" stroke-width="0.45" />
<circle cx="157.16" cy="530.50" r="0.95" fill="#fffff0" stroke="#666" stroke-width="0.3"/>
<line x1="136.57" y1="527.86" x2="156.38" y2="533.54" stroke="#333" stroke-width="0.45" />
<circle cx="156.38" cy="533.54" r="0.95" fill="#fffff0" stroke="#666" stroke-width="0.3"/>
<line x1="135.95" y1="529.83" x2="155.43" y2="536.53" stroke="#333" stroke-width="0.45" />
<circle cx="155.43" cy="536.53" r="0.95" fill="#fffff0" stroke="#666" stroke-width="0.3"/>
<line x1="135.23" y1="531.76" x2="154.33" y2="539.48" stroke="#333" stroke-width="0.45" />
<circle cx="154.33" cy="539.48" r="0.95" fill="#fffff0" stroke="#666" stroke-width="0.3"/>
<line x1="132.68" y1="536.94" x2="141.83" y2="542.30" stroke="#333" stroke-width="0.5" />
<line x1="141.83" y1="542.30" x2="149.02" y2="549.68" stroke="#222" stroke-width="0.3" />
<line x1="141.83" y1="542.30" x2="149.79" y2="548.46" stroke="#222" stroke-width="0.3" />
<line x1="141.83" y1="542.30" x2="150.53" y2="547.23" stroke="#222" stroke-width="0.3" />
<line x1="141.83" y1="542.30" x2="151.24" y2="545.97" stroke="#222" stroke-width="0.3" />
<line x1="141.83" y1="542.30" x2="151.92" y2="544.70" stroke="#222" stroke-width="0.3" />
<line x1="141.83" y1="542.30" x2="152.57" y2="543.42" stroke="#222" stroke-width="0.3" />
<line x1="141.83" y1="542.30" x2="153.19" y2="542.12" stroke="#222" stroke-width="0.3" />
<line x1="141.83" y1="542.30" x2="153.78" y2="540.80" stroke="#222" stroke-width="0.3" />
<line x1="141.83" y1="542.30" x2="154.33" y2="539.48" stroke="#222" stroke-width="0.3" />
<line x1="127.98" y1="543.36" x2="135.34" y2="549.99" stroke="#333" stroke-width="0.5" />
<path d="M132.32,553.06 A49.30,49.30 0 0 0 138.33,546.32" fill="none" stroke="#222" stroke-width="0.5"/>
<line x1="138.07" y1="546.67" x2="145.82" y2="552.51" stroke="#333" stroke-width="0.45" />
<circle cx="145.82" cy="552.51" r="0.95" fill="#fffff0" stroke="#666" stroke-width="0.3"/>
<line x1="136.74" y1="548.36" x2="144.23" y2="554.53" stroke="#333" stroke-width="0.45" />
<circle cx="144.23" cy="554.53" r="0.95" fill="#fffff0" stroke="#666" stroke-width="0.3"/>
<line x1="135.34" y1="549.99" x2="142.55" y2="556.48" stroke="#333" stroke-width="0.45" />
<circle cx="142.55" cy="556.48" r="0.95" fill="#fffff0" stroke="#666" stroke-width="0.3"/>
<line x1="133.86" y1="551.55" x2="140.78" y2="558.35" stroke="#333" stroke-width="0.45" />
<circle cx="140.78" cy="558.35" r="0.95" fill="#fffff0" stroke="#666" stroke-width="0.3"/>
<line x1="132.32" y1="553.06" x2="138.94" y2="560.15" stroke="#333" stroke-width="0.45" />
<circle cx="138.94" cy="560.15" r="0.95" fill="#fffff0" stroke="#666" stroke-width="0.3"/>
<circle cx="114.93" cy="541.52" r="1.1" fill="#E8A04A" stroke="#a8732e" stroke-width="0.3"/>
<line x1="114.97" y1="541.49" x2="120.28" y2="549.48" stroke="#E0A060" stroke-width="0.7" />
<circle cx="120.28" cy="549.48" r="0.95" fill="#E8A04A" stroke="#a8732e" stroke-width="0.3"/>
<line x1="123.51" y1="547.09" x2="135.59" y2="561.75" stroke="#333" stroke-width="0.45" />
<line x1="122.17" y1="548.15" x2="133.61" y2="563.32" stroke="#333" stroke-width="0.45" />
<line x1="120.79" y1="549.14" x2="131.55" y2="564.80" stroke="#333" stroke-width="0.45" />
<line x1="119.08" y1="550.25" x2="129.00" y2="566.45" stroke="#333" stroke-width="0.45" />
<line x1="117.61" y1="551.11" x2="126.82" y2="567.73" stroke="#333" stroke-width="0.45" />
<line x1="116.10" y1="551.90" x2="124.58" y2="568.91" stroke="#333" stroke-width="0.45" />
<line x1="114.56" y1="552.63" x2="122.29" y2="569.99" stroke="#333" stroke-width="0.45" />
<path d="M114.56,552.63 A39.00,39.00 0 0 0 123.51,547.09" fill="none" stroke="#222" stroke-width="0.5"/>
<rect x="139.60" y="406.10" width="9.30" height="3.40" fill="#7FD47F" stroke="#2f7d2f" stroke-width="0.3"/>
<rect x="139.60" y="413.10" width="9.30" height="3.40" fill="#F5C080" stroke="#b07a30" stroke-width="0.3"/>
<text x="152.4" y="409.6" font-family="Liberation Sans, sans-serif" font-size="4.9" fill="#222">Group <tspan font-family="Liberation Serif, serif" font-style="italic" font-size="5.4">B. pseudocatenulatum</tspan></text>
<text x="152.40" y="416.60" font-family="Liberation Sans, sans-serif" font-size="4.9" text-anchor="start" fill="#222" font-weight="normal" font-style="normal" >Group PC</text>
<text x="5.50" y="9.00" font-family="Liberation Serif, serif" font-size="10.7" text-anchor="start" fill="#000" font-weight="bold" font-style="normal" stroke="#000" stroke-width="0.3">A</text>
<text x="111.70" y="13.60" font-family="Liberation Serif, serif" font-size="9.1" text-anchor="middle" fill="#111" font-weight="bold" font-style="normal" >PCoA (Binary_jaccard)</text>
<line x1="54.30" y1="36.90" x2="67.40" y2="108.40" stroke="#d4d4d8" stroke-width="0.4" />
<line x1="71.10" y1="31.10" x2="79.90" y2="101.10" stroke="#d4d4d8" stroke-width="0.4" />
<line x1="85.70" y1="26.70" x2="90.80" y2="93.80" stroke="#d4d4d8" stroke-width="0.4" />
<line x1="98.80" y1="22.30" x2="101.80" y2="88.00" stroke="#d4d4d8" stroke-width="0.4" />
<line x1="110.50" y1="18.60" x2="111.20" y2="84.80" stroke="#d4d4d8" stroke-width="0.4" />
<line x1="116.40" y1="16.50" x2="116.40" y2="82.40" stroke="#d4d4d8" stroke-width="0.4" />
<line x1="41.90" y1="39.80" x2="116.40" y2="17.50" stroke="#d4d4d8" stroke-width="0.4" />
<line x1="47.00" y1="58.10" x2="116.40" y2="33.70" stroke="#d4d4d8" stroke-width="0.4" />
<line x1="50.70" y1="74.10" x2="116.40" y2="51.20" stroke="#d4d4d8" stroke-width="0.4" />
<line x1="53.60" y1="88.70" x2="116.40" y2="67.30" stroke="#d4d4d8" stroke-width="0.4" />
<line x1="57.20" y1="101.10" x2="116.40" y2="82.40" stroke="#d4d4d8" stroke-width="0.4" />
<line x1="116.40" y1="17.50" x2="178.00" y2="35.00" stroke="#d4d4d8" stroke-width="0.4" />
<line x1="116.40" y1="33.70" x2="176.00" y2="56.00" stroke="#d4d4d8" stroke-width="0.4" />
<line x1="116.40" y1="51.20" x2="174.00" y2="75.00" stroke="#d4d4d8" stroke-width="0.4" />
<line x1="116.40" y1="67.30" x2="170.00" y2="94.00" stroke="#d4d4d8" stroke-width="0.4" />
<line x1="116.40" y1="82.40" x2="164.00" y2="110.80" stroke="#d4d4d8" stroke-width="0.4" />
<line x1="126.30" y1="20.30" x2="126.30" y2="88.00" stroke="#d4d4d8" stroke-width="0.4" />
<line x1="140.30" y1="24.30" x2="138.00" y2="94.50" stroke="#d4d4d8" stroke-width="0.4" />
<line x1="155.50" y1="28.60" x2="150.50" y2="102.00" stroke="#d4d4d8" stroke-width="0.4" />
<line x1="172.00" y1="33.30" x2="163.50" y2="110.50" stroke="#d4d4d8" stroke-width="0.4" />
<line x1="116.40" y1="82.40" x2="62.00" y2="111.20" stroke="#d4d4d8" stroke-width="0.4" />
<line x1="124.33" y1="87.13" x2="70.42" y2="118.08" stroke="#d4d4d8" stroke-width="0.4" />
<line x1="132.27" y1="91.87" x2="78.83" y2="124.97" stroke="#d4d4d8" stroke-width="0.4" />
<line x1="140.20" y1="96.60" x2="87.25" y2="131.85" stroke="#d4d4d8" stroke-width="0.4" />
<line x1="148.13" y1="101.33" x2="95.67" y2="138.73" stroke="#d4d4d8" stroke-width="0.4" />
<line x1="156.07" y1="106.07" x2="104.08" y2="145.62" stroke="#d4d4d8" stroke-width="0.4" />
<line x1="164.00" y1="110.80" x2="112.50" y2="152.50" stroke="#d4d4d8" stroke-width="0.4" />
<line x1="116.40" y1="82.40" x2="164.00" y2="110.80" stroke="#d4d4d8" stroke-width="0.4" />
<line x1="107.33" y1="87.20" x2="155.42" y2="117.75" stroke="#d4d4d8" stroke-width="0.4" />
<line x1="98.27" y1="92.00" x2="146.83" y2="124.70" stroke="#d4d4d8" stroke-width="0.4" />
<line x1="89.20" y1="96.80" x2="138.25" y2="131.65" stroke="#d4d4d8" stroke-width="0.4" />
<line x1="80.13" y1="101.60" x2="129.67" y2="138.60" stroke="#d4d4d8" stroke-width="0.4" />
<line x1="71.07" y1="106.40" x2="121.08" y2="145.55" stroke="#d4d4d8" stroke-width="0.4" />
<line x1="62.00" y1="111.20" x2="112.50" y2="152.50" stroke="#d4d4d8" stroke-width="0.4" />
<text x="36.50" y="41.50" font-family="Liberation Sans, sans-serif" font-size="2.6" text-anchor="middle" fill="#445" font-weight="normal" font-style="normal" >0.3</text>
<text x="42.00" y="60.00" font-family="Liberation Sans, sans-serif" font-size="2.6" text-anchor="middle" fill="#445" font-weight="normal" font-style="normal" >0.2</text>
<text x="45.50" y="76.00" font-family="Liberation Sans, sans-serif" font-size="2.6" text-anchor="middle" fill="#445" font-weight="normal" font-style="normal" >0.1</text>
<text x="50.00" y="90.50" font-family="Liberation Sans, sans-serif" font-size="2.6" text-anchor="middle" fill="#445" font-weight="normal" font-style="normal" >0</text>
<text x="51.00" y="104.00" font-family="Liberation Sans, sans-serif" font-size="2.6" text-anchor="middle" fill="#445" font-weight="normal" font-style="normal" >-0.1</text>
<text transform="translate(38,93) rotate(80)" font-family="Liberation Sans, sans-serif" font-size="2.6" fill="#334" text-anchor="middle">PC3(7.7%)</text>
<text x="57.00" y="117.00" font-family="Liberation Sans, sans-serif" font-size="2.6" text-anchor="middle" fill="#445" font-weight="normal" font-style="normal" >-0.2</text>
<text x="57.50" y="119.50" font-family="Liberation Sans, sans-serif" font-size="2.6" text-anchor="middle" fill="#445" font-weight="normal" font-style="normal" >-0.3</text>
<text x="69.00" y="126.50" font-family="Liberation Sans, sans-serif" font-size="2.6" text-anchor="middle" fill="#445" font-weight="normal" font-style="normal" >-0.1</text>
<text x="79.00" y="137.00" font-family="Liberation Sans, sans-serif" font-size="2.6" text-anchor="middle" fill="#445" font-weight="normal" font-style="normal" >0</text>
<text x="92.00" y="147.50" font-family="Liberation Sans, sans-serif" font-size="2.6" text-anchor="middle" fill="#445" font-weight="normal" font-style="normal" >0.1</text>
<text x="104.00" y="157.00" font-family="Liberation Sans, sans-serif" font-size="2.6" text-anchor="middle" fill="#445" font-weight="normal" font-style="normal" >0.2</text>
<text transform="translate(73,141) rotate(45)" font-family="Liberation Sans, sans-serif" font-size="2.6" fill="#334" text-anchor="middle">PC2(9.1%)</text>
<text x="170.00" y="116.00" font-family="Liberation Sans, sans-serif" font-size="2.6" text-anchor="middle" fill="#445" font-weight="normal" font-style="normal" >-0.2</text>
<text x="161.00" y="127.50" font-family="Liberation Sans, sans-serif" font-size="2.6" text-anchor="middle" fill="#445" font-weight="normal" font-style="normal" >-0.1</text>
<text x="151.00" y="137.00" font-family="Liberation Sans, sans-serif" font-size="2.6" text-anchor="middle" fill="#445" font-weight="normal" font-style="normal" >0</text>
<text x="139.00" y="147.00" font-family="Liberation Sans, sans-serif" font-size="2.6" text-anchor="middle" fill="#445" font-weight="normal" font-style="normal" >0.1</text>
<text x="125.00" y="158.00" font-family="Liberation Sans, sans-serif" font-size="2.6" text-anchor="middle" fill="#445" font-weight="normal" font-style="normal" >0.2</text>
<text transform="translate(159,141) rotate(-50)" font-family="Liberation Sans, sans-serif" font-size="2.6" fill="#334" text-anchor="middle">PC1(13%)</text>
<circle cx="85.59" cy="51.35" r="2.15" fill="#7DD87A" />
<circle cx="69.24" cy="76.14" r="2.15" fill="#7DD87A" />
<circle cx="72.82" cy="77.16" r="2.15" fill="#7DD87A" />
<circle cx="67.19" cy="81.25" r="2.15" fill="#7DD87A" />
<circle cx="69.75" cy="80.74" r="2.15" fill="#7DD87A" />
<circle cx="70.26" cy="93.25" r="2.15" fill="#7DD87A" />
<circle cx="86.10" cy="109.86" r="2.15" fill="#7DD87A" />
<circle cx="87.89" cy="110.63" r="2.15" fill="#7DD87A" />
<circle cx="90.96" cy="110.12" r="2.15" fill="#7DD87A" />
<circle cx="84.57" cy="117.53" r="2.15" fill="#7DD87A" />
<circle cx="125.70" cy="32.70" r="2.15" fill="#B8A6DC" />
<circle cx="122.13" cy="49.82" r="2.15" fill="#B8A6DC" />
<circle cx="116.25" cy="56.72" r="2.15" fill="#B8A6DC" />
<circle cx="117.02" cy="58.76" r="2.15" fill="#B8A6DC" />
<circle cx="113.18" cy="64.38" r="2.15" fill="#B8A6DC" />
<circle cx="112.42" cy="67.71" r="2.15" fill="#B8A6DC" />
<circle cx="113.95" cy="67.71" r="2.15" fill="#B8A6DC" />
<circle cx="105.52" cy="76.90" r="2.15" fill="#B8A6DC" />
<circle cx="141.80" cy="72.30" r="2.15" fill="#F2B06C" />
<circle cx="150.23" cy="82.78" r="2.15" fill="#F2B06C" />
<circle cx="143.84" cy="96.07" r="2.15" fill="#F2B06C" />
<circle cx="127.49" cy="96.58" r="2.15" fill="#F2B06C" />
<circle cx="129.79" cy="98.11" r="2.15" fill="#F2B06C" />
<circle cx="133.37" cy="94.79" r="2.15" fill="#F2B06C" />
<circle cx="124.94" cy="101.43" r="2.15" fill="#F2B06C" />
<circle cx="131.58" cy="103.47" r="2.15" fill="#F2B06C" />
<circle cx="137.20" cy="100.66" r="2.15" fill="#F2B06C" />
<circle cx="140.01" cy="100.15" r="2.15" fill="#F2B06C" />
<text x="279.20" y="13.60" font-family="Liberation Serif, serif" font-size="9.1" text-anchor="middle" fill="#111" font-weight="bold" font-style="normal" >PCoA (unweighted_unifrac)</text>
<line x1="215.88" y1="39.34" x2="281.50" y2="20.29" stroke="#d4d4d8" stroke-width="0.4" />
<line x1="221.17" y1="61.99" x2="281.50" y2="37.23" stroke="#d4d4d8" stroke-width="0.4" />
<line x1="225.40" y1="81.68" x2="281.50" y2="54.16" stroke="#d4d4d8" stroke-width="0.4" />
<line x1="229.64" y1="98.62" x2="281.50" y2="71.10" stroke="#d4d4d8" stroke-width="0.4" />
<line x1="233.87" y1="113.43" x2="281.50" y2="88.03" stroke="#d4d4d8" stroke-width="0.4" />
<line x1="237.04" y1="33.42" x2="248.26" y2="105.60" stroke="#d4d4d8" stroke-width="0.4" />
<line x1="256.10" y1="27.70" x2="262.45" y2="98.19" stroke="#d4d4d8" stroke-width="0.4" />
<line x1="270.91" y1="23.04" x2="273.03" y2="92.69" stroke="#d4d4d8" stroke-width="0.4" />
<line x1="281.50" y1="20.29" x2="281.50" y2="88.03" stroke="#d4d4d8" stroke-width="0.4" />
<line x1="281.50" y1="20.29" x2="346.06" y2="38.29" stroke="#d4d4d8" stroke-width="0.4" />
<line x1="281.50" y1="37.23" x2="342.89" y2="60.51" stroke="#d4d4d8" stroke-width="0.4" />
<line x1="281.50" y1="54.16" x2="338.65" y2="79.56" stroke="#d4d4d8" stroke-width="0.4" />
<line x1="281.50" y1="71.10" x2="334.42" y2="96.50" stroke="#d4d4d8" stroke-width="0.4" />
<line x1="281.50" y1="88.03" x2="329.55" y2="111.32" stroke="#d4d4d8" stroke-width="0.4" />
<line x1="289.97" y1="22.62" x2="289.33" y2="91.63" stroke="#d4d4d8" stroke-width="0.4" />
<line x1="305.84" y1="27.28" x2="302.03" y2="97.98" stroke="#d4d4d8" stroke-width="0.4" />
<line x1="323.84" y1="32.36" x2="315.37" y2="104.54" stroke="#d4d4d8" stroke-width="0.4" />
<line x1="346.06" y1="38.29" x2="329.55" y2="111.32" stroke="#d4d4d8" stroke-width="0.4" />
<line x1="281.50" y1="88.03" x2="233.87" y2="113.43" stroke="#d4d4d8" stroke-width="0.4" />
<line x1="293.51" y1="93.85" x2="246.84" y2="124.02" stroke="#d4d4d8" stroke-width="0.4" />
<line x1="305.52" y1="99.67" x2="259.80" y2="134.60" stroke="#d4d4d8" stroke-width="0.4" />
<line x1="317.54" y1="105.50" x2="272.77" y2="145.19" stroke="#d4d4d8" stroke-width="0.4" />
<line x1="329.55" y1="111.32" x2="285.73" y2="155.77" stroke="#d4d4d8" stroke-width="0.4" />
<line x1="281.50" y1="88.03" x2="329.55" y2="111.32" stroke="#d4d4d8" stroke-width="0.4" />
<line x1="269.59" y1="94.38" x2="318.60" y2="122.43" stroke="#d4d4d8" stroke-width="0.4" />
<line x1="257.68" y1="100.73" x2="307.64" y2="133.54" stroke="#d4d4d8" stroke-width="0.4" />
<line x1="245.78" y1="107.08" x2="296.69" y2="144.66" stroke="#d4d4d8" stroke-width="0.4" />
<line x1="233.87" y1="113.43" x2="285.73" y2="155.77" stroke="#d4d4d8" stroke-width="0.4" />
<text x="211.64" y="42.04" font-family="Liberation Sans, sans-serif" font-size="2.6" text-anchor="middle" fill="#445" font-weight="normal" font-style="normal" >0.1</text>
<text x="216.93" y="65.11" font-family="Liberation Sans, sans-serif" font-size="2.6" text-anchor="middle" fill="#445" font-weight="normal" font-style="normal" >0</text>
<text x="221.17" y="84.16" font-family="Liberation Sans, sans-serif" font-size="2.6" text-anchor="middle" fill="#445" font-weight="normal" font-style="normal" >-0.1</text>
<text x="225.83" y="100.67" font-family="Liberation Sans, sans-serif" font-size="2.6" text-anchor="middle" fill="#445" font-weight="normal" font-style="normal" >-0.2</text>
<text x="229.64" y="115.49" font-family="Liberation Sans, sans-serif" font-size="2.6" text-anchor="middle" fill="#445" font-weight="normal" font-style="normal" >-0.3</text>
<text transform="translate(214.4,87.0) rotate(80)" font-family="Liberation Sans, sans-serif" font-size="2.6" fill="#334" text-anchor="middle">PC3(7.2%)</text>
<text x="233.87" y="123.96" font-family="Liberation Sans, sans-serif" font-size="2.6" text-anchor="middle" fill="#445" font-weight="normal" font-style="normal" >-0.2</text>
<text x="247.63" y="134.54" font-family="Liberation Sans, sans-serif" font-size="2.6" text-anchor="middle" fill="#445" font-weight="normal" font-style="normal" >0</text>
<text x="261.39" y="147.67" font-family="Liberation Sans, sans-serif" font-size="2.6" text-anchor="middle" fill="#445" font-weight="normal" font-style="normal" >0.1</text>
<text transform="translate(244.5,139.9) rotate(48)" font-family="Liberation Sans, sans-serif" font-size="2.6" fill="#334" text-anchor="middle">PC2(8.6%)</text>
<text x="324.89" y="122.90" font-family="Liberation Sans, sans-serif" font-size="2.6" text-anchor="middle" fill="#445" font-weight="normal" font-style="normal" >-0.1</text>
<text x="313.25" y="134.54" font-family="Liberation Sans, sans-serif" font-size="2.6" text-anchor="middle" fill="#445" font-weight="normal" font-style="normal" >0</text>
<text x="299.49" y="147.67" font-family="Liberation Sans, sans-serif" font-size="2.6" text-anchor="middle" fill="#445" font-weight="normal" font-style="normal" >0.1</text>
<text transform="translate(316.4,139.9) rotate(-50)" font-family="Liberation Sans, sans-serif" font-size="2.6" fill="#334" text-anchor="middle">PC1(13.5%)</text>
<circle cx="241.15" cy="47.11" r="2.15" fill="#7DD87A" />
<circle cx="249.72" cy="44.74" r="2.15" fill="#7DD87A" />
<circle cx="232.83" cy="53.78" r="2.15" fill="#7DD87A" />
<circle cx="243.53" cy="56.40" r="2.15" fill="#7DD87A" />
<circle cx="256.38" cy="58.06" r="2.15" fill="#7DD87A" />
<circle cx="251.15" cy="72.81" r="2.15" fill="#7DD87A" />
<circle cx="256.38" cy="75.67" r="2.15" fill="#7DD87A" />
<circle cx="258.52" cy="74.72" r="2.15" fill="#7DD87A" />
<circle cx="275.18" cy="100.89" r="2.15" fill="#7DD87A" />
<circle cx="263.05" cy="112.08" r="2.15" fill="#7DD87A" />
<circle cx="280.18" cy="30.93" r="2.15" fill="#B8A6DC" />
<circle cx="283.99" cy="33.79" r="2.15" fill="#B8A6DC" />
<circle cx="281.13" cy="34.50" r="2.15" fill="#B8A6DC" />
<circle cx="282.80" cy="37.36" r="2.15" fill="#B8A6DC" />
<circle cx="283.51" cy="45.69" r="2.15" fill="#B8A6DC" />
<circle cx="282.32" cy="48.78" r="2.15" fill="#B8A6DC" />
<circle cx="289.22" cy="78.05" r="2.15" fill="#B8A6DC" />
<circle cx="282.80" cy="96.85" r="2.15" fill="#B8A6DC" />
<circle cx="291.60" cy="43.31" r="2.15" fill="#F2B06C" />
<circle cx="295.65" cy="46.16" r="2.15" fill="#F2B06C" />
<circle cx="293.50" cy="49.97" r="2.15" fill="#F2B06C" />
<circle cx="286.13" cy="52.83" r="2.15" fill="#F2B06C" />
<circle cx="295.41" cy="56.63" r="2.15" fill="#F2B06C" />
<circle cx="308.73" cy="42.59" r="2.15" fill="#F2B06C" />
<circle cx="309.45" cy="47.59" r="2.15" fill="#F2B06C" />
<circle cx="293.03" cy="73.53" r="2.15" fill="#F2B06C" />
<circle cx="320.63" cy="70.91" r="2.15" fill="#F2B06C" />
<circle cx="324.91" cy="71.86" r="2.15" fill="#F2B06C" />
<rect x="158.1" y="137.8" width="81.4" height="31.5" fill="#fff" stroke="#8a8a8a" stroke-width="0.6"/>
<circle cx="164.90" cy="143.90" r="2.05" fill="#7DD87A" />
<circle cx="164.90" cy="154.30" r="2.05" fill="#B8A6DC" />
<circle cx="164.90" cy="164.90" r="2.05" fill="#F2B06C" />
<text x="171.9" y="145.8" font-family="Liberation Serif, serif" fill="#111"><tspan font-size="5.2" font-style="italic">B. pseudocatenulatum</tspan><tspan font-size="6.2" dx="2.6">group</tspan></text>
<text x="172.8" y="156.2" font-family="Liberation Serif, serif" fill="#111"><tspan font-size="4.6">NC</tspan><tspan font-size="6.2" x="182.9">group</tspan></text>
<text x="172.8" y="166" font-family="Liberation Serif, serif" fill="#111"><tspan font-size="4.6">PC</tspan><tspan font-size="6.2" x="182">group</tspan></text>
<rect x="402.00" y="11.60" width="84.00" height="6.60" fill="#B828A8" />
<rect x="402.25" y="18.20" width="83.50" height="92.10" fill="#fff" stroke="#444" stroke-width="0.45"/>
<rect x="405.65" y="19.55" width="4.90" height="0.71" fill="#F5D0A0" />
<rect x="405.65" y="20.21" width="4.90" height="2.02" fill="#70F060" />
<rect x="405.65" y="22.18" width="4.90" height="8.98" fill="#5E3578" />
<rect x="405.65" y="31.11" width="4.90" height="18.97" fill="#A0583A" />
<rect x="405.65" y="50.03" width="4.90" height="23.70" fill="#5590E8" />
<rect x="405.65" y="73.68" width="4.90" height="34.47" fill="#EEAAFF" />
<rect x="415.73" y="19.55" width="4.90" height="1.36" fill="#F5D0A0" />
<rect x="415.73" y="20.86" width="4.90" height="2.02" fill="#70F060" />
<rect x="415.73" y="22.83" width="4.90" height="10.82" fill="#5E3578" />
<rect x="415.73" y="33.61" width="4.90" height="7.28" fill="#A0583A" />
<rect x="415.73" y="40.83" width="4.90" height="31.32" fill="#5590E8" />
<rect x="415.73" y="72.10" width="4.90" height="36.05" fill="#EEAAFF" />
<rect x="425.81" y="19.55" width="4.90" height="3.33" fill="#F5D0A0" />
<rect x="425.81" y="22.83" width="4.90" height="1.63" fill="#70F060" />
<rect x="425.81" y="24.41" width="4.90" height="12.14" fill="#5E3578" />
<rect x="425.81" y="36.50" width="4.90" height="7.93" fill="#A0583A" />
<rect x="425.81" y="44.38" width="4.90" height="28.69" fill="#5590E8" />
<rect x="425.81" y="73.02" width="4.90" height="35.13" fill="#EEAAFF" />
<rect x="435.89" y="19.55" width="4.90" height="2.28" fill="#F5D0A0" />
<rect x="435.89" y="21.78" width="4.90" height="2.02" fill="#70F060" />
<rect x="435.89" y="23.75" width="4.90" height="8.06" fill="#5E3578" />
<rect x="435.89" y="31.77" width="4.90" height="12.27" fill="#A0583A" />
<rect x="435.89" y="43.99" width="4.90" height="25.01" fill="#5590E8" />
<rect x="435.89" y="68.95" width="4.90" height="39.20" fill="#EEAAFF" />
<rect x="445.97" y="19.55" width="4.90" height="1.36" fill="#F5D0A0" />
<rect x="445.97" y="20.86" width="4.90" height="3.20" fill="#70F060" />
<rect x="445.97" y="24.02" width="4.90" height="7.28" fill="#5E3578" />
<rect x="445.97" y="31.24" width="4.90" height="9.64" fill="#A0583A" />
<rect x="445.97" y="40.83" width="4.90" height="24.09" fill="#5590E8" />
<rect x="445.97" y="64.88" width="4.90" height="43.27" fill="#EEAAFF" />
<rect x="456.05" y="19.55" width="4.90" height="0.71" fill="#F5D0A0" />
<rect x="456.05" y="20.21" width="4.90" height="2.02" fill="#70F060" />
<rect x="456.05" y="22.18" width="4.90" height="8.20" fill="#5E3578" />
<rect x="456.05" y="30.32" width="4.90" height="12.66" fill="#A0583A" />
<rect x="456.05" y="42.94" width="4.90" height="29.87" fill="#5590E8" />
<rect x="456.05" y="72.76" width="4.90" height="35.39" fill="#EEAAFF" />
<rect x="466.13" y="19.55" width="4.90" height="3.60" fill="#F5D0A0" />
<rect x="466.13" y="23.10" width="4.90" height="5.04" fill="#70F060" />
<rect x="466.13" y="28.09" width="4.90" height="3.07" fill="#5E3578" />
<rect x="466.13" y="31.11" width="4.90" height="9.77" fill="#A0583A" />
<rect x="466.13" y="40.83" width="4.90" height="27.11" fill="#5590E8" />
<rect x="466.13" y="67.90" width="4.90" height="40.25" fill="#EEAAFF" />
<rect x="476.21" y="19.55" width="4.90" height="1.36" fill="#F5D0A0" />
<rect x="476.21" y="20.86" width="4.90" height="2.02" fill="#70F060" />
<rect x="476.21" y="22.83" width="4.90" height="8.06" fill="#5E3578" />
<rect x="476.21" y="30.85" width="4.90" height="12.93" fill="#A0583A" />
<rect x="476.21" y="43.72" width="4.90" height="30.92" fill="#5590E8" />
<rect x="476.21" y="74.60" width="4.90" height="33.55" fill="#EEAAFF" />
<text x="439.90" y="16.70" font-family="Liberation Serif, serif" font-size="6" text-anchor="middle" fill="#fff" font-weight="normal" font-style="normal" >NC group</text>
<rect x="486.00" y="11.60" width="98.40" height="6.60" fill="#3355FF" />
<rect x="486.25" y="18.20" width="97.90" height="92.10" fill="#fff" stroke="#444" stroke-width="0.45"/>
<rect x="487.07" y="19.55" width="4.90" height="2.35" fill="#F5D0A0" />
<rect x="487.07" y="21.85" width="4.90" height="4.19" fill="#70F060" />
<rect x="487.07" y="25.98" width="4.90" height="6.33" fill="#5E3578" />
<rect x="487.07" y="32.27" width="4.90" height="9.85" fill="#A0583A" />
<rect x="487.07" y="42.07" width="4.90" height="23.95" fill="#5590E8" />
<rect x="487.07" y="65.97" width="4.90" height="42.18" fill="#EEAAFF" />
<rect x="497.13" y="19.55" width="4.90" height="3.88" fill="#F5D0A0" />
<rect x="497.13" y="23.38" width="4.90" height="10.77" fill="#70F060" />
<rect x="497.13" y="34.10" width="4.90" height="4.34" fill="#5E3578" />
<rect x="497.13" y="38.39" width="4.90" height="8.32" fill="#A0583A" />
<rect x="497.13" y="46.67" width="4.90" height="24.26" fill="#5590E8" />
<rect x="497.13" y="70.87" width="4.90" height="37.28" fill="#EEAAFF" />
<rect x="507.19" y="19.55" width="4.90" height="4.34" fill="#F5D0A0" />
<rect x="507.19" y="23.84" width="4.90" height="7.25" fill="#70F060" />
<rect x="507.19" y="31.04" width="4.90" height="6.48" fill="#5E3578" />
<rect x="507.19" y="37.47" width="4.90" height="2.81" fill="#A0583A" />
<rect x="507.19" y="40.23" width="4.90" height="23.64" fill="#5590E8" />
<rect x="507.19" y="63.83" width="4.90" height="44.32" fill="#EEAAFF" />
<rect x="517.25" y="19.55" width="4.90" height="3.11" fill="#F5D0A0" />
<rect x="517.25" y="22.61" width="4.90" height="10.47" fill="#70F060" />
<rect x="517.25" y="33.03" width="4.90" height="2.96" fill="#5E3578" />
<rect x="517.25" y="35.94" width="4.90" height="7.40" fill="#A0583A" />
<rect x="517.25" y="43.30" width="4.90" height="19.51" fill="#5590E8" />
<rect x="517.25" y="62.75" width="4.90" height="45.40" fill="#EEAAFF" />
<rect x="527.31" y="19.55" width="4.90" height="5.87" fill="#F5D0A0" />
<rect x="527.31" y="25.37" width="4.90" height="12.61" fill="#70F060" />
<rect x="527.31" y="37.93" width="4.90" height="4.19" fill="#5E3578" />
<rect x="527.31" y="42.07" width="4.90" height="5.26" fill="#A0583A" />
<rect x="527.31" y="47.28" width="4.90" height="20.73" fill="#5590E8" />
<rect x="527.31" y="67.96" width="4.90" height="40.19" fill="#EEAAFF" />
<rect x="537.37" y="19.55" width="4.90" height="1.58" fill="#F5D0A0" />
<rect x="537.37" y="21.08" width="4.90" height="4.95" fill="#70F060" />
<rect x="537.37" y="25.98" width="4.90" height="5.87" fill="#5E3578" />
<rect x="537.37" y="31.81" width="4.90" height="9.24" fill="#A0583A" />
<rect x="537.37" y="41.00" width="4.90" height="20.27" fill="#5590E8" />
<rect x="537.37" y="61.22" width="4.90" height="46.93" fill="#EEAAFF" />
<rect x="547.43" y="19.55" width="4.90" height="1.58" fill="#F5D0A0" />
<rect x="547.43" y="21.08" width="4.90" height="1.28" fill="#70F060" />
<rect x="547.43" y="22.31" width="4.90" height="11.54" fill="#5E3578" />
<rect x="547.43" y="33.80" width="4.90" height="7.25" fill="#A0583A" />
<rect x="547.43" y="41.00" width="4.90" height="27.63" fill="#5590E8" />
<rect x="547.43" y="68.57" width="4.90" height="39.58" fill="#EEAAFF" />
<rect x="557.49" y="19.55" width="4.90" height="2.35" fill="#F5D0A0" />
<rect x="557.49" y="21.85" width="4.90" height="2.35" fill="#70F060" />
<rect x="557.49" y="24.15" width="4.90" height="11.85" fill="#5E3578" />
<rect x="557.49" y="35.94" width="4.90" height="6.94" fill="#A0583A" />
<rect x="557.49" y="42.84" width="4.90" height="22.72" fill="#5590E8" />
<rect x="557.49" y="65.51" width="4.90" height="42.64" fill="#EEAAFF" />
<rect x="567.55" y="19.55" width="4.90" height="1.58" fill="#F5D0A0" />
<rect x="567.55" y="21.08" width="4.90" height="2.04" fill="#70F060" />
<rect x="567.55" y="23.07" width="4.90" height="9.85" fill="#5E3578" />
<rect x="567.55" y="32.88" width="4.90" height="3.88" fill="#A0583A" />
<rect x="567.55" y="36.71" width="4.90" height="25.33" fill="#5590E8" />
<rect x="567.55" y="61.99" width="4.90" height="46.16" fill="#EEAAFF" />
<rect x="577.61" y="19.55" width="4.90" height="2.35" fill="#F5D0A0" />
<rect x="577.61" y="21.85" width="4.90" height="3.88" fill="#70F060" />
<rect x="577.61" y="25.68" width="4.90" height="13.07" fill="#5E3578" />
<rect x="577.61" y="38.70" width="4.90" height="9.24" fill="#A0583A" />
<rect x="577.61" y="47.89" width="4.90" height="19.81" fill="#5590E8" />
<rect x="577.61" y="67.66" width="4.90" height="40.49" fill="#EEAAFF" />
<text x="526.60" y="16.70" font-family="Liberation Serif, serif" font-size="6" text-anchor="middle" fill="#fff" font-weight="normal" font-style="normal" >PC group</text>
<rect x="584.60" y="11.60" width="99.10" height="6.60" fill="#4AAE20" />
<rect x="584.85" y="18.20" width="98.60" height="92.10" fill="#fff" stroke="#444" stroke-width="0.45"/>
<rect x="587.05" y="19.55" width="4.90" height="3.10" fill="#F5D0A0" />
<rect x="587.05" y="22.60" width="4.90" height="3.87" fill="#70F060" />
<rect x="587.05" y="26.42" width="4.90" height="10.74" fill="#A0583A" />
<rect x="587.05" y="37.11" width="4.90" height="29.06" fill="#5590E8" />
<rect x="587.05" y="66.12" width="4.90" height="42.03" fill="#EEAAFF" />
<rect x="597.09" y="19.55" width="4.90" height="4.17" fill="#F5D0A0" />
<rect x="597.09" y="23.67" width="4.90" height="3.41" fill="#70F060" />
<rect x="597.09" y="27.03" width="4.90" height="5.09" fill="#A0583A" />
<rect x="597.09" y="32.07" width="4.90" height="35.32" fill="#5590E8" />
<rect x="597.09" y="67.34" width="4.90" height="40.81" fill="#EEAAFF" />
<rect x="607.13" y="19.55" width="4.90" height="4.32" fill="#F5D0A0" />
<rect x="607.13" y="23.82" width="4.90" height="3.26" fill="#70F060" />
<rect x="607.13" y="27.03" width="4.90" height="18.98" fill="#A0583A" />
<rect x="607.13" y="45.96" width="4.90" height="24.78" fill="#5590E8" />
<rect x="607.13" y="70.70" width="4.90" height="37.45" fill="#EEAAFF" />
<rect x="617.17" y="19.55" width="4.90" height="6.46" fill="#F5D0A0" />
<rect x="617.17" y="25.96" width="4.90" height="4.48" fill="#70F060" />
<rect x="617.17" y="30.39" width="4.90" height="3.71" fill="#A0583A" />
<rect x="617.17" y="34.05" width="4.90" height="30.28" fill="#5590E8" />
<rect x="617.17" y="64.28" width="4.90" height="43.87" fill="#EEAAFF" />
<rect x="627.21" y="19.55" width="4.90" height="4.17" fill="#F5D0A0" />
<rect x="627.21" y="23.67" width="4.90" height="5.55" fill="#70F060" />
<rect x="627.21" y="29.17" width="4.90" height="14.40" fill="#A0583A" />
<rect x="627.21" y="43.52" width="4.90" height="30.58" fill="#5590E8" />
<rect x="627.21" y="74.05" width="4.90" height="34.10" fill="#EEAAFF" />
<rect x="637.25" y="19.55" width="4.90" height="4.48" fill="#F5D0A0" />
<rect x="637.25" y="23.98" width="4.90" height="10.13" fill="#70F060" />
<rect x="637.25" y="34.05" width="4.90" height="13.79" fill="#A0583A" />
<rect x="637.25" y="47.79" width="4.90" height="24.17" fill="#5590E8" />
<rect x="637.25" y="71.92" width="4.90" height="36.23" fill="#EEAAFF" />
<rect x="647.29" y="19.55" width="4.90" height="5.85" fill="#F5D0A0" />
<rect x="647.29" y="25.35" width="4.90" height="16.69" fill="#70F060" />
<rect x="647.29" y="41.99" width="4.90" height="6.31" fill="#A0583A" />
<rect x="647.29" y="48.25" width="4.90" height="31.20" fill="#5590E8" />
<rect x="647.29" y="79.40" width="4.90" height="28.75" fill="#EEAAFF" />
<rect x="657.33" y="19.55" width="4.90" height="2.65" fill="#F5D0A0" />
<rect x="657.33" y="22.15" width="4.90" height="3.26" fill="#70F060" />
<rect x="657.33" y="25.35" width="4.90" height="2.80" fill="#A0583A" />
<rect x="657.33" y="28.10" width="4.90" height="35.78" fill="#5590E8" />
<rect x="657.33" y="63.83" width="4.90" height="44.32" fill="#EEAAFF" />
<rect x="667.37" y="19.55" width="4.90" height="3.56" fill="#F5D0A0" />
<rect x="667.37" y="23.06" width="4.90" height="5.09" fill="#70F060" />
<rect x="667.37" y="28.10" width="4.90" height="2.80" fill="#A0583A" />
<rect x="667.37" y="30.85" width="4.90" height="30.74" fill="#5590E8" />
<rect x="667.37" y="61.53" width="4.90" height="46.62" fill="#EEAAFF" />
<rect x="677.41" y="19.55" width="4.90" height="2.80" fill="#F5D0A0" />
<rect x="677.41" y="22.30" width="4.90" height="2.65" fill="#70F060" />
<rect x="677.41" y="24.89" width="4.90" height="6.92" fill="#A0583A" />
<rect x="677.41" y="31.76" width="4.90" height="37.76" fill="#5590E8" />
<rect x="677.41" y="69.47" width="4.90" height="38.68" fill="#EEAAFF" />
<text x="630.50" y="16.70" text-anchor="middle" fill="#fff" font-family="Liberation Serif, serif"><tspan font-size="5.1" font-style="italic">B. pseudocatenulatum</tspan><tspan font-size="6" dx="2.5">group</tspan></text>
<text x="398.30" y="20.85" font-family="Liberation Sans, sans-serif" font-size="3.6" text-anchor="end" fill="#444" font-weight="normal" font-style="normal" >1.00</text>
<line x1="400.80" y1="19.55" x2="402.00" y2="19.55" stroke="#333" stroke-width="0.4" />
<text x="398.30" y="42.98" font-family="Liberation Sans, sans-serif" font-size="3.6" text-anchor="end" fill="#444" font-weight="normal" font-style="normal" >0.75</text>
<line x1="400.80" y1="41.69" x2="402.00" y2="41.69" stroke="#333" stroke-width="0.4" />
<text x="398.30" y="65.12" font-family="Liberation Sans, sans-serif" font-size="3.6" text-anchor="end" fill="#444" font-weight="normal" font-style="normal" >0.50</text>
<line x1="400.80" y1="63.83" x2="402.00" y2="63.83" stroke="#333" stroke-width="0.4" />
<text x="398.30" y="87.26" font-family="Liberation Sans, sans-serif" font-size="3.6" text-anchor="end" fill="#444" font-weight="normal" font-style="normal" >0.25</text>
<line x1="400.80" y1="85.96" x2="402.00" y2="85.96" stroke="#333" stroke-width="0.4" />
<text x="398.30" y="109.40" font-family="Liberation Sans, sans-serif" font-size="3.6" text-anchor="end" fill="#444" font-weight="normal" font-style="normal" >0.00</text>
<line x1="400.80" y1="108.10" x2="402.00" y2="108.10" stroke="#333" stroke-width="0.4" />
<text transform="translate(382.80,60.30) rotate(-90)" text-anchor="middle" font-family="Liberation Sans, sans-serif" font-size="8.2" fill="#111">Phylum-Relative abundance(%)</text>
<text x="404.30" y="118.60" font-family="Liberation Sans, sans-serif" font-size="4.3" text-anchor="start" fill="#222" font-weight="normal" font-style="normal" >Taxonomy</text>
<rect x="404.30" y="115.90" width="8.70" height="6.00" fill="none" />
<text x="415.60" y="120.30" font-family="Liberation Sans, sans-serif" font-size="4.1" text-anchor="start" fill="#222" font-weight="normal" font-style="normal" ></text>
<rect x="404.30" y="122.35" width="8.70" height="6.00" fill="#F0A030" />
<text x="415.60" y="126.75" font-family="Liberation Sans, sans-serif" font-size="4.1" text-anchor="start" fill="#222" font-weight="normal" font-style="normal" >Acidobacteriota</text>
<rect x="404.30" y="128.80" width="8.70" height="6.00" fill="#5068A0" />
<text x="415.60" y="133.20" font-family="Liberation Sans, sans-serif" font-size="4.1" text-anchor="start" fill="#222" font-weight="normal" font-style="normal" >Fusobacteriota</text>
<rect x="404.30" y="135.25" width="8.70" height="6.00" fill="#D040A8" />
<text x="415.60" y="139.65" font-family="Liberation Sans, sans-serif" font-size="4.1" text-anchor="start" fill="#222" font-weight="normal" font-style="normal" >Myxococcota</text>
<rect x="404.30" y="141.70" width="8.70" height="6.00" fill="#B0E040" />
<text x="415.60" y="146.10" font-family="Liberation Sans, sans-serif" font-size="4.1" text-anchor="start" fill="#222" font-weight="normal" font-style="normal" >Patescibacteria</text>
<rect x="404.30" y="148.15" width="8.70" height="6.00" fill="#A8A050" />
<text x="415.60" y="152.55" font-family="Liberation Sans, sans-serif" font-size="4.1" text-anchor="start" fill="#222" font-weight="normal" font-style="normal" >Gemmatimonadota</text>
<rect x="404.30" y="154.60" width="8.70" height="6.00" fill="#C0FFD0" />
<text x="415.60" y="159.00" font-family="Liberation Sans, sans-serif" font-size="4.1" text-anchor="start" fill="#222" font-weight="normal" font-style="normal" >Verrucomicrobiota</text>
<rect x="456.90" y="115.90" width="8.70" height="6.00" fill="#909090" />
<text x="468.20" y="120.30" font-family="Liberation Sans, sans-serif" font-size="4.1" text-anchor="start" fill="#222" font-weight="normal" font-style="normal" >Deferribacterota</text>
<rect x="456.90" y="122.35" width="8.70" height="6.00" fill="#F5D0A0" />
<text x="468.20" y="126.75" font-family="Liberation Sans, sans-serif" font-size="4.1" text-anchor="start" fill="#222" font-weight="normal" font-style="normal" >Actinobacteriota</text>
<rect x="456.90" y="128.80" width="8.70" height="6.00" fill="#70F060" />
<text x="468.20" y="133.20" font-family="Liberation Sans, sans-serif" font-size="4.1" text-anchor="start" fill="#222" font-weight="normal" font-style="normal" >Proteobacteria</text>
<rect x="456.90" y="135.25" width="8.70" height="6.00" fill="#5E3578" />
<text x="468.20" y="139.65" font-family="Liberation Sans, sans-serif" font-size="4.1" text-anchor="start" fill="#222" font-weight="normal" font-style="normal" >Desulfobacterota</text>
<rect x="456.90" y="141.70" width="8.70" height="6.00" fill="#A0583A" />
<text x="468.20" y="146.10" font-family="Liberation Sans, sans-serif" font-size="4.1" text-anchor="start" fill="#222" font-weight="normal" font-style="normal" >Campilobacterota</text>
<rect x="456.90" y="148.15" width="8.70" height="6.00" fill="#5590E8" />
<text x="468.20" y="152.55" font-family="Liberation Sans, sans-serif" font-size="4.1" text-anchor="start" fill="#222" font-weight="normal" font-style="normal" >Firmicutes</text>
<rect x="456.90" y="154.60" width="8.70" height="6.00" fill="#EEAAFF" />
<text x="468.20" y="159.00" font-family="Liberation Sans, sans-serif" font-size="4.1" text-anchor="start" fill="#222" font-weight="normal" font-style="normal" >Bacteroidota</text>
<rect x="403.00" y="165.90" width="77.20" height="6.60" fill="#B828A8" />
<rect x="403.25" y="172.50" width="76.70" height="120.70" fill="#fff" stroke="#444" stroke-width="0.45"/>
<rect x="406.10" y="174.20" width="4.90" height="1.12" fill="#909090" />
<rect x="406.10" y="175.27" width="4.90" height="3.10" fill="#50A8E0" />
<rect x="406.10" y="178.32" width="4.90" height="7.68" fill="#D8A0FF" />
<rect x="406.10" y="185.95" width="4.90" height="4.17" fill="#F0A030" />
<rect x="406.10" y="190.07" width="4.90" height="2.03" fill="#5068A0" />
<rect x="406.10" y="192.05" width="4.90" height="1.88" fill="#D040A8" />
<rect x="406.10" y="193.88" width="4.90" height="3.25" fill="#B0E040" />
<rect x="406.10" y="197.09" width="4.90" height="2.95" fill="#A8A050" />
<rect x="406.10" y="199.99" width="4.90" height="5.09" fill="#C0FFD0" />
<rect x="406.10" y="205.02" width="4.90" height="2.80" fill="#909090" />
<rect x="406.10" y="207.77" width="4.90" height="11.80" fill="#F5D0A0" />
<rect x="406.10" y="219.52" width="4.90" height="5.39" fill="#70F060" />
<rect x="406.10" y="224.86" width="4.90" height="24.77" fill="#5E3578" />
<rect x="406.10" y="249.58" width="4.90" height="13.48" fill="#A0583A" />
<rect x="406.10" y="263.01" width="4.90" height="8.44" fill="#5590E8" />
<rect x="406.10" y="271.40" width="4.90" height="20.65" fill="#EEAAFF" />
<rect x="415.55" y="174.20" width="4.90" height="1.12" fill="#909090" />
<rect x="415.55" y="175.27" width="4.90" height="5.70" fill="#50A8E0" />
<rect x="415.55" y="180.91" width="4.90" height="5.85" fill="#D8A0FF" />
<rect x="415.55" y="186.71" width="4.90" height="4.32" fill="#F0A030" />
<rect x="415.55" y="190.98" width="4.90" height="2.64" fill="#5068A0" />
<rect x="415.55" y="193.58" width="4.90" height="2.64" fill="#D040A8" />
<rect x="415.55" y="196.17" width="4.90" height="3.86" fill="#B0E040" />
<rect x="415.55" y="199.99" width="4.90" height="4.78" fill="#A8A050" />
<rect x="415.55" y="204.72" width="4.90" height="6.46" fill="#C0FFD0" />
<rect x="415.55" y="211.13" width="4.90" height="1.88" fill="#909090" />
<rect x="415.55" y="212.96" width="4.90" height="13.94" fill="#F5D0A0" />
<rect x="415.55" y="226.84" width="4.90" height="2.95" fill="#70F060" />
<rect x="415.55" y="229.74" width="4.90" height="9.21" fill="#5E3578" />
<rect x="415.55" y="238.90" width="4.90" height="19.28" fill="#A0583A" />
<rect x="415.55" y="258.12" width="4.90" height="12.10" fill="#5590E8" />
<rect x="415.55" y="270.18" width="4.90" height="21.87" fill="#EEAAFF" />
<rect x="425.00" y="174.20" width="4.90" height="1.42" fill="#909090" />
<rect x="425.00" y="175.57" width="4.90" height="3.56" fill="#50A8E0" />
<rect x="425.00" y="179.08" width="4.90" height="3.10" fill="#D8A0FF" />
<rect x="425.00" y="182.13" width="4.90" height="0.81" fill="#608040" />
<rect x="425.00" y="182.90" width="4.90" height="7.98" fill="#F0A030" />
<rect x="425.00" y="190.83" width="4.90" height="2.03" fill="#5068A0" />
<rect x="425.00" y="192.82" width="4.90" height="4.93" fill="#D040A8" />
<rect x="425.00" y="197.70" width="4.90" height="3.41" fill="#B0E040" />
<rect x="425.00" y="201.06" width="4.90" height="4.32" fill="#A8A050" />
<rect x="425.00" y="205.33" width="4.90" height="6.76" fill="#C0FFD0" />
<rect x="425.00" y="212.04" width="4.90" height="0.97" fill="#909090" />
<rect x="425.00" y="212.96" width="4.90" height="16.07" fill="#F5D0A0" />
<rect x="425.00" y="228.98" width="4.90" height="3.86" fill="#70F060" />
<rect x="425.00" y="232.79" width="4.90" height="10.43" fill="#5E3578" />
<rect x="425.00" y="243.17" width="4.90" height="14.09" fill="#A0583A" />
<rect x="425.00" y="257.21" width="4.90" height="9.97" fill="#5590E8" />
<rect x="425.00" y="267.13" width="4.90" height="24.92" fill="#EEAAFF" />
<rect x="434.45" y="174.20" width="4.90" height="1.12" fill="#909090" />
<rect x="434.45" y="175.27" width="4.90" height="2.64" fill="#50A8E0" />
<rect x="434.45" y="177.86" width="4.90" height="5.85" fill="#D8A0FF" />
<rect x="434.45" y="183.66" width="4.90" height="1.88" fill="#608040" />
<rect x="434.45" y="185.49" width="4.90" height="4.32" fill="#F0A030" />
<rect x="434.45" y="189.76" width="4.90" height="1.88" fill="#5068A0" />
<rect x="434.45" y="191.60" width="4.90" height="4.02" fill="#D040A8" />
<rect x="434.45" y="195.56" width="4.90" height="4.48" fill="#B0E040" />
<rect x="434.45" y="199.99" width="4.90" height="5.85" fill="#A8A050" />
<rect x="434.45" y="205.79" width="4.90" height="4.48" fill="#C0FFD0" />
<rect x="434.45" y="210.21" width="4.90" height="1.88" fill="#909090" />
<rect x="434.45" y="212.04" width="4.90" height="10.88" fill="#F5D0A0" />
<rect x="434.45" y="222.88" width="4.90" height="4.17" fill="#70F060" />
<rect x="434.45" y="227.00" width="4.90" height="16.99" fill="#5E3578" />
<rect x="434.45" y="243.93" width="4.90" height="11.19" fill="#A0583A" />
<rect x="434.45" y="255.07" width="4.90" height="13.33" fill="#5590E8" />
<rect x="434.45" y="268.35" width="4.90" height="23.70" fill="#EEAAFF" />
<rect x="443.90" y="174.20" width="4.90" height="1.42" fill="#909090" />
<rect x="443.90" y="175.57" width="4.90" height="2.80" fill="#50A8E0" />
<rect x="443.90" y="178.32" width="4.90" height="6.61" fill="#D8A0FF" />
<rect x="443.90" y="184.88" width="4.90" height="0.97" fill="#608040" />
<rect x="443.90" y="185.80" width="4.90" height="5.24" fill="#F0A030" />
<rect x="443.90" y="190.98" width="4.90" height="4.48" fill="#5068A0" />
<rect x="443.90" y="195.41" width="4.90" height="2.34" fill="#D040A8" />
<rect x="443.90" y="197.70" width="4.90" height="4.02" fill="#B0E040" />
<rect x="443.90" y="201.67" width="4.90" height="5.39" fill="#A8A050" />
<rect x="443.90" y="207.01" width="4.90" height="3.10" fill="#C0FFD0" />
<rect x="443.90" y="210.06" width="4.90" height="2.95" fill="#909090" />
<rect x="443.90" y="212.96" width="4.90" height="9.21" fill="#F5D0A0" />
<rect x="443.90" y="222.11" width="4.90" height="7.07" fill="#70F060" />
<rect x="443.90" y="229.13" width="4.90" height="12.87" fill="#5E3578" />
<rect x="443.90" y="241.95" width="4.90" height="11.95" fill="#A0583A" />
<rect x="443.90" y="253.85" width="4.90" height="12.56" fill="#5590E8" />
<rect x="443.90" y="266.36" width="4.90" height="25.69" fill="#EEAAFF" />
<rect x="453.35" y="174.20" width="4.90" height="0.81" fill="#909090" />
<rect x="453.35" y="174.96" width="4.90" height="5.24" fill="#50A8E0" />
<rect x="453.35" y="180.15" width="4.90" height="6.00" fill="#D8A0FF" />
<rect x="453.35" y="186.10" width="4.90" height="4.93" fill="#F0A030" />
<rect x="453.35" y="190.98" width="4.90" height="2.19" fill="#5068A0" />
<rect x="453.35" y="193.12" width="4.90" height="1.73" fill="#D040A8" />
<rect x="453.35" y="194.80" width="4.90" height="3.10" fill="#B0E040" />
<rect x="453.35" y="197.85" width="4.90" height="5.09" fill="#A8A050" />
<rect x="453.35" y="202.89" width="4.90" height="6.31" fill="#C0FFD0" />
<rect x="453.35" y="209.14" width="4.90" height="1.58" fill="#909090" />
<rect x="453.35" y="210.67" width="4.90" height="10.73" fill="#F5D0A0" />
<rect x="453.35" y="221.35" width="4.90" height="4.02" fill="#70F060" />
<rect x="453.35" y="225.32" width="4.90" height="16.68" fill="#5E3578" />
<rect x="453.35" y="241.95" width="4.90" height="18.06" fill="#A0583A" />
<rect x="453.35" y="259.96" width="4.90" height="13.78" fill="#5590E8" />
<rect x="453.35" y="273.69" width="4.90" height="18.36" fill="#EEAAFF" />
<rect x="462.80" y="174.20" width="4.90" height="1.12" fill="#909090" />
<rect x="462.80" y="175.27" width="4.90" height="3.86" fill="#F0A030" />
<rect x="462.80" y="179.08" width="4.90" height="6.92" fill="#5068A0" />
<rect x="462.80" y="185.95" width="4.90" height="5.39" fill="#D040A8" />
<rect x="462.80" y="191.29" width="4.90" height="4.63" fill="#B0E040" />
<rect x="462.80" y="195.87" width="4.90" height="6.15" fill="#A8A050" />
<rect x="462.80" y="201.97" width="4.90" height="4.17" fill="#C0FFD0" />
<rect x="462.80" y="206.09" width="4.90" height="1.73" fill="#909090" />
<rect x="462.80" y="207.77" width="4.90" height="4.32" fill="#F5D0A0" />
<rect x="462.80" y="212.04" width="4.90" height="4.93" fill="#70F060" />
<rect x="462.80" y="216.93" width="4.90" height="12.87" fill="#5E3578" />
<rect x="462.80" y="229.74" width="4.90" height="20.04" fill="#A0583A" />
<rect x="462.80" y="249.73" width="4.90" height="14.85" fill="#5590E8" />
<rect x="462.80" y="264.53" width="4.90" height="27.52" fill="#EEAAFF" />
<rect x="472.25" y="174.20" width="4.90" height="1.42" fill="#909090" />
<rect x="472.25" y="175.57" width="4.90" height="2.34" fill="#50A8E0" />
<rect x="472.25" y="177.86" width="4.90" height="5.09" fill="#F0A030" />
<rect x="472.25" y="182.90" width="4.90" height="2.95" fill="#5068A0" />
<rect x="472.25" y="185.80" width="4.90" height="2.19" fill="#D040A8" />
<rect x="472.25" y="187.93" width="4.90" height="2.64" fill="#B0E040" />
<rect x="472.25" y="190.53" width="4.90" height="5.39" fill="#A8A050" />
<rect x="472.25" y="195.87" width="4.90" height="6.92" fill="#C0FFD0" />
<rect x="472.25" y="202.73" width="4.90" height="3.10" fill="#909090" />
<rect x="472.25" y="205.79" width="4.90" height="10.27" fill="#F5D0A0" />
<rect x="472.25" y="216.01" width="4.90" height="3.71" fill="#70F060" />
<rect x="472.25" y="219.67" width="4.90" height="17.45" fill="#5E3578" />
<rect x="472.25" y="237.07" width="4.90" height="19.89" fill="#A0583A" />
<rect x="472.25" y="256.90" width="4.90" height="12.26" fill="#5590E8" />
<rect x="472.25" y="269.11" width="4.90" height="22.94" fill="#EEAAFF" />
<text x="437.40" y="171.00" font-family="Liberation Serif, serif" font-size="6" text-anchor="middle" fill="#fff" font-weight="normal" font-style="normal" >NC group</text>
<rect x="480.20" y="165.90" width="100.00" height="6.60" fill="#3355FF" />
<rect x="480.45" y="172.50" width="99.50" height="120.70" fill="#fff" stroke="#444" stroke-width="0.45"/>
<rect x="485.50" y="174.20" width="4.90" height="3.00" fill="#909090" />
<rect x="485.50" y="177.15" width="4.90" height="3.82" fill="#F0A030" />
<rect x="485.50" y="180.93" width="4.90" height="3.99" fill="#5068A0" />
<rect x="485.50" y="184.86" width="4.90" height="4.15" fill="#D040A8" />
<rect x="485.50" y="188.97" width="4.90" height="5.14" fill="#B0E040" />
<rect x="485.50" y="194.05" width="4.90" height="4.97" fill="#A8A050" />
<rect x="485.50" y="198.97" width="4.90" height="4.97" fill="#C0FFD0" />
<rect x="485.50" y="203.90" width="4.90" height="4.15" fill="#909090" />
<rect x="485.50" y="208.00" width="4.90" height="8.91" fill="#F5D0A0" />
<rect x="485.50" y="216.86" width="4.90" height="10.88" fill="#70F060" />
<rect x="485.50" y="227.69" width="4.90" height="13.18" fill="#5E3578" />
<rect x="485.50" y="240.81" width="4.90" height="10.71" fill="#A0583A" />
<rect x="485.50" y="251.48" width="4.90" height="11.53" fill="#5590E8" />
<rect x="485.50" y="262.96" width="4.90" height="29.09" fill="#EEAAFF" />
<rect x="494.92" y="174.20" width="4.90" height="1.69" fill="#909090" />
<rect x="494.92" y="175.84" width="4.90" height="1.03" fill="#608040" />
<rect x="494.92" y="176.83" width="4.90" height="9.89" fill="#F0A0C0" />
<rect x="494.92" y="186.67" width="4.90" height="2.02" fill="#F0A030" />
<rect x="494.92" y="188.64" width="4.90" height="4.15" fill="#5068A0" />
<rect x="494.92" y="192.74" width="4.90" height="6.12" fill="#D040A8" />
<rect x="494.92" y="198.81" width="4.90" height="6.28" fill="#B0E040" />
<rect x="494.92" y="205.04" width="4.90" height="2.84" fill="#A8A050" />
<rect x="494.92" y="207.83" width="4.90" height="3.00" fill="#C0FFD0" />
<rect x="494.92" y="210.79" width="4.90" height="8.75" fill="#909090" />
<rect x="494.92" y="219.48" width="4.90" height="5.30" fill="#F5D0A0" />
<rect x="494.92" y="224.73" width="4.90" height="9.07" fill="#70F060" />
<rect x="494.92" y="233.76" width="4.90" height="11.04" fill="#5E3578" />
<rect x="494.92" y="244.75" width="4.90" height="9.57" fill="#A0583A" />
<rect x="494.92" y="254.26" width="4.90" height="8.58" fill="#5590E8" />
<rect x="494.92" y="262.80" width="4.90" height="29.25" fill="#EEAAFF" />
<rect x="504.34" y="174.20" width="4.90" height="0.87" fill="#909090" />
<rect x="504.34" y="175.02" width="4.90" height="2.68" fill="#F0A0C0" />
<rect x="504.34" y="177.65" width="4.90" height="2.35" fill="#F0A030" />
<rect x="504.34" y="179.94" width="4.90" height="6.78" fill="#5068A0" />
<rect x="504.34" y="186.67" width="4.90" height="6.12" fill="#D040A8" />
<rect x="504.34" y="192.74" width="4.90" height="9.40" fill="#B0E040" />
<rect x="504.34" y="202.09" width="4.90" height="4.64" fill="#A8A050" />
<rect x="504.34" y="206.69" width="4.90" height="4.15" fill="#C0FFD0" />
<rect x="504.34" y="210.79" width="4.90" height="6.12" fill="#909090" />
<rect x="504.34" y="216.86" width="4.90" height="8.75" fill="#F5D0A0" />
<rect x="504.34" y="225.55" width="4.90" height="14.49" fill="#70F060" />
<rect x="504.34" y="239.99" width="4.90" height="3.99" fill="#5E3578" />
<rect x="504.34" y="243.93" width="4.90" height="8.75" fill="#A0583A" />
<rect x="504.34" y="252.62" width="4.90" height="10.22" fill="#5590E8" />
<rect x="504.34" y="262.80" width="4.90" height="29.25" fill="#EEAAFF" />
<rect x="513.76" y="174.20" width="4.90" height="1.69" fill="#909090" />
<rect x="513.76" y="175.84" width="4.90" height="8.25" fill="#F0A0C0" />
<rect x="513.76" y="184.04" width="4.90" height="1.85" fill="#F0A030" />
<rect x="513.76" y="185.85" width="4.90" height="6.61" fill="#5068A0" />
<rect x="513.76" y="192.41" width="4.90" height="4.48" fill="#D040A8" />
<rect x="513.76" y="196.84" width="4.90" height="4.15" fill="#B0E040" />
<rect x="513.76" y="200.94" width="4.90" height="3.82" fill="#A8A050" />
<rect x="513.76" y="204.72" width="4.90" height="3.17" fill="#C0FFD0" />
<rect x="513.76" y="207.83" width="4.90" height="7.10" fill="#909090" />
<rect x="513.76" y="214.89" width="4.90" height="3.66" fill="#F5D0A0" />
<rect x="513.76" y="218.50" width="4.90" height="14.49" fill="#70F060" />
<rect x="513.76" y="232.94" width="4.90" height="10.39" fill="#5E3578" />
<rect x="513.76" y="243.27" width="4.90" height="6.94" fill="#A0583A" />
<rect x="513.76" y="250.16" width="4.90" height="14.49" fill="#5590E8" />
<rect x="513.76" y="264.60" width="4.90" height="27.45" fill="#EEAAFF" />
<rect x="523.18" y="174.20" width="4.90" height="1.69" fill="#909090" />
<rect x="523.18" y="175.84" width="4.90" height="12.03" fill="#F0A0C0" />
<rect x="523.18" y="187.82" width="4.90" height="1.69" fill="#F0A030" />
<rect x="523.18" y="189.46" width="4.90" height="4.48" fill="#5068A0" />
<rect x="523.18" y="193.89" width="4.90" height="8.42" fill="#D040A8" />
<rect x="523.18" y="202.26" width="4.90" height="7.43" fill="#B0E040" />
<rect x="523.18" y="209.64" width="4.90" height="4.15" fill="#A8A050" />
<rect x="523.18" y="213.74" width="4.90" height="3.17" fill="#C0FFD0" />
<rect x="523.18" y="216.86" width="4.90" height="5.14" fill="#909090" />
<rect x="523.18" y="221.94" width="4.90" height="5.30" fill="#F5D0A0" />
<rect x="523.18" y="227.19" width="4.90" height="5.79" fill="#70F060" />
<rect x="523.18" y="232.94" width="4.90" height="7.76" fill="#5E3578" />
<rect x="523.18" y="240.65" width="4.90" height="8.25" fill="#A0583A" />
<rect x="523.18" y="248.85" width="4.90" height="9.24" fill="#5590E8" />
<rect x="523.18" y="258.04" width="4.90" height="34.01" fill="#EEAAFF" />
<rect x="532.60" y="174.20" width="4.90" height="1.69" fill="#909090" />
<rect x="532.60" y="175.84" width="4.90" height="3.00" fill="#F0A0C0" />
<rect x="532.60" y="178.79" width="4.90" height="2.84" fill="#F0A030" />
<rect x="532.60" y="181.58" width="4.90" height="3.33" fill="#5068A0" />
<rect x="532.60" y="184.86" width="4.90" height="2.68" fill="#D040A8" />
<rect x="532.60" y="187.49" width="4.90" height="3.33" fill="#B0E040" />
<rect x="532.60" y="190.77" width="4.90" height="6.94" fill="#A8A050" />
<rect x="532.60" y="197.66" width="4.90" height="4.32" fill="#C0FFD0" />
<rect x="532.60" y="201.93" width="4.90" height="2.84" fill="#909090" />
<rect x="532.60" y="204.72" width="4.90" height="7.43" fill="#F5D0A0" />
<rect x="532.60" y="212.10" width="4.90" height="9.40" fill="#70F060" />
<rect x="532.60" y="221.45" width="4.90" height="12.36" fill="#5E3578" />
<rect x="532.60" y="233.76" width="4.90" height="11.86" fill="#A0583A" />
<rect x="532.60" y="245.57" width="4.90" height="16.13" fill="#5590E8" />
<rect x="532.60" y="261.65" width="4.90" height="30.40" fill="#EEAAFF" />
<rect x="542.02" y="174.20" width="4.90" height="2.18" fill="#909090" />
<rect x="542.02" y="176.33" width="4.90" height="0.87" fill="#F0A030" />
<rect x="542.02" y="177.15" width="4.90" height="0.54" fill="#909090" />
<rect x="542.02" y="177.65" width="4.90" height="2.84" fill="#608040" />
<rect x="542.02" y="180.43" width="4.90" height="4.48" fill="#F0A030" />
<rect x="542.02" y="184.86" width="4.90" height="3.82" fill="#D040A8" />
<rect x="542.02" y="188.64" width="4.90" height="3.33" fill="#B0E040" />
<rect x="542.02" y="191.92" width="4.90" height="6.12" fill="#A8A050" />
<rect x="542.02" y="197.99" width="4.90" height="7.10" fill="#C0FFD0" />
<rect x="542.02" y="205.04" width="4.90" height="4.15" fill="#909090" />
<rect x="542.02" y="209.15" width="4.90" height="15.14" fill="#F5D0A0" />
<rect x="542.02" y="224.24" width="4.90" height="2.51" fill="#70F060" />
<rect x="542.02" y="226.70" width="4.90" height="9.57" fill="#5E3578" />
<rect x="542.02" y="236.22" width="4.90" height="11.86" fill="#A0583A" />
<rect x="542.02" y="248.03" width="4.90" height="14.00" fill="#5590E8" />
<rect x="542.02" y="261.98" width="4.90" height="30.07" fill="#EEAAFF" />
<rect x="551.44" y="174.20" width="4.90" height="1.69" fill="#909090" />
<rect x="551.44" y="175.84" width="4.90" height="1.36" fill="#50A8E0" />
<rect x="551.44" y="177.15" width="4.90" height="2.84" fill="#608040" />
<rect x="551.44" y="179.94" width="4.90" height="3.00" fill="#F0A030" />
<rect x="551.44" y="182.90" width="4.90" height="2.51" fill="#5068A0" />
<rect x="551.44" y="185.36" width="4.90" height="3.82" fill="#D040A8" />
<rect x="551.44" y="189.13" width="4.90" height="2.84" fill="#B0E040" />
<rect x="551.44" y="191.92" width="4.90" height="4.97" fill="#A8A050" />
<rect x="551.44" y="196.84" width="4.90" height="5.14" fill="#C0FFD0" />
<rect x="551.44" y="201.93" width="4.90" height="1.85" fill="#909090" />
<rect x="551.44" y="203.73" width="4.90" height="15.80" fill="#F5D0A0" />
<rect x="551.44" y="219.48" width="4.90" height="10.22" fill="#70F060" />
<rect x="551.44" y="229.65" width="4.90" height="9.07" fill="#5E3578" />
<rect x="551.44" y="238.68" width="4.90" height="12.36" fill="#A0583A" />
<rect x="551.44" y="250.98" width="4.90" height="10.71" fill="#5590E8" />
<rect x="551.44" y="261.65" width="4.90" height="30.40" fill="#EEAAFF" />
<rect x="560.86" y="174.20" width="4.90" height="1.69" fill="#909090" />
<rect x="560.86" y="175.84" width="4.90" height="2.18" fill="#608040" />
<rect x="560.86" y="177.97" width="4.90" height="4.97" fill="#F0A030" />
<rect x="560.86" y="182.90" width="4.90" height="2.02" fill="#5068A0" />
<rect x="560.86" y="184.86" width="4.90" height="2.18" fill="#D040A8" />
<rect x="560.86" y="187.00" width="4.90" height="4.15" fill="#B0E040" />
<rect x="560.86" y="191.10" width="4.90" height="5.30" fill="#A8A050" />
<rect x="560.86" y="196.35" width="4.90" height="5.79" fill="#C0FFD0" />
<rect x="560.86" y="202.09" width="4.90" height="2.68" fill="#909090" />
<rect x="560.86" y="204.72" width="4.90" height="13.01" fill="#F5D0A0" />
<rect x="560.86" y="217.68" width="4.90" height="5.14" fill="#70F060" />
<rect x="560.86" y="222.76" width="4.90" height="5.30" fill="#5E3578" />
<rect x="560.86" y="228.01" width="4.90" height="13.50" fill="#A0583A" />
<rect x="560.86" y="241.47" width="4.90" height="21.87" fill="#5590E8" />
<rect x="560.86" y="263.29" width="4.90" height="28.76" fill="#EEAAFF" />
<rect x="570.28" y="174.20" width="4.90" height="1.03" fill="#909090" />
<rect x="570.28" y="175.18" width="4.90" height="3.66" fill="#608040" />
<rect x="570.28" y="178.79" width="4.90" height="4.15" fill="#F0A030" />
<rect x="570.28" y="182.90" width="4.90" height="2.18" fill="#5068A0" />
<rect x="570.28" y="185.03" width="4.90" height="4.48" fill="#D040A8" />
<rect x="570.28" y="189.46" width="4.90" height="3.33" fill="#B0E040" />
<rect x="570.28" y="192.74" width="4.90" height="4.97" fill="#A8A050" />
<rect x="570.28" y="197.66" width="4.90" height="4.32" fill="#C0FFD0" />
<rect x="570.28" y="201.93" width="4.90" height="1.03" fill="#909090" />
<rect x="570.28" y="202.91" width="4.90" height="17.77" fill="#F5D0A0" />
<rect x="570.28" y="220.63" width="4.90" height="6.61" fill="#70F060" />
<rect x="570.28" y="227.19" width="4.90" height="12.36" fill="#5E3578" />
<rect x="570.28" y="239.50" width="4.90" height="9.40" fill="#A0583A" />
<rect x="570.28" y="248.85" width="4.90" height="12.03" fill="#5590E8" />
<rect x="570.28" y="260.83" width="4.90" height="31.22" fill="#EEAAFF" />
<text x="524.70" y="171.00" font-family="Liberation Serif, serif" font-size="6" text-anchor="middle" fill="#fff" font-weight="normal" font-style="normal" >PC group</text>
<rect x="580.30" y="165.90" width="99.70" height="6.60" fill="#4AAE20" />
<rect x="580.55" y="172.50" width="99.20" height="120.70" fill="#fff" stroke="#444" stroke-width="0.45"/>
<rect x="586.00" y="174.20" width="4.90" height="1.69" fill="#909090" />
<rect x="586.00" y="175.84" width="4.90" height="1.36" fill="#C0FFD0" />
<rect x="586.00" y="177.15" width="4.90" height="0.54" fill="#909090" />
<rect x="586.00" y="177.65" width="4.90" height="3.33" fill="#F0A030" />
<rect x="586.00" y="180.93" width="4.90" height="4.81" fill="#5068A0" />
<rect x="586.00" y="185.68" width="4.90" height="4.15" fill="#D040A8" />
<rect x="586.00" y="189.79" width="4.90" height="3.33" fill="#B0E040" />
<rect x="586.00" y="193.07" width="4.90" height="3.00" fill="#A8A050" />
<rect x="586.00" y="196.02" width="4.90" height="3.82" fill="#C0FFD0" />
<rect x="586.00" y="199.79" width="4.90" height="12.68" fill="#909090" />
<rect x="586.00" y="212.43" width="4.90" height="10.71" fill="#70F060" />
<rect x="586.00" y="223.09" width="4.90" height="14.49" fill="#5E3578" />
<rect x="586.00" y="237.53" width="4.90" height="12.36" fill="#A0583A" />
<rect x="586.00" y="249.83" width="4.90" height="20.39" fill="#5590E8" />
<rect x="586.00" y="270.18" width="4.90" height="21.87" fill="#EEAAFF" />
<rect x="595.42" y="174.20" width="4.90" height="1.36" fill="#909090" />
<rect x="595.42" y="175.51" width="4.90" height="0.87" fill="#909090" />
<rect x="595.42" y="176.33" width="4.90" height="2.18" fill="#5E3578" />
<rect x="595.42" y="178.47" width="4.90" height="1.20" fill="#F5D0A0" />
<rect x="595.42" y="179.61" width="4.90" height="1.36" fill="#50A8E0" />
<rect x="595.42" y="180.93" width="4.90" height="3.99" fill="#F0A030" />
<rect x="595.42" y="184.86" width="4.90" height="3.00" fill="#5068A0" />
<rect x="595.42" y="187.82" width="4.90" height="3.00" fill="#D040A8" />
<rect x="595.42" y="190.77" width="4.90" height="6.12" fill="#B0E040" />
<rect x="595.42" y="196.84" width="4.90" height="3.00" fill="#A8A050" />
<rect x="595.42" y="199.79" width="4.90" height="3.33" fill="#C0FFD0" />
<rect x="595.42" y="203.08" width="4.90" height="13.83" fill="#909090" />
<rect x="595.42" y="216.86" width="4.90" height="12.03" fill="#70F060" />
<rect x="595.42" y="228.83" width="4.90" height="6.94" fill="#5E3578" />
<rect x="595.42" y="235.73" width="4.90" height="16.13" fill="#A0583A" />
<rect x="595.42" y="251.80" width="4.90" height="23.02" fill="#5590E8" />
<rect x="595.42" y="274.77" width="4.90" height="17.28" fill="#EEAAFF" />
<rect x="604.84" y="174.20" width="4.90" height="1.69" fill="#909090" />
<rect x="604.84" y="175.84" width="4.90" height="0.54" fill="#909090" />
<rect x="604.84" y="176.33" width="4.90" height="2.51" fill="#F0A030" />
<rect x="604.84" y="178.79" width="4.90" height="4.15" fill="#5068A0" />
<rect x="604.84" y="182.90" width="4.90" height="5.79" fill="#D040A8" />
<rect x="604.84" y="188.64" width="4.90" height="2.51" fill="#B0E040" />
<rect x="604.84" y="191.10" width="4.90" height="2.51" fill="#A8A050" />
<rect x="604.84" y="193.56" width="4.90" height="4.48" fill="#C0FFD0" />
<rect x="604.84" y="197.99" width="4.90" height="6.78" fill="#909090" />
<rect x="604.84" y="204.72" width="4.90" height="5.30" fill="#70F060" />
<rect x="604.84" y="209.97" width="4.90" height="25.15" fill="#5E3578" />
<rect x="604.84" y="235.07" width="4.90" height="14.65" fill="#A0583A" />
<rect x="604.84" y="249.67" width="4.90" height="23.02" fill="#5590E8" />
<rect x="604.84" y="272.64" width="4.90" height="19.41" fill="#EEAAFF" />
<rect x="614.26" y="174.20" width="4.90" height="1.69" fill="#909090" />
<rect x="614.26" y="175.84" width="4.90" height="1.85" fill="#C0FFD0" />
<rect x="614.26" y="177.65" width="4.90" height="1.69" fill="#5E3578" />
<rect x="614.26" y="179.29" width="4.90" height="2.84" fill="#608040" />
<rect x="614.26" y="182.08" width="4.90" height="0.87" fill="#909090" />
<rect x="614.26" y="182.90" width="4.90" height="3.66" fill="#F0A030" />
<rect x="614.26" y="186.51" width="4.90" height="5.46" fill="#5068A0" />
<rect x="614.26" y="191.92" width="4.90" height="7.10" fill="#D040A8" />
<rect x="614.26" y="198.97" width="4.90" height="6.12" fill="#B0E040" />
<rect x="614.26" y="205.04" width="4.90" height="2.84" fill="#A8A050" />
<rect x="614.26" y="207.83" width="4.90" height="4.97" fill="#C0FFD0" />
<rect x="614.26" y="212.76" width="4.90" height="7.10" fill="#909090" />
<rect x="614.26" y="219.81" width="4.90" height="9.07" fill="#70F060" />
<rect x="614.26" y="228.83" width="4.90" height="4.64" fill="#5E3578" />
<rect x="614.26" y="233.43" width="4.90" height="12.19" fill="#A0583A" />
<rect x="614.26" y="245.57" width="4.90" height="23.18" fill="#5590E8" />
<rect x="614.26" y="268.70" width="4.90" height="23.35" fill="#EEAAFF" />
<rect x="623.68" y="174.20" width="4.90" height="3.82" fill="#A0A0E0" />
<rect x="623.68" y="177.97" width="4.90" height="0.87" fill="#909090" />
<rect x="623.68" y="178.79" width="4.90" height="1.69" fill="#608040" />
<rect x="623.68" y="180.43" width="4.90" height="3.66" fill="#F0A0C0" />
<rect x="623.68" y="184.04" width="4.90" height="3.33" fill="#F0A030" />
<rect x="623.68" y="187.33" width="4.90" height="3.82" fill="#5068A0" />
<rect x="623.68" y="191.10" width="4.90" height="5.30" fill="#D040A8" />
<rect x="623.68" y="196.35" width="4.90" height="3.50" fill="#B0E040" />
<rect x="623.68" y="199.79" width="4.90" height="2.84" fill="#A8A050" />
<rect x="623.68" y="202.58" width="4.90" height="5.30" fill="#C0FFD0" />
<rect x="623.68" y="207.83" width="4.90" height="9.07" fill="#909090" />
<rect x="623.68" y="216.86" width="4.90" height="5.96" fill="#70F060" />
<rect x="623.68" y="222.76" width="4.90" height="19.25" fill="#5E3578" />
<rect x="623.68" y="241.96" width="4.90" height="13.18" fill="#A0583A" />
<rect x="623.68" y="255.08" width="4.90" height="16.46" fill="#5590E8" />
<rect x="623.68" y="271.49" width="4.90" height="20.56" fill="#EEAAFF" />
<rect x="633.10" y="174.20" width="4.90" height="5.79" fill="#A0A0E0" />
<rect x="633.10" y="179.94" width="4.90" height="0.54" fill="#909090" />
<rect x="633.10" y="180.43" width="4.90" height="1.36" fill="#608040" />
<rect x="633.10" y="181.75" width="4.90" height="8.25" fill="#F0A0C0" />
<rect x="633.10" y="189.95" width="4.90" height="3.17" fill="#F0A030" />
<rect x="633.10" y="193.07" width="4.90" height="4.64" fill="#5068A0" />
<rect x="633.10" y="197.66" width="4.90" height="6.12" fill="#D040A8" />
<rect x="633.10" y="203.73" width="4.90" height="3.82" fill="#B0E040" />
<rect x="633.10" y="207.51" width="4.90" height="1.20" fill="#A8A050" />
<rect x="633.10" y="208.65" width="4.90" height="1.36" fill="#C0FFD0" />
<rect x="633.10" y="209.97" width="4.90" height="9.57" fill="#909090" />
<rect x="633.10" y="219.48" width="4.90" height="13.50" fill="#70F060" />
<rect x="633.10" y="232.94" width="4.90" height="18.43" fill="#5E3578" />
<rect x="633.10" y="251.31" width="4.90" height="6.61" fill="#A0583A" />
<rect x="633.10" y="257.87" width="4.90" height="23.02" fill="#5590E8" />
<rect x="633.10" y="280.84" width="4.90" height="11.21" fill="#EEAAFF" />
<rect x="642.52" y="174.20" width="4.90" height="1.36" fill="#909090" />
<rect x="642.52" y="175.51" width="4.90" height="1.36" fill="#C0FFD0" />
<rect x="642.52" y="176.83" width="4.90" height="1.20" fill="#5E3578" />
<rect x="642.52" y="177.97" width="4.90" height="1.69" fill="#A0583A" />
<rect x="642.52" y="179.61" width="4.90" height="8.25" fill="#608040" />
<rect x="642.52" y="187.82" width="4.90" height="2.02" fill="#F0A0C0" />
<rect x="642.52" y="189.79" width="4.90" height="2.68" fill="#F0A030" />
<rect x="642.52" y="192.41" width="4.90" height="2.84" fill="#5068A0" />
<rect x="642.52" y="195.20" width="4.90" height="2.51" fill="#D040A8" />
<rect x="642.52" y="197.66" width="4.90" height="4.15" fill="#B0E040" />
<rect x="642.52" y="201.76" width="4.90" height="4.15" fill="#A8A050" />
<rect x="642.52" y="205.86" width="4.90" height="7.43" fill="#C0FFD0" />
<rect x="642.52" y="213.25" width="4.90" height="6.94" fill="#909090" />
<rect x="642.52" y="220.14" width="4.90" height="7.10" fill="#70F060" />
<rect x="642.52" y="227.19" width="4.90" height="3.66" fill="#5E3578" />
<rect x="642.52" y="230.80" width="4.90" height="13.67" fill="#A0583A" />
<rect x="642.52" y="244.42" width="4.90" height="19.74" fill="#5590E8" />
<rect x="642.52" y="264.11" width="4.90" height="27.94" fill="#EEAAFF" />
<rect x="651.94" y="174.20" width="4.90" height="1.69" fill="#909090" />
<rect x="651.94" y="175.84" width="4.90" height="0.54" fill="#909090" />
<rect x="651.94" y="176.33" width="4.90" height="1.20" fill="#5E3578" />
<rect x="651.94" y="177.48" width="4.90" height="3.50" fill="#608040" />
<rect x="651.94" y="180.93" width="4.90" height="2.02" fill="#F0A0C0" />
<rect x="651.94" y="182.90" width="4.90" height="2.84" fill="#F0A030" />
<rect x="651.94" y="185.68" width="4.90" height="4.15" fill="#5068A0" />
<rect x="651.94" y="189.79" width="4.90" height="4.32" fill="#D040A8" />
<rect x="651.94" y="194.05" width="4.90" height="4.81" fill="#B0E040" />
<rect x="651.94" y="198.81" width="4.90" height="4.64" fill="#A8A050" />
<rect x="651.94" y="203.40" width="4.90" height="6.78" fill="#C0FFD0" />
<rect x="651.94" y="210.13" width="4.90" height="12.52" fill="#909090" />
<rect x="651.94" y="222.60" width="4.90" height="3.33" fill="#70F060" />
<rect x="651.94" y="225.88" width="4.90" height="3.00" fill="#5E3578" />
<rect x="651.94" y="228.83" width="4.90" height="9.07" fill="#A0583A" />
<rect x="651.94" y="237.86" width="4.90" height="21.87" fill="#5590E8" />
<rect x="651.94" y="259.68" width="4.90" height="32.37" fill="#EEAAFF" />
<rect x="661.36" y="174.20" width="4.90" height="1.69" fill="#909090" />
<rect x="661.36" y="175.84" width="4.90" height="0.54" fill="#909090" />
<rect x="661.36" y="176.33" width="4.90" height="1.69" fill="#5E3578" />
<rect x="661.36" y="177.97" width="4.90" height="1.69" fill="#A0583A" />
<rect x="661.36" y="179.61" width="4.90" height="1.36" fill="#50A8E0" />
<rect x="661.36" y="180.93" width="4.90" height="4.97" fill="#608040" />
<rect x="661.36" y="185.85" width="4.90" height="4.97" fill="#F0A030" />
<rect x="661.36" y="190.77" width="4.90" height="3.17" fill="#5068A0" />
<rect x="661.36" y="193.89" width="4.90" height="1.85" fill="#D040A8" />
<rect x="661.36" y="195.69" width="4.90" height="4.48" fill="#B0E040" />
<rect x="661.36" y="200.12" width="4.90" height="4.64" fill="#A8A050" />
<rect x="661.36" y="204.72" width="4.90" height="11.04" fill="#C0FFD0" />
<rect x="661.36" y="215.71" width="4.90" height="6.12" fill="#909090" />
<rect x="661.36" y="221.78" width="4.90" height="3.33" fill="#70F060" />
<rect x="661.36" y="225.06" width="4.90" height="9.24" fill="#5E3578" />
<rect x="661.36" y="234.25" width="4.90" height="14.65" fill="#A0583A" />
<rect x="661.36" y="248.85" width="4.90" height="13.67" fill="#5590E8" />
<rect x="661.36" y="262.47" width="4.90" height="29.58" fill="#EEAAFF" />
<rect x="670.78" y="174.20" width="4.90" height="1.36" fill="#909090" />
<rect x="670.78" y="175.51" width="4.90" height="1.69" fill="#C0FFD0" />
<rect x="670.78" y="177.15" width="4.90" height="1.20" fill="#5E3578" />
<rect x="670.78" y="178.30" width="4.90" height="1.36" fill="#A0583A" />
<rect x="670.78" y="179.61" width="4.90" height="6.94" fill="#608040" />
<rect x="670.78" y="186.51" width="4.90" height="4.32" fill="#F0A030" />
<rect x="670.78" y="190.77" width="4.90" height="4.97" fill="#5068A0" />
<rect x="670.78" y="195.69" width="4.90" height="3.17" fill="#D040A8" />
<rect x="670.78" y="198.81" width="4.90" height="6.28" fill="#B0E040" />
<rect x="670.78" y="205.04" width="4.90" height="5.79" fill="#A8A050" />
<rect x="670.78" y="210.79" width="4.90" height="8.25" fill="#C0FFD0" />
<rect x="670.78" y="218.99" width="4.90" height="7.10" fill="#909090" />
<rect x="670.78" y="226.05" width="4.90" height="3.17" fill="#70F060" />
<rect x="670.78" y="229.16" width="4.90" height="4.15" fill="#5E3578" />
<rect x="670.78" y="233.26" width="4.90" height="12.03" fill="#A0583A" />
<rect x="670.78" y="245.24" width="4.90" height="16.78" fill="#5590E8" />
<rect x="670.78" y="261.98" width="4.90" height="30.07" fill="#EEAAFF" />
<text x="628.30" y="171.00" text-anchor="middle" fill="#fff" font-family="Liberation Serif, serif"><tspan font-size="5.1" font-style="italic">B. pseudocatenulatum</tspan><tspan font-size="6" dx="2.5">group</tspan></text>
<text x="396.50" y="176.00" font-family="Liberation Sans, sans-serif" font-size="5.0" text-anchor="end" fill="#444" font-weight="normal" font-style="normal" >1.00</text>
<line x1="401.80" y1="174.20" x2="403.00" y2="174.20" stroke="#333" stroke-width="0.4" />
<text x="396.50" y="205.45" font-family="Liberation Sans, sans-serif" font-size="5.0" text-anchor="end" fill="#444" font-weight="normal" font-style="normal" >0.75</text>
<line x1="401.80" y1="203.65" x2="403.00" y2="203.65" stroke="#333" stroke-width="0.4" />
<text x="396.50" y="234.90" font-family="Liberation Sans, sans-serif" font-size="5.0" text-anchor="end" fill="#444" font-weight="normal" font-style="normal" >0.50</text>
<line x1="401.80" y1="233.10" x2="403.00" y2="233.10" stroke="#333" stroke-width="0.4" />
<text x="396.50" y="264.35" font-family="Liberation Sans, sans-serif" font-size="5.0" text-anchor="end" fill="#444" font-weight="normal" font-style="normal" >0.25</text>
<line x1="401.80" y1="262.55" x2="403.00" y2="262.55" stroke="#333" stroke-width="0.4" />
<text x="396.50" y="293.80" font-family="Liberation Sans, sans-serif" font-size="5.0" text-anchor="end" fill="#444" font-weight="normal" font-style="normal" >0.00</text>
<line x1="401.80" y1="292.00" x2="403.00" y2="292.00" stroke="#333" stroke-width="0.4" />
<text transform="translate(379.70,223.00) rotate(-90)" text-anchor="middle" font-family="Liberation Sans, sans-serif" font-size="8.2" fill="#111">Family -Relative abundance(%)</text>
<text x="407.80" y="301.50" font-family="Liberation Sans, sans-serif" font-size="4.3" text-anchor="start" fill="#222" font-weight="normal" font-style="normal" >Taxonomy</text>
<rect x="407.80" y="304.60" width="8.70" height="6.00" fill="#70A850" />
<text x="419.10" y="309.00" font-family="Liberation Sans, sans-serif" font-size="4.1" text-anchor="start" fill="#222" font-weight="normal" font-style="normal" >Defluviitaleaceae</text>
<rect x="407.80" y="311.06" width="8.70" height="6.00" fill="#F5B0C8" />
<text x="419.10" y="315.46" font-family="Liberation Sans, sans-serif" font-size="4.1" text-anchor="start" fill="#222" font-weight="normal" font-style="normal" >Deferribacteraceae</text>
<rect x="407.80" y="317.52" width="8.70" height="6.00" fill="#F0C050" />
<text x="419.10" y="321.92" font-family="Liberation Sans, sans-serif" font-size="4.1" text-anchor="start" fill="#222" font-weight="normal" font-style="normal" >UCG-010</text>
<rect x="407.80" y="323.98" width="8.70" height="6.00" fill="#6070B8" />
<text x="419.10" y="328.38" font-family="Liberation Sans, sans-serif" font-size="4.1" text-anchor="start" fill="#222" font-weight="normal" font-style="normal" >Butyricicoccaceae</text>
<rect x="407.80" y="330.44" width="8.70" height="6.00" fill="#E060C0" />
<text x="419.10" y="334.84" font-family="Liberation Sans, sans-serif" font-size="4.1" text-anchor="start" fill="#222" font-weight="normal" font-style="normal" >Marini filaceae</text>
<rect x="407.80" y="336.90" width="8.70" height="6.00" fill="#B0F040" />
<text x="419.10" y="341.30" font-family="Liberation Sans, sans-serif" font-size="4.1" text-anchor="start" fill="#222" font-weight="normal" font-style="normal" >Lactobacillaceae</text>
<rect x="407.80" y="343.36" width="8.70" height="6.00" fill="#B0A850" />
<text x="419.10" y="347.76" font-family="Liberation Sans, sans-serif" font-size="4.1" text-anchor="start" fill="#222" font-weight="normal" font-style="normal" >Eggerthellaceae</text>
<rect x="407.80" y="349.82" width="8.70" height="6.00" fill="#C0FFE8" />
<text x="419.10" y="354.22" font-family="Liberation Sans, sans-serif" font-size="4.1" text-anchor="start" fill="#222" font-weight="normal" font-style="normal" >Peptococcaceae</text>
<rect x="407.80" y="356.28" width="8.70" height="6.00" fill="#A0A0E0" />
<text x="419.10" y="360.68" font-family="Liberation Sans, sans-serif" font-size="4.1" text-anchor="start" fill="#222" font-weight="normal" font-style="normal" >Peptostreptococcaceae</text>
<rect x="407.80" y="362.74" width="8.70" height="6.00" fill="#F5D5B5" />
<text x="419.10" y="367.14" font-family="Liberation Sans, sans-serif" font-size="4.1" text-anchor="start" fill="#222" font-weight="normal" font-style="normal" >Anaerovoracaceae</text>
<rect x="407.80" y="369.20" width="8.70" height="6.00" fill="#70F090" />
<text x="419.10" y="373.60" font-family="Liberation Sans, sans-serif" font-size="4.1" text-anchor="start" fill="#222" font-weight="normal" font-style="normal" >Christensenellaceae</text>
<rect x="407.80" y="375.66" width="8.70" height="6.00" fill="#803090" />
<text x="419.10" y="380.06" font-family="Liberation Sans, sans-serif" font-size="4.1" text-anchor="start" fill="#222" font-weight="normal" font-style="normal" >Bifidobacteriaceae</text>
<rect x="407.80" y="382.12" width="8.70" height="6.00" fill="#A86030" />
<text x="419.10" y="386.52" font-family="Liberation Sans, sans-serif" font-size="4.1" text-anchor="start" fill="#222" font-weight="normal" font-style="normal" >Clostridia_UCG-014</text>
<rect x="407.80" y="388.58" width="8.70" height="6.00" fill="#50B0E8" />
<text x="419.10" y="392.98" font-family="Liberation Sans, sans-serif" font-size="4.1" text-anchor="start" fill="#222" font-weight="normal" font-style="normal" >Clostridia_vadinBB60_group</text>
<rect x="407.80" y="395.04" width="8.70" height="6.00" fill="#D8A0FF" />
<text x="419.10" y="399.44" font-family="Liberation Sans, sans-serif" font-size="4.1" text-anchor="start" fill="#222" font-weight="normal" font-style="normal" >Prevotellaceae</text>
<rect x="476.10" y="304.60" width="8.70" height="6.00" fill="#608040" />
<text x="487.40" y="309.00" font-family="Liberation Sans, sans-serif" font-size="4.1" text-anchor="start" fill="#222" font-weight="normal" font-style="normal" >[Eubacterium]_coprostanoligenes_group</text>
<rect x="476.10" y="311.06" width="8.70" height="6.00" fill="#F0A0C0" />
<text x="487.40" y="315.46" font-family="Liberation Sans, sans-serif" font-size="4.1" text-anchor="start" fill="#222" font-weight="normal" font-style="normal" >Enterobacteriaceae</text>
<rect x="476.10" y="317.52" width="8.70" height="6.00" fill="#F0A030" />
<text x="487.40" y="321.92" font-family="Liberation Sans, sans-serif" font-size="4.1" text-anchor="start" fill="#222" font-weight="normal" font-style="normal" >Ruminococcaceae</text>
<rect x="476.10" y="323.98" width="8.70" height="6.00" fill="#5068A0" />
<text x="487.40" y="328.38" font-family="Liberation Sans, sans-serif" font-size="4.1" text-anchor="start" fill="#222" font-weight="normal" font-style="normal" >Sutterellaceae</text>
<rect x="476.10" y="330.44" width="8.70" height="6.00" fill="#D040A8" />
<text x="487.40" y="334.84" font-family="Liberation Sans, sans-serif" font-size="4.1" text-anchor="start" fill="#222" font-weight="normal" font-style="normal" >Atopobiaceae</text>
<rect x="476.10" y="336.90" width="8.70" height="6.00" fill="#B0E040" />
<text x="487.40" y="341.30" font-family="Liberation Sans, sans-serif" font-size="4.1" text-anchor="start" fill="#222" font-weight="normal" font-style="normal" >Erysipelotrichaceae</text>
<rect x="476.10" y="343.36" width="8.70" height="6.00" fill="#A8A050" />
<text x="487.40" y="347.76" font-family="Liberation Sans, sans-serif" font-size="4.1" text-anchor="start" fill="#222" font-weight="normal" font-style="normal" >Rikenellaceae</text>
<rect x="476.10" y="349.82" width="8.70" height="6.00" fill="#C0FFD0" />
<text x="487.40" y="354.22" font-family="Liberation Sans, sans-serif" font-size="4.1" text-anchor="start" fill="#222" font-weight="normal" font-style="normal" >Oscillospiraceae</text>
<rect x="476.10" y="356.28" width="8.70" height="6.00" fill="#909090" />
<text x="487.40" y="360.68" font-family="Liberation Sans, sans-serif" font-size="4.1" text-anchor="start" fill="#222" font-weight="normal" font-style="normal" >Monoglobaceae</text>
<rect x="476.10" y="362.74" width="8.70" height="6.00" fill="#F5D0A0" />
<text x="487.40" y="367.14" font-family="Liberation Sans, sans-serif" font-size="4.1" text-anchor="start" fill="#222" font-weight="normal" font-style="normal" >Desulfovibrionaceae</text>
<rect x="476.10" y="369.20" width="8.70" height="6.00" fill="#70F060" />
<text x="487.40" y="373.60" font-family="Liberation Sans, sans-serif" font-size="4.1" text-anchor="start" fill="#222" font-weight="normal" font-style="normal" >Tannerellaceae</text>
<rect x="476.10" y="375.66" width="8.70" height="6.00" fill="#5E3578" />
<text x="487.40" y="380.06" font-family="Liberation Sans, sans-serif" font-size="4.1" text-anchor="start" fill="#222" font-weight="normal" font-style="normal" >Helicobacteraceae</text>
<rect x="476.10" y="382.12" width="8.70" height="6.00" fill="#A0583A" />
<text x="487.40" y="386.52" font-family="Liberation Sans, sans-serif" font-size="4.1" text-anchor="start" fill="#222" font-weight="normal" font-style="normal" >Lachnospiraceae</text>
<rect x="476.10" y="388.58" width="8.70" height="6.00" fill="#5590E8" />
<text x="487.40" y="392.98" font-family="Liberation Sans, sans-serif" font-size="4.1" text-anchor="start" fill="#222" font-weight="normal" font-style="normal" >Bacteroidaceae</text>
<rect x="476.10" y="395.04" width="8.70" height="6.00" fill="#EEAAFF" />
<text x="487.40" y="399.44" font-family="Liberation Sans, sans-serif" font-size="4.1" text-anchor="start" fill="#222" font-weight="normal" font-style="normal" >Muribaculaceae</text>
<text x="361.80" y="9.00" font-family="Liberation Serif, serif" font-size="10" text-anchor="start" fill="#000" font-weight="bold" font-style="normal" stroke="#000" stroke-width="0.3">B</text>
<rect x="407.65" y="405.00" width="77.95" height="6.90" fill="#B828A8" />
<rect x="407.90" y="411.90" width="77.45" height="126.90" fill="#fff" stroke="#444" stroke-width="0.45"/>
<rect x="410.50" y="413.10" width="4.80" height="1.21" fill="#909090" />
<rect x="410.50" y="414.26" width="4.80" height="1.21" fill="#F0A030" />
<rect x="410.50" y="415.43" width="4.80" height="1.21" fill="#F5D0A0" />
<rect x="410.50" y="416.59" width="4.80" height="1.21" fill="#E4FFEC" />
<rect x="410.50" y="417.75" width="4.80" height="1.21" fill="#F5D0A0" />
<rect x="410.50" y="418.91" width="4.80" height="1.21" fill="#D8D0F0" />
<rect x="410.50" y="420.08" width="4.80" height="1.58" fill="#5E3578" />
<rect x="410.50" y="421.61" width="4.80" height="1.41" fill="#D040A8" />
<rect x="410.50" y="422.97" width="4.80" height="3.79" fill="#D8A0FF" />
<rect x="410.50" y="426.71" width="4.80" height="3.96" fill="#608040" />
<rect x="410.50" y="430.63" width="4.80" height="9.75" fill="#F0A0C0" />
<rect x="410.50" y="440.33" width="4.80" height="1.41" fill="#5068A0" />
<rect x="410.50" y="441.69" width="4.80" height="4.30" fill="#D040A8" />
<rect x="410.50" y="445.94" width="4.80" height="0.90" fill="#B0E040" />
<rect x="410.50" y="446.80" width="4.80" height="3.11" fill="#C0FFD0" />
<rect x="410.50" y="449.86" width="4.80" height="2.09" fill="#909090" />
<rect x="410.50" y="451.90" width="4.80" height="4.64" fill="#F5D0A0" />
<rect x="410.50" y="456.50" width="4.80" height="3.62" fill="#70F060" />
<rect x="410.50" y="460.07" width="4.80" height="6.86" fill="#5E3578" />
<rect x="410.50" y="466.88" width="4.80" height="32.38" fill="#A0583A" />
<rect x="410.50" y="499.21" width="4.80" height="11.79" fill="#5590E8" />
<rect x="410.50" y="510.95" width="4.80" height="26.60" fill="#EEAAFF" />
<rect x="420.09" y="413.10" width="4.80" height="1.18" fill="#909090" />
<rect x="420.09" y="414.23" width="4.80" height="1.18" fill="#F0A030" />
<rect x="420.09" y="415.35" width="4.80" height="1.18" fill="#F5D0A0" />
<rect x="420.09" y="416.48" width="4.80" height="1.18" fill="#E4FFEC" />
<rect x="420.09" y="417.61" width="4.80" height="1.18" fill="#F5D0A0" />
<rect x="420.09" y="418.74" width="4.80" height="1.18" fill="#D8D0F0" />
<rect x="420.09" y="419.86" width="4.80" height="1.18" fill="#C0FFD0" />
<rect x="420.09" y="420.99" width="4.80" height="1.18" fill="#70F060" />
<rect x="420.09" y="422.12" width="4.80" height="1.75" fill="#5E3578" />
<rect x="420.09" y="423.82" width="4.80" height="0.90" fill="#50A8E0" />
<rect x="420.09" y="424.67" width="4.80" height="1.75" fill="#50A8E0" />
<rect x="420.09" y="426.37" width="4.80" height="7.71" fill="#D8A0FF" />
<rect x="420.09" y="434.03" width="4.80" height="3.45" fill="#608040" />
<rect x="420.09" y="437.44" width="4.80" height="7.71" fill="#F0A0C0" />
<rect x="420.09" y="445.09" width="4.80" height="1.41" fill="#5068A0" />
<rect x="420.09" y="446.45" width="4.80" height="6.35" fill="#D040A8" />
<rect x="420.09" y="452.75" width="4.80" height="5.16" fill="#B0E040" />
<rect x="420.09" y="457.86" width="4.80" height="3.96" fill="#C0FFD0" />
<rect x="420.09" y="461.77" width="4.80" height="3.79" fill="#909090" />
<rect x="420.09" y="465.51" width="4.80" height="6.35" fill="#F5D0A0" />
<rect x="420.09" y="471.81" width="4.80" height="2.60" fill="#70F060" />
<rect x="420.09" y="474.36" width="4.80" height="3.62" fill="#5E3578" />
<rect x="420.09" y="477.94" width="4.80" height="13.15" fill="#A0583A" />
<rect x="420.09" y="491.04" width="4.80" height="16.56" fill="#5590E8" />
<rect x="420.09" y="507.55" width="4.80" height="30.00" fill="#EEAAFF" />
<rect x="429.68" y="413.10" width="4.80" height="1.10" fill="#909090" />
<rect x="429.68" y="414.15" width="4.80" height="1.10" fill="#F0A030" />
<rect x="429.68" y="415.19" width="4.80" height="1.10" fill="#F5D0A0" />
<rect x="429.68" y="416.24" width="4.80" height="1.10" fill="#E4FFEC" />
<rect x="429.68" y="417.28" width="4.80" height="1.10" fill="#F5D0A0" />
<rect x="429.68" y="418.33" width="4.80" height="1.10" fill="#D8D0F0" />
<rect x="429.68" y="419.37" width="4.80" height="1.10" fill="#C0FFD0" />
<rect x="429.68" y="420.42" width="4.80" height="1.75" fill="#70F060" />
<rect x="429.68" y="422.12" width="4.80" height="1.41" fill="#5E3578" />
<rect x="429.68" y="423.48" width="4.80" height="1.24" fill="#A0583A" />
<rect x="429.68" y="424.67" width="4.80" height="0.90" fill="#F0A030" />
<rect x="429.68" y="425.52" width="4.80" height="5.50" fill="#D8A0FF" />
<rect x="429.68" y="430.97" width="4.80" height="1.92" fill="#608040" />
<rect x="429.68" y="432.84" width="4.80" height="4.30" fill="#F0A0C0" />
<rect x="429.68" y="437.10" width="4.80" height="1.75" fill="#F0A030" />
<rect x="429.68" y="438.80" width="4.80" height="1.58" fill="#5068A0" />
<rect x="429.68" y="440.33" width="4.80" height="6.18" fill="#D040A8" />
<rect x="429.68" y="446.45" width="4.80" height="2.60" fill="#B0E040" />
<rect x="429.68" y="449.01" width="4.80" height="2.60" fill="#C0FFD0" />
<rect x="429.68" y="451.56" width="4.80" height="7.54" fill="#909090" />
<rect x="429.68" y="459.05" width="4.80" height="6.52" fill="#F5D0A0" />
<rect x="429.68" y="465.51" width="4.80" height="1.41" fill="#70F060" />
<rect x="429.68" y="466.88" width="4.80" height="5.16" fill="#5E3578" />
<rect x="429.68" y="471.98" width="4.80" height="15.71" fill="#A0583A" />
<rect x="429.68" y="487.64" width="4.80" height="14.17" fill="#5590E8" />
<rect x="429.68" y="501.76" width="4.80" height="35.79" fill="#EEAAFF" />
<rect x="439.27" y="413.10" width="4.80" height="1.21" fill="#909090" />
<rect x="439.27" y="414.26" width="4.80" height="1.21" fill="#F0A030" />
<rect x="439.27" y="415.43" width="4.80" height="1.21" fill="#F5D0A0" />
<rect x="439.27" y="416.59" width="4.80" height="1.21" fill="#E4FFEC" />
<rect x="439.27" y="417.75" width="4.80" height="1.21" fill="#F5D0A0" />
<rect x="439.27" y="418.91" width="4.80" height="1.21" fill="#D8D0F0" />
<rect x="439.27" y="420.08" width="4.80" height="2.60" fill="#5E3578" />
<rect x="439.27" y="422.63" width="4.80" height="1.24" fill="#A0583A" />
<rect x="439.27" y="423.82" width="4.80" height="3.45" fill="#D8A0FF" />
<rect x="439.27" y="427.22" width="4.80" height="0.90" fill="#5068A0" />
<rect x="439.27" y="428.08" width="4.80" height="1.75" fill="#608040" />
<rect x="439.27" y="429.78" width="4.80" height="6.86" fill="#F0A0C0" />
<rect x="439.27" y="436.58" width="4.80" height="2.94" fill="#F0A030" />
<rect x="439.27" y="439.48" width="4.80" height="1.75" fill="#5068A0" />
<rect x="439.27" y="441.18" width="4.80" height="3.11" fill="#D040A8" />
<rect x="439.27" y="444.24" width="4.80" height="1.75" fill="#B0E040" />
<rect x="439.27" y="445.94" width="4.80" height="2.26" fill="#C0FFD0" />
<rect x="439.27" y="448.16" width="4.80" height="5.50" fill="#909090" />
<rect x="439.27" y="453.60" width="4.80" height="6.52" fill="#F5D0A0" />
<rect x="439.27" y="460.07" width="4.80" height="2.94" fill="#70F060" />
<rect x="439.27" y="462.96" width="4.80" height="5.16" fill="#5E3578" />
<rect x="439.27" y="468.07" width="4.80" height="21.83" fill="#A0583A" />
<rect x="439.27" y="489.85" width="4.80" height="17.07" fill="#5590E8" />
<rect x="439.27" y="506.87" width="4.80" height="30.68" fill="#EEAAFF" />
<rect x="448.86" y="413.10" width="4.80" height="1.10" fill="#909090" />
<rect x="448.86" y="414.15" width="4.80" height="1.10" fill="#F0A030" />
<rect x="448.86" y="415.19" width="4.80" height="1.10" fill="#F5D0A0" />
<rect x="448.86" y="416.24" width="4.80" height="1.10" fill="#E4FFEC" />
<rect x="448.86" y="417.28" width="4.80" height="1.10" fill="#F5D0A0" />
<rect x="448.86" y="418.33" width="4.80" height="1.10" fill="#D8D0F0" />
<rect x="448.86" y="419.37" width="4.80" height="1.10" fill="#C0FFD0" />
<rect x="448.86" y="420.42" width="4.80" height="2.60" fill="#5E3578" />
<rect x="448.86" y="422.97" width="4.80" height="3.45" fill="#D8A0FF" />
<rect x="448.86" y="426.37" width="4.80" height="2.26" fill="#608040" />
<rect x="448.86" y="428.59" width="4.80" height="8.56" fill="#F0A0C0" />
<rect x="448.86" y="437.10" width="4.80" height="1.24" fill="#F0A030" />
<rect x="448.86" y="438.29" width="4.80" height="1.75" fill="#5068A0" />
<rect x="448.86" y="439.99" width="4.80" height="2.60" fill="#D040A8" />
<rect x="448.86" y="442.54" width="4.80" height="2.26" fill="#B0E040" />
<rect x="448.86" y="444.75" width="4.80" height="5.16" fill="#C0FFD0" />
<rect x="448.86" y="449.86" width="4.80" height="3.28" fill="#909090" />
<rect x="448.86" y="453.09" width="4.80" height="6.86" fill="#F5D0A0" />
<rect x="448.86" y="459.90" width="4.80" height="3.45" fill="#70F060" />
<rect x="448.86" y="463.30" width="4.80" height="9.07" fill="#5E3578" />
<rect x="448.86" y="472.32" width="4.80" height="16.22" fill="#A0583A" />
<rect x="448.86" y="488.49" width="4.80" height="16.56" fill="#5590E8" />
<rect x="448.86" y="505.00" width="4.80" height="32.55" fill="#EEAAFF" />
<rect x="458.45" y="413.10" width="4.80" height="1.21" fill="#909090" />
<rect x="458.45" y="414.26" width="4.80" height="1.21" fill="#F0A030" />
<rect x="458.45" y="415.43" width="4.80" height="1.21" fill="#F5D0A0" />
<rect x="458.45" y="416.59" width="4.80" height="1.21" fill="#E4FFEC" />
<rect x="458.45" y="417.75" width="4.80" height="1.21" fill="#F5D0A0" />
<rect x="458.45" y="418.91" width="4.80" height="1.21" fill="#D8D0F0" />
<rect x="458.45" y="420.08" width="4.80" height="1.24" fill="#70F060" />
<rect x="458.45" y="421.27" width="4.80" height="1.41" fill="#5E3578" />
<rect x="458.45" y="422.63" width="4.80" height="1.24" fill="#A0583A" />
<rect x="458.45" y="423.82" width="4.80" height="1.75" fill="#50A8E0" />
<rect x="458.45" y="425.52" width="4.80" height="7.37" fill="#D8A0FF" />
<rect x="458.45" y="432.84" width="4.80" height="2.94" fill="#608040" />
<rect x="458.45" y="435.73" width="4.80" height="6.86" fill="#F0A0C0" />
<rect x="458.45" y="442.54" width="4.80" height="1.75" fill="#5068A0" />
<rect x="458.45" y="444.24" width="4.80" height="6.01" fill="#D040A8" />
<rect x="458.45" y="450.20" width="4.80" height="3.11" fill="#B0E040" />
<rect x="458.45" y="453.26" width="4.80" height="3.45" fill="#C0FFD0" />
<rect x="458.45" y="456.67" width="4.80" height="1.58" fill="#909090" />
<rect x="458.45" y="458.20" width="4.80" height="7.37" fill="#F5D0A0" />
<rect x="458.45" y="465.51" width="4.80" height="1.75" fill="#70F060" />
<rect x="458.45" y="467.22" width="4.80" height="4.81" fill="#5E3578" />
<rect x="458.45" y="471.98" width="4.80" height="22.51" fill="#A0583A" />
<rect x="458.45" y="494.45" width="4.80" height="18.43" fill="#5590E8" />
<rect x="458.45" y="512.82" width="4.80" height="24.73" fill="#EEAAFF" />
<rect x="468.04" y="413.10" width="4.80" height="1.92" fill="#608040" />
<rect x="468.04" y="414.97" width="4.80" height="1.11" fill="#909090" />
<rect x="468.04" y="416.04" width="4.80" height="1.11" fill="#F0A030" />
<rect x="468.04" y="417.10" width="4.80" height="1.11" fill="#F5D0A0" />
<rect x="468.04" y="418.16" width="4.80" height="1.11" fill="#E4FFEC" />
<rect x="468.04" y="419.23" width="4.80" height="3.79" fill="#70F060" />
<rect x="468.04" y="422.97" width="4.80" height="2.60" fill="#5E3578" />
<rect x="468.04" y="425.52" width="4.80" height="1.75" fill="#50A8E0" />
<rect x="468.04" y="427.22" width="4.80" height="3.45" fill="#608040" />
<rect x="468.04" y="430.63" width="4.80" height="1.75" fill="#5068A0" />
<rect x="468.04" y="432.33" width="4.80" height="3.45" fill="#D040A8" />
<rect x="468.04" y="435.73" width="4.80" height="5.16" fill="#B0E040" />
<rect x="468.04" y="440.84" width="4.80" height="8.22" fill="#C0FFD0" />
<rect x="468.04" y="449.01" width="4.80" height="7.20" fill="#909090" />
<rect x="468.04" y="456.15" width="4.80" height="6.01" fill="#F5D0A0" />
<rect x="468.04" y="462.11" width="4.80" height="2.94" fill="#70F060" />
<rect x="468.04" y="465.00" width="4.80" height="6.18" fill="#5E3578" />
<rect x="468.04" y="471.13" width="4.80" height="15.37" fill="#A0583A" />
<rect x="468.04" y="486.45" width="4.80" height="17.75" fill="#5590E8" />
<rect x="468.04" y="504.15" width="4.80" height="33.40" fill="#EEAAFF" />
<rect x="477.63" y="413.10" width="4.80" height="1.21" fill="#909090" />
<rect x="477.63" y="414.26" width="4.80" height="1.21" fill="#F0A030" />
<rect x="477.63" y="415.43" width="4.80" height="1.21" fill="#F5D0A0" />
<rect x="477.63" y="416.59" width="4.80" height="1.21" fill="#E4FFEC" />
<rect x="477.63" y="417.75" width="4.80" height="1.21" fill="#F5D0A0" />
<rect x="477.63" y="418.91" width="4.80" height="1.21" fill="#D8D0F0" />
<rect x="477.63" y="420.08" width="4.80" height="1.75" fill="#70F060" />
<rect x="477.63" y="421.78" width="4.80" height="2.60" fill="#5E3578" />
<rect x="477.63" y="424.33" width="4.80" height="1.75" fill="#50A8E0" />
<rect x="477.63" y="426.03" width="4.80" height="2.60" fill="#D8A0FF" />
<rect x="477.63" y="428.59" width="4.80" height="2.43" fill="#5068A0" />
<rect x="477.63" y="430.97" width="4.80" height="2.26" fill="#D040A8" />
<rect x="477.63" y="433.18" width="4.80" height="9.92" fill="#B0E040" />
<rect x="477.63" y="443.05" width="4.80" height="4.64" fill="#C0FFD0" />
<rect x="477.63" y="447.65" width="4.80" height="3.11" fill="#909090" />
<rect x="477.63" y="450.71" width="4.80" height="6.01" fill="#F5D0A0" />
<rect x="477.63" y="456.67" width="4.80" height="4.99" fill="#70F060" />
<rect x="477.63" y="461.60" width="4.80" height="4.47" fill="#5E3578" />
<rect x="477.63" y="466.03" width="4.80" height="23.70" fill="#A0583A" />
<rect x="477.63" y="489.68" width="4.80" height="16.39" fill="#5590E8" />
<rect x="477.63" y="506.02" width="4.80" height="31.53" fill="#EEAAFF" />
<text x="441.90" y="410.40" font-family="Liberation Serif, serif" font-size="6" text-anchor="middle" fill="#fff" font-weight="normal" font-style="normal" >NC group</text>
<rect x="485.60" y="405.00" width="98.50" height="6.90" fill="#3355FF" />
<rect x="485.85" y="411.90" width="98.00" height="126.90" fill="#fff" stroke="#444" stroke-width="0.45"/>
<rect x="491.05" y="413.10" width="4.80" height="1.13" fill="#909090" />
<rect x="491.05" y="414.18" width="4.80" height="1.13" fill="#F0A030" />
<rect x="491.05" y="415.26" width="4.80" height="1.13" fill="#F5D0A0" />
<rect x="491.05" y="416.33" width="4.80" height="1.13" fill="#E4FFEC" />
<rect x="491.05" y="417.41" width="4.80" height="1.13" fill="#F5D0A0" />
<rect x="491.05" y="418.49" width="4.80" height="1.13" fill="#D8D0F0" />
<rect x="491.05" y="419.57" width="4.80" height="1.75" fill="#5E3578" />
<rect x="491.05" y="421.27" width="4.80" height="0.90" fill="#F0A030" />
<rect x="491.05" y="422.12" width="4.80" height="0.90" fill="#A0583A" />
<rect x="491.05" y="422.97" width="4.80" height="1.18" fill="#A0583A" />
<rect x="491.05" y="424.10" width="4.80" height="1.18" fill="#F0A030" />
<rect x="491.05" y="425.24" width="4.80" height="1.18" fill="#50A8E0" />
<rect x="491.05" y="426.37" width="4.80" height="1.18" fill="#D8A0FF" />
<rect x="491.05" y="427.51" width="4.80" height="1.18" fill="#5068A0" />
<rect x="491.05" y="428.64" width="4.80" height="1.18" fill="#D040A8" />
<rect x="491.05" y="429.78" width="4.80" height="1.18" fill="#B0E040" />
<rect x="491.05" y="430.91" width="4.80" height="1.18" fill="#608040" />
<rect x="491.05" y="432.05" width="4.80" height="1.18" fill="#F0A0C0" />
<rect x="491.05" y="433.18" width="4.80" height="6.01" fill="#C0FFD0" />
<rect x="491.05" y="439.14" width="4.80" height="5.16" fill="#909090" />
<rect x="491.05" y="444.24" width="4.80" height="4.81" fill="#F5D0A0" />
<rect x="491.05" y="449.01" width="4.80" height="5.50" fill="#70F060" />
<rect x="491.05" y="454.45" width="4.80" height="13.66" fill="#5E3578" />
<rect x="491.05" y="468.07" width="4.80" height="17.07" fill="#A0583A" />
<rect x="491.05" y="485.09" width="4.80" height="15.03" fill="#5590E8" />
<rect x="491.05" y="500.06" width="4.80" height="37.49" fill="#EEAAFF" />
<rect x="500.64" y="413.10" width="4.80" height="1.03" fill="#909090" />
<rect x="500.64" y="414.08" width="4.80" height="1.03" fill="#F0A030" />
<rect x="500.64" y="415.06" width="4.80" height="1.03" fill="#F5D0A0" />
<rect x="500.64" y="416.04" width="4.80" height="1.03" fill="#E4FFEC" />
<rect x="500.64" y="417.01" width="4.80" height="2.09" fill="#5E3578" />
<rect x="500.64" y="419.06" width="4.80" height="1.03" fill="#70F060" />
<rect x="500.64" y="420.03" width="4.80" height="1.03" fill="#5E3578" />
<rect x="500.64" y="421.01" width="4.80" height="1.03" fill="#A0583A" />
<rect x="500.64" y="421.99" width="4.80" height="1.03" fill="#F0A030" />
<rect x="500.64" y="422.97" width="4.80" height="2.94" fill="#5068A0" />
<rect x="500.64" y="425.86" width="4.80" height="2.26" fill="#D040A8" />
<rect x="500.64" y="428.08" width="4.80" height="2.26" fill="#B0E040" />
<rect x="500.64" y="430.29" width="4.80" height="11.79" fill="#A8A050" />
<rect x="500.64" y="442.03" width="4.80" height="5.33" fill="#C0FFD0" />
<rect x="500.64" y="447.31" width="4.80" height="6.86" fill="#909090" />
<rect x="500.64" y="454.11" width="4.80" height="3.28" fill="#F5D0A0" />
<rect x="500.64" y="457.35" width="4.80" height="10.77" fill="#70F060" />
<rect x="500.64" y="468.07" width="4.80" height="10.77" fill="#5E3578" />
<rect x="500.64" y="478.79" width="4.80" height="13.15" fill="#A0583A" />
<rect x="500.64" y="491.89" width="4.80" height="10.26" fill="#5590E8" />
<rect x="500.64" y="502.10" width="4.80" height="35.45" fill="#EEAAFF" />
<rect x="510.23" y="413.10" width="4.80" height="1.03" fill="#909090" />
<rect x="510.23" y="414.08" width="4.80" height="1.03" fill="#F0A030" />
<rect x="510.23" y="415.06" width="4.80" height="1.03" fill="#F5D0A0" />
<rect x="510.23" y="416.04" width="4.80" height="1.03" fill="#E4FFEC" />
<rect x="510.23" y="417.01" width="4.80" height="3.11" fill="#5E3578" />
<rect x="510.23" y="420.08" width="4.80" height="1.01" fill="#70F060" />
<rect x="510.23" y="421.04" width="4.80" height="1.01" fill="#5E3578" />
<rect x="510.23" y="422.01" width="4.80" height="1.01" fill="#A0583A" />
<rect x="510.23" y="422.97" width="4.80" height="4.30" fill="#5068A0" />
<rect x="510.23" y="427.22" width="4.80" height="2.60" fill="#B0E040" />
<rect x="510.23" y="429.78" width="4.80" height="3.79" fill="#A8A050" />
<rect x="510.23" y="433.52" width="4.80" height="8.56" fill="#C0FFD0" />
<rect x="510.23" y="442.03" width="4.80" height="7.88" fill="#909090" />
<rect x="510.23" y="449.86" width="4.80" height="5.16" fill="#F5D0A0" />
<rect x="510.23" y="454.96" width="4.80" height="8.39" fill="#70F060" />
<rect x="510.23" y="463.30" width="4.80" height="18.77" fill="#5E3578" />
<rect x="510.23" y="482.02" width="4.80" height="4.81" fill="#A0583A" />
<rect x="510.23" y="486.79" width="4.80" height="13.15" fill="#5590E8" />
<rect x="510.23" y="499.89" width="4.80" height="37.66" fill="#EEAAFF" />
<rect x="519.82" y="413.10" width="4.80" height="1.92" fill="#909090" />
<rect x="519.82" y="414.97" width="4.80" height="1.24" fill="#909090" />
<rect x="519.82" y="416.16" width="4.80" height="1.24" fill="#F0A030" />
<rect x="519.82" y="417.35" width="4.80" height="1.24" fill="#F5D0A0" />
<rect x="519.82" y="418.55" width="4.80" height="1.24" fill="#E4FFEC" />
<rect x="519.82" y="419.74" width="4.80" height="1.24" fill="#F5D0A0" />
<rect x="519.82" y="420.93" width="4.80" height="1.24" fill="#D8D0F0" />
<rect x="519.82" y="422.12" width="4.80" height="1.75" fill="#B0E040" />
<rect x="519.82" y="423.82" width="4.80" height="9.75" fill="#A8A050" />
<rect x="519.82" y="433.52" width="4.80" height="7.37" fill="#C0FFD0" />
<rect x="519.82" y="440.84" width="4.80" height="5.16" fill="#909090" />
<rect x="519.82" y="445.94" width="4.80" height="3.96" fill="#F5D0A0" />
<rect x="519.82" y="449.86" width="4.80" height="9.24" fill="#70F060" />
<rect x="519.82" y="459.05" width="4.80" height="17.58" fill="#5E3578" />
<rect x="519.82" y="476.58" width="4.80" height="11.96" fill="#A0583A" />
<rect x="519.82" y="488.49" width="4.80" height="16.56" fill="#5590E8" />
<rect x="519.82" y="505.00" width="4.80" height="32.55" fill="#EEAAFF" />
<rect x="529.41" y="413.10" width="4.80" height="1.92" fill="#909090" />
<rect x="529.41" y="414.97" width="4.80" height="1.14" fill="#909090" />
<rect x="529.41" y="416.06" width="4.80" height="1.14" fill="#F0A030" />
<rect x="529.41" y="417.15" width="4.80" height="1.14" fill="#F5D0A0" />
<rect x="529.41" y="418.24" width="4.80" height="1.14" fill="#E4FFEC" />
<rect x="529.41" y="419.33" width="4.80" height="1.14" fill="#F5D0A0" />
<rect x="529.41" y="420.42" width="4.80" height="3.96" fill="#5068A0" />
<rect x="529.41" y="424.33" width="4.80" height="1.24" fill="#D040A8" />
<rect x="529.41" y="425.52" width="4.80" height="1.75" fill="#B0E040" />
<rect x="529.41" y="427.22" width="4.80" height="15.03" fill="#A8A050" />
<rect x="529.41" y="442.20" width="4.80" height="5.50" fill="#C0FFD0" />
<rect x="529.41" y="447.65" width="4.80" height="10.26" fill="#909090" />
<rect x="529.41" y="457.86" width="4.80" height="3.96" fill="#F5D0A0" />
<rect x="529.41" y="461.77" width="4.80" height="7.20" fill="#70F060" />
<rect x="529.41" y="468.92" width="4.80" height="7.20" fill="#5E3578" />
<rect x="529.41" y="476.07" width="4.80" height="9.07" fill="#A0583A" />
<rect x="529.41" y="485.09" width="4.80" height="11.62" fill="#5590E8" />
<rect x="529.41" y="496.66" width="4.80" height="40.89" fill="#EEAAFF" />
<rect x="539.00" y="413.10" width="4.80" height="1.13" fill="#909090" />
<rect x="539.00" y="414.18" width="4.80" height="1.13" fill="#F0A030" />
<rect x="539.00" y="415.27" width="4.80" height="1.13" fill="#F5D0A0" />
<rect x="539.00" y="416.35" width="4.80" height="1.13" fill="#E4FFEC" />
<rect x="539.00" y="417.43" width="4.80" height="1.13" fill="#F5D0A0" />
<rect x="539.00" y="418.51" width="4.80" height="1.13" fill="#D8D0F0" />
<rect x="539.00" y="419.60" width="4.80" height="1.13" fill="#C0FFD0" />
<rect x="539.00" y="420.68" width="4.80" height="1.13" fill="#70F060" />
<rect x="539.00" y="421.76" width="4.80" height="1.13" fill="#5E3578" />
<rect x="539.00" y="422.85" width="4.80" height="1.13" fill="#A0583A" />
<rect x="539.00" y="423.93" width="4.80" height="1.13" fill="#F0A030" />
<rect x="539.00" y="425.01" width="4.80" height="2.60" fill="#B0E040" />
<rect x="539.00" y="427.57" width="4.80" height="3.45" fill="#A8A050" />
<rect x="539.00" y="430.97" width="4.80" height="4.47" fill="#C0FFD0" />
<rect x="539.00" y="435.39" width="4.80" height="3.45" fill="#909090" />
<rect x="539.00" y="438.80" width="4.80" height="7.20" fill="#F5D0A0" />
<rect x="539.00" y="445.94" width="4.80" height="4.64" fill="#70F060" />
<rect x="539.00" y="450.54" width="4.80" height="11.62" fill="#5E3578" />
<rect x="539.00" y="462.11" width="4.80" height="15.88" fill="#A0583A" />
<rect x="539.00" y="477.94" width="4.80" height="20.47" fill="#5590E8" />
<rect x="539.00" y="498.36" width="4.80" height="39.19" fill="#EEAAFF" />
<rect x="548.59" y="413.10" width="4.80" height="1.14" fill="#909090" />
<rect x="548.59" y="414.19" width="4.80" height="1.14" fill="#F0A030" />
<rect x="548.59" y="415.27" width="4.80" height="1.14" fill="#F5D0A0" />
<rect x="548.59" y="416.36" width="4.80" height="1.14" fill="#E4FFEC" />
<rect x="548.59" y="417.45" width="4.80" height="1.14" fill="#F5D0A0" />
<rect x="548.59" y="418.53" width="4.80" height="1.14" fill="#D8D0F0" />
<rect x="548.59" y="419.62" width="4.80" height="1.14" fill="#C0FFD0" />
<rect x="548.59" y="420.71" width="4.80" height="1.14" fill="#70F060" />
<rect x="548.59" y="421.79" width="4.80" height="1.14" fill="#5E3578" />
<rect x="548.59" y="422.88" width="4.80" height="1.14" fill="#A0583A" />
<rect x="548.59" y="423.97" width="4.80" height="1.14" fill="#F0A030" />
<rect x="548.59" y="425.05" width="4.80" height="1.14" fill="#50A8E0" />
<rect x="548.59" y="426.14" width="4.80" height="1.14" fill="#D8A0FF" />
<rect x="548.59" y="427.22" width="4.80" height="4.30" fill="#F0A030" />
<rect x="548.59" y="431.48" width="4.80" height="1.75" fill="#D040A8" />
<rect x="548.59" y="433.18" width="4.80" height="3.45" fill="#B0E040" />
<rect x="548.59" y="436.58" width="4.80" height="2.26" fill="#C0FFD0" />
<rect x="548.59" y="438.80" width="4.80" height="3.79" fill="#909090" />
<rect x="548.59" y="442.54" width="4.80" height="8.56" fill="#F5D0A0" />
<rect x="548.59" y="451.05" width="4.80" height="6.01" fill="#70F060" />
<rect x="548.59" y="457.01" width="4.80" height="3.11" fill="#5E3578" />
<rect x="548.59" y="460.07" width="4.80" height="14.00" fill="#A0583A" />
<rect x="548.59" y="474.02" width="4.80" height="20.81" fill="#5590E8" />
<rect x="548.59" y="494.79" width="4.80" height="42.76" fill="#EEAAFF" />
<rect x="558.18" y="413.10" width="4.80" height="1.18" fill="#909090" />
<rect x="558.18" y="414.23" width="4.80" height="1.18" fill="#F0A030" />
<rect x="558.18" y="415.36" width="4.80" height="1.18" fill="#F5D0A0" />
<rect x="558.18" y="416.49" width="4.80" height="1.18" fill="#E4FFEC" />
<rect x="558.18" y="417.62" width="4.80" height="1.18" fill="#F5D0A0" />
<rect x="558.18" y="418.75" width="4.80" height="1.18" fill="#D8D0F0" />
<rect x="558.18" y="419.88" width="4.80" height="1.18" fill="#C0FFD0" />
<rect x="558.18" y="421.01" width="4.80" height="1.18" fill="#70F060" />
<rect x="558.18" y="422.13" width="4.80" height="1.18" fill="#5E3578" />
<rect x="558.18" y="423.26" width="4.80" height="1.18" fill="#A0583A" />
<rect x="558.18" y="424.39" width="4.80" height="1.18" fill="#F0A030" />
<rect x="558.18" y="425.52" width="4.80" height="3.79" fill="#F0A030" />
<rect x="558.18" y="429.27" width="4.80" height="2.26" fill="#D040A8" />
<rect x="558.18" y="431.48" width="4.80" height="3.45" fill="#B0E040" />
<rect x="558.18" y="434.88" width="4.80" height="3.45" fill="#C0FFD0" />
<rect x="558.18" y="438.29" width="4.80" height="5.67" fill="#909090" />
<rect x="558.18" y="443.90" width="4.80" height="6.86" fill="#F5D0A0" />
<rect x="558.18" y="450.71" width="4.80" height="2.94" fill="#70F060" />
<rect x="558.18" y="453.60" width="4.80" height="14.17" fill="#5E3578" />
<rect x="558.18" y="467.73" width="4.80" height="12.81" fill="#A0583A" />
<rect x="558.18" y="480.49" width="4.80" height="14.86" fill="#5590E8" />
<rect x="558.18" y="495.30" width="4.80" height="42.25" fill="#EEAAFF" />
<rect x="567.77" y="413.10" width="4.80" height="1.18" fill="#909090" />
<rect x="567.77" y="414.23" width="4.80" height="1.18" fill="#F0A030" />
<rect x="567.77" y="415.36" width="4.80" height="1.18" fill="#F5D0A0" />
<rect x="567.77" y="416.49" width="4.80" height="1.18" fill="#E4FFEC" />
<rect x="567.77" y="417.62" width="4.80" height="1.18" fill="#F5D0A0" />
<rect x="567.77" y="418.75" width="4.80" height="1.18" fill="#D8D0F0" />
<rect x="567.77" y="419.88" width="4.80" height="1.18" fill="#C0FFD0" />
<rect x="567.77" y="421.01" width="4.80" height="1.18" fill="#70F060" />
<rect x="567.77" y="422.13" width="4.80" height="1.18" fill="#5E3578" />
<rect x="567.77" y="423.26" width="4.80" height="1.18" fill="#A0583A" />
<rect x="567.77" y="424.39" width="4.80" height="1.18" fill="#F0A030" />
<rect x="567.77" y="425.52" width="4.80" height="4.30" fill="#F0A030" />
<rect x="567.77" y="429.78" width="4.80" height="3.45" fill="#D040A8" />
<rect x="567.77" y="433.18" width="4.80" height="2.60" fill="#B0E040" />
<rect x="567.77" y="435.73" width="4.80" height="3.45" fill="#C0FFD0" />
<rect x="567.77" y="439.14" width="4.80" height="2.94" fill="#909090" />
<rect x="567.77" y="442.03" width="4.80" height="7.88" fill="#F5D0A0" />
<rect x="567.77" y="449.86" width="4.80" height="4.13" fill="#70F060" />
<rect x="567.77" y="453.94" width="4.80" height="6.52" fill="#5E3578" />
<rect x="567.77" y="460.41" width="4.80" height="7.37" fill="#A0583A" />
<rect x="567.77" y="467.73" width="4.80" height="30.51" fill="#5590E8" />
<rect x="567.77" y="498.19" width="4.80" height="39.36" fill="#EEAAFF" />
<rect x="577.36" y="413.10" width="4.80" height="1.18" fill="#909090" />
<rect x="577.36" y="414.23" width="4.80" height="1.18" fill="#F0A030" />
<rect x="577.36" y="415.35" width="4.80" height="1.18" fill="#F5D0A0" />
<rect x="577.36" y="416.48" width="4.80" height="1.18" fill="#E4FFEC" />
<rect x="577.36" y="417.61" width="4.80" height="1.18" fill="#F5D0A0" />
<rect x="577.36" y="418.74" width="4.80" height="1.18" fill="#D8D0F0" />
<rect x="577.36" y="419.86" width="4.80" height="1.18" fill="#C0FFD0" />
<rect x="577.36" y="420.99" width="4.80" height="1.18" fill="#70F060" />
<rect x="577.36" y="422.12" width="4.80" height="5.16" fill="#F0A030" />
<rect x="577.36" y="427.22" width="4.80" height="1.75" fill="#A8A050" />
<rect x="577.36" y="428.93" width="4.80" height="3.96" fill="#B0E040" />
<rect x="577.36" y="432.84" width="4.80" height="3.28" fill="#C0FFD0" />
<rect x="577.36" y="436.07" width="4.80" height="6.01" fill="#909090" />
<rect x="577.36" y="442.03" width="4.80" height="6.86" fill="#F5D0A0" />
<rect x="577.36" y="448.84" width="4.80" height="1.41" fill="#70F060" />
<rect x="577.36" y="450.20" width="4.80" height="9.41" fill="#5E3578" />
<rect x="577.36" y="459.56" width="4.80" height="17.07" fill="#A0583A" />
<rect x="577.36" y="476.58" width="4.80" height="17.07" fill="#5590E8" />
<rect x="577.36" y="493.59" width="4.80" height="43.96" fill="#EEAAFF" />
<text x="529.20" y="410.40" font-family="Liberation Serif, serif" font-size="6" text-anchor="middle" fill="#fff" font-weight="normal" font-style="normal" >PC group</text>
<rect x="584.30" y="405.00" width="99.40" height="6.90" fill="#4AAE20" />
<rect x="584.55" y="411.90" width="98.90" height="126.90" fill="#fff" stroke="#444" stroke-width="0.45"/>
<rect x="590.40" y="413.10" width="4.80" height="1.18" fill="#909090" />
<rect x="590.40" y="414.23" width="4.80" height="1.18" fill="#F0A030" />
<rect x="590.40" y="415.36" width="4.80" height="1.18" fill="#F5D0A0" />
<rect x="590.40" y="416.49" width="4.80" height="1.18" fill="#E4FFEC" />
<rect x="590.40" y="417.62" width="4.80" height="1.18" fill="#F5D0A0" />
<rect x="590.40" y="418.75" width="4.80" height="1.18" fill="#D8D0F0" />
<rect x="590.40" y="419.88" width="4.80" height="1.18" fill="#C0FFD0" />
<rect x="590.40" y="421.01" width="4.80" height="1.18" fill="#70F060" />
<rect x="590.40" y="422.13" width="4.80" height="1.18" fill="#5E3578" />
<rect x="590.40" y="423.26" width="4.80" height="1.18" fill="#A0583A" />
<rect x="590.40" y="424.39" width="4.80" height="1.18" fill="#F0A030" />
<rect x="590.40" y="425.52" width="4.80" height="4.30" fill="#B0E040" />
<rect x="590.40" y="429.78" width="4.80" height="5.16" fill="#C0FFD0" />
<rect x="590.40" y="434.88" width="4.80" height="5.16" fill="#909090" />
<rect x="590.40" y="439.99" width="4.80" height="3.11" fill="#F5D0A0" />
<rect x="590.40" y="443.05" width="4.80" height="15.37" fill="#70F060" />
<rect x="590.40" y="458.37" width="4.80" height="12.81" fill="#5E3578" />
<rect x="590.40" y="471.13" width="4.80" height="16.90" fill="#A0583A" />
<rect x="590.40" y="487.98" width="4.80" height="24.39" fill="#5590E8" />
<rect x="590.40" y="512.31" width="4.80" height="25.24" fill="#EEAAFF" />
<rect x="600.00" y="413.10" width="4.80" height="1.07" fill="#909090" />
<rect x="600.00" y="414.12" width="4.80" height="1.07" fill="#F0A030" />
<rect x="600.00" y="415.14" width="4.80" height="1.07" fill="#F5D0A0" />
<rect x="600.00" y="416.16" width="4.80" height="2.60" fill="#A8A050" />
<rect x="600.00" y="418.72" width="4.80" height="1.18" fill="#C0FFD0" />
<rect x="600.00" y="419.85" width="4.80" height="1.18" fill="#70F060" />
<rect x="600.00" y="420.98" width="4.80" height="1.18" fill="#5E3578" />
<rect x="600.00" y="422.12" width="4.80" height="1.18" fill="#A0583A" />
<rect x="600.00" y="423.25" width="4.80" height="1.18" fill="#F0A030" />
<rect x="600.00" y="424.39" width="4.80" height="1.18" fill="#50A8E0" />
<rect x="600.00" y="425.52" width="4.80" height="1.18" fill="#D8A0FF" />
<rect x="600.00" y="426.66" width="4.80" height="1.18" fill="#5068A0" />
<rect x="600.00" y="427.79" width="4.80" height="1.18" fill="#D040A8" />
<rect x="600.00" y="428.93" width="4.80" height="3.11" fill="#5068A0" />
<rect x="600.00" y="431.99" width="4.80" height="2.94" fill="#D040A8" />
<rect x="600.00" y="434.88" width="4.80" height="1.75" fill="#B0E040" />
<rect x="600.00" y="436.58" width="4.80" height="4.30" fill="#C0FFD0" />
<rect x="600.00" y="440.84" width="4.80" height="4.30" fill="#909090" />
<rect x="600.00" y="445.09" width="4.80" height="3.79" fill="#F5D0A0" />
<rect x="600.00" y="448.84" width="4.80" height="17.24" fill="#70F060" />
<rect x="600.00" y="466.03" width="4.80" height="14.00" fill="#5E3578" />
<rect x="600.00" y="479.98" width="4.80" height="9.07" fill="#A0583A" />
<rect x="600.00" y="489.00" width="4.80" height="28.13" fill="#5590E8" />
<rect x="600.00" y="517.08" width="4.80" height="20.47" fill="#EEAAFF" />
<rect x="609.60" y="413.10" width="4.80" height="1.16" fill="#909090" />
<rect x="609.60" y="414.21" width="4.80" height="1.16" fill="#F0A030" />
<rect x="609.60" y="415.31" width="4.80" height="1.16" fill="#F5D0A0" />
<rect x="609.60" y="416.42" width="4.80" height="1.16" fill="#E4FFEC" />
<rect x="609.60" y="417.52" width="4.80" height="1.16" fill="#F5D0A0" />
<rect x="609.60" y="418.63" width="4.80" height="1.16" fill="#D8D0F0" />
<rect x="609.60" y="419.74" width="4.80" height="1.16" fill="#C0FFD0" />
<rect x="609.60" y="420.84" width="4.80" height="1.16" fill="#70F060" />
<rect x="609.60" y="421.95" width="4.80" height="1.16" fill="#5E3578" />
<rect x="609.60" y="423.06" width="4.80" height="1.16" fill="#A0583A" />
<rect x="609.60" y="424.16" width="4.80" height="1.16" fill="#F0A030" />
<rect x="609.60" y="425.27" width="4.80" height="1.16" fill="#50A8E0" />
<rect x="609.60" y="426.37" width="4.80" height="3.45" fill="#B0E040" />
<rect x="609.60" y="429.78" width="4.80" height="4.30" fill="#C0FFD0" />
<rect x="609.60" y="434.03" width="4.80" height="6.86" fill="#909090" />
<rect x="609.60" y="440.84" width="4.80" height="3.11" fill="#F5D0A0" />
<rect x="609.60" y="443.90" width="4.80" height="8.39" fill="#70F060" />
<rect x="609.60" y="452.24" width="4.80" height="5.67" fill="#5E3578" />
<rect x="609.60" y="457.86" width="4.80" height="30.17" fill="#A0583A" />
<rect x="609.60" y="487.98" width="4.80" height="27.28" fill="#5590E8" />
<rect x="609.60" y="515.21" width="4.80" height="22.34" fill="#EEAAFF" />
<rect x="619.20" y="413.10" width="4.80" height="1.14" fill="#909090" />
<rect x="619.20" y="414.19" width="4.80" height="1.14" fill="#F0A030" />
<rect x="619.20" y="415.27" width="4.80" height="1.14" fill="#F5D0A0" />
<rect x="619.20" y="416.36" width="4.80" height="1.14" fill="#E4FFEC" />
<rect x="619.20" y="417.45" width="4.80" height="1.14" fill="#F5D0A0" />
<rect x="619.20" y="418.53" width="4.80" height="1.14" fill="#D8D0F0" />
<rect x="619.20" y="419.62" width="4.80" height="1.14" fill="#C0FFD0" />
<rect x="619.20" y="420.71" width="4.80" height="1.14" fill="#70F060" />
<rect x="619.20" y="421.79" width="4.80" height="1.14" fill="#5E3578" />
<rect x="619.20" y="422.88" width="4.80" height="1.14" fill="#A0583A" />
<rect x="619.20" y="423.97" width="4.80" height="1.14" fill="#F0A030" />
<rect x="619.20" y="425.05" width="4.80" height="1.14" fill="#50A8E0" />
<rect x="619.20" y="426.14" width="4.80" height="1.14" fill="#D8A0FF" />
<rect x="619.20" y="427.22" width="4.80" height="3.79" fill="#5068A0" />
<rect x="619.20" y="430.97" width="4.80" height="2.26" fill="#D040A8" />
<rect x="619.20" y="433.18" width="4.80" height="1.75" fill="#B0E040" />
<rect x="619.20" y="434.88" width="4.80" height="6.52" fill="#C0FFD0" />
<rect x="619.20" y="441.35" width="4.80" height="9.24" fill="#909090" />
<rect x="619.20" y="450.54" width="4.80" height="3.62" fill="#F5D0A0" />
<rect x="619.20" y="454.11" width="4.80" height="8.90" fill="#70F060" />
<rect x="619.20" y="462.96" width="4.80" height="11.11" fill="#5E3578" />
<rect x="619.20" y="474.02" width="4.80" height="6.01" fill="#A0583A" />
<rect x="619.20" y="479.98" width="4.80" height="29.32" fill="#5590E8" />
<rect x="619.20" y="509.25" width="4.80" height="28.30" fill="#EEAAFF" />
<rect x="628.80" y="413.10" width="4.80" height="1.16" fill="#909090" />
<rect x="628.80" y="414.21" width="4.80" height="1.16" fill="#F0A030" />
<rect x="628.80" y="415.31" width="4.80" height="1.16" fill="#F5D0A0" />
<rect x="628.80" y="416.42" width="4.80" height="1.16" fill="#E4FFEC" />
<rect x="628.80" y="417.52" width="4.80" height="1.16" fill="#F5D0A0" />
<rect x="628.80" y="418.63" width="4.80" height="1.16" fill="#D8D0F0" />
<rect x="628.80" y="419.74" width="4.80" height="1.16" fill="#C0FFD0" />
<rect x="628.80" y="420.84" width="4.80" height="1.16" fill="#70F060" />
<rect x="628.80" y="421.95" width="4.80" height="1.16" fill="#5E3578" />
<rect x="628.80" y="423.06" width="4.80" height="1.16" fill="#A0583A" />
<rect x="628.80" y="424.16" width="4.80" height="1.16" fill="#F0A030" />
<rect x="628.80" y="425.27" width="4.80" height="1.16" fill="#50A8E0" />
<rect x="628.80" y="426.37" width="4.80" height="3.45" fill="#D040A8" />
<rect x="628.80" y="429.78" width="4.80" height="2.26" fill="#B0E040" />
<rect x="628.80" y="431.99" width="4.80" height="3.79" fill="#A8A050" />
<rect x="628.80" y="435.73" width="4.80" height="5.16" fill="#C0FFD0" />
<rect x="628.80" y="440.84" width="4.80" height="6.35" fill="#909090" />
<rect x="628.80" y="447.14" width="4.80" height="2.77" fill="#F5D0A0" />
<rect x="628.80" y="449.86" width="4.80" height="11.96" fill="#70F060" />
<rect x="628.80" y="461.77" width="4.80" height="7.20" fill="#5E3578" />
<rect x="628.80" y="468.92" width="4.80" height="23.53" fill="#A0583A" />
<rect x="628.80" y="492.40" width="4.80" height="20.30" fill="#5590E8" />
<rect x="628.80" y="512.65" width="4.80" height="24.90" fill="#EEAAFF" />
<rect x="638.40" y="413.10" width="4.80" height="3.96" fill="#608040" />
<rect x="638.40" y="417.01" width="4.80" height="1.18" fill="#909090" />
<rect x="638.40" y="418.15" width="4.80" height="1.18" fill="#F0A030" />
<rect x="638.40" y="419.28" width="4.80" height="1.18" fill="#F5D0A0" />
<rect x="638.40" y="420.42" width="4.80" height="1.18" fill="#E4FFEC" />
<rect x="638.40" y="421.55" width="4.80" height="1.18" fill="#F5D0A0" />
<rect x="638.40" y="422.69" width="4.80" height="1.18" fill="#D8D0F0" />
<rect x="638.40" y="423.82" width="4.80" height="2.09" fill="#B0E040" />
<rect x="638.40" y="425.86" width="4.80" height="9.07" fill="#A8A050" />
<rect x="638.40" y="434.88" width="4.80" height="5.67" fill="#C0FFD0" />
<rect x="638.40" y="440.50" width="4.80" height="7.54" fill="#909090" />
<rect x="638.40" y="447.99" width="4.80" height="1.07" fill="#F5D0A0" />
<rect x="638.40" y="449.01" width="4.80" height="11.11" fill="#70F060" />
<rect x="638.40" y="460.07" width="4.80" height="15.71" fill="#5E3578" />
<rect x="638.40" y="475.73" width="4.80" height="21.83" fill="#A0583A" />
<rect x="638.40" y="497.51" width="4.80" height="26.77" fill="#5590E8" />
<rect x="638.40" y="524.23" width="4.80" height="13.32" fill="#EEAAFF" />
<rect x="648.00" y="413.10" width="4.80" height="5.67" fill="#A8A050" />
<rect x="648.00" y="418.72" width="4.80" height="1.18" fill="#909090" />
<rect x="648.00" y="419.85" width="4.80" height="1.18" fill="#F0A030" />
<rect x="648.00" y="420.98" width="4.80" height="1.18" fill="#F5D0A0" />
<rect x="648.00" y="422.12" width="4.80" height="1.18" fill="#E4FFEC" />
<rect x="648.00" y="423.25" width="4.80" height="1.18" fill="#F5D0A0" />
<rect x="648.00" y="424.39" width="4.80" height="1.18" fill="#D8D0F0" />
<rect x="648.00" y="425.52" width="4.80" height="5.16" fill="#5068A0" />
<rect x="648.00" y="430.63" width="4.80" height="18.77" fill="#A8A050" />
<rect x="648.00" y="449.35" width="4.80" height="8.05" fill="#C0FFD0" />
<rect x="648.00" y="457.35" width="4.80" height="4.81" fill="#909090" />
<rect x="648.00" y="462.11" width="4.80" height="2.26" fill="#F5D0A0" />
<rect x="648.00" y="464.32" width="4.80" height="17.75" fill="#70F060" />
<rect x="648.00" y="482.02" width="4.80" height="3.11" fill="#5E3578" />
<rect x="648.00" y="485.09" width="4.80" height="10.60" fill="#A0583A" />
<rect x="648.00" y="495.64" width="4.80" height="15.54" fill="#5590E8" />
<rect x="648.00" y="511.12" width="4.80" height="26.43" fill="#EEAAFF" />
<rect x="657.60" y="413.10" width="4.80" height="1.18" fill="#909090" />
<rect x="657.60" y="414.23" width="4.80" height="1.18" fill="#F0A030" />
<rect x="657.60" y="415.36" width="4.80" height="1.18" fill="#F5D0A0" />
<rect x="657.60" y="416.49" width="4.80" height="1.18" fill="#E4FFEC" />
<rect x="657.60" y="417.62" width="4.80" height="1.18" fill="#F5D0A0" />
<rect x="657.60" y="418.75" width="4.80" height="1.18" fill="#D8D0F0" />
<rect x="657.60" y="419.88" width="4.80" height="1.18" fill="#C0FFD0" />
<rect x="657.60" y="421.01" width="4.80" height="1.18" fill="#70F060" />
<rect x="657.60" y="422.14" width="4.80" height="1.18" fill="#5E3578" />
<rect x="657.60" y="423.27" width="4.80" height="1.18" fill="#A0583A" />
<rect x="657.60" y="424.40" width="4.80" height="1.18" fill="#F0A030" />
<rect x="657.60" y="425.54" width="4.80" height="1.18" fill="#50A8E0" />
<rect x="657.60" y="426.67" width="4.80" height="1.18" fill="#D8A0FF" />
<rect x="657.60" y="427.80" width="4.80" height="1.18" fill="#5068A0" />
<rect x="657.60" y="428.93" width="4.80" height="10.26" fill="#F0A030" />
<rect x="657.60" y="439.14" width="4.80" height="2.60" fill="#5068A0" />
<rect x="657.60" y="441.69" width="4.80" height="2.94" fill="#B0E040" />
<rect x="657.60" y="444.58" width="4.80" height="3.62" fill="#C0FFD0" />
<rect x="657.60" y="448.16" width="4.80" height="3.45" fill="#909090" />
<rect x="657.60" y="451.56" width="4.80" height="5.50" fill="#F5D0A0" />
<rect x="657.60" y="457.01" width="4.80" height="9.07" fill="#70F060" />
<rect x="657.60" y="466.03" width="4.80" height="8.39" fill="#5E3578" />
<rect x="657.60" y="474.36" width="4.80" height="4.47" fill="#A0583A" />
<rect x="657.60" y="478.79" width="4.80" height="24.56" fill="#5590E8" />
<rect x="657.60" y="503.29" width="4.80" height="34.26" fill="#EEAAFF" />
<rect x="667.20" y="413.10" width="4.80" height="1.15" fill="#909090" />
<rect x="667.20" y="414.20" width="4.80" height="1.15" fill="#F0A030" />
<rect x="667.20" y="415.29" width="4.80" height="1.15" fill="#F5D0A0" />
<rect x="667.20" y="416.39" width="4.80" height="1.15" fill="#E4FFEC" />
<rect x="667.20" y="417.49" width="4.80" height="1.15" fill="#F5D0A0" />
<rect x="667.20" y="418.58" width="4.80" height="1.15" fill="#D8D0F0" />
<rect x="667.20" y="419.68" width="4.80" height="1.15" fill="#C0FFD0" />
<rect x="667.20" y="420.78" width="4.80" height="1.15" fill="#70F060" />
<rect x="667.20" y="421.87" width="4.80" height="1.15" fill="#5E3578" />
<rect x="667.20" y="422.97" width="4.80" height="4.30" fill="#F0A030" />
<rect x="667.20" y="427.22" width="4.80" height="1.18" fill="#D8A0FF" />
<rect x="667.20" y="428.36" width="4.80" height="1.18" fill="#5068A0" />
<rect x="667.20" y="429.49" width="4.80" height="1.18" fill="#D040A8" />
<rect x="667.20" y="430.63" width="4.80" height="1.18" fill="#B0E040" />
<rect x="667.20" y="431.76" width="4.80" height="1.18" fill="#608040" />
<rect x="667.20" y="432.90" width="4.80" height="1.18" fill="#F0A0C0" />
<rect x="667.20" y="434.03" width="4.80" height="5.16" fill="#C0FFD0" />
<rect x="667.20" y="439.14" width="4.80" height="4.81" fill="#909090" />
<rect x="667.20" y="443.90" width="4.80" height="6.01" fill="#F5D0A0" />
<rect x="667.20" y="449.86" width="4.80" height="15.20" fill="#70F060" />
<rect x="667.20" y="465.00" width="4.80" height="3.62" fill="#5E3578" />
<rect x="667.20" y="468.58" width="4.80" height="4.13" fill="#A0583A" />
<rect x="667.20" y="472.66" width="4.80" height="26.43" fill="#5590E8" />
<rect x="667.20" y="499.04" width="4.80" height="38.51" fill="#EEAAFF" />
<rect x="676.80" y="413.10" width="4.80" height="1.18" fill="#909090" />
<rect x="676.80" y="414.23" width="4.80" height="1.18" fill="#F0A030" />
<rect x="676.80" y="415.36" width="4.80" height="1.18" fill="#F5D0A0" />
<rect x="676.80" y="416.49" width="4.80" height="1.18" fill="#E4FFEC" />
<rect x="676.80" y="417.62" width="4.80" height="1.18" fill="#F5D0A0" />
<rect x="676.80" y="418.75" width="4.80" height="1.18" fill="#D8D0F0" />
<rect x="676.80" y="419.88" width="4.80" height="1.18" fill="#C0FFD0" />
<rect x="676.80" y="421.01" width="4.80" height="1.18" fill="#70F060" />
<rect x="676.80" y="422.13" width="4.80" height="1.18" fill="#5E3578" />
<rect x="676.80" y="423.26" width="4.80" height="1.18" fill="#A0583A" />
<rect x="676.80" y="424.39" width="4.80" height="1.18" fill="#F0A030" />
<rect x="676.80" y="425.52" width="4.80" height="3.45" fill="#A0583A" />
<rect x="676.80" y="428.93" width="4.80" height="2.60" fill="#50A8E0" />
<rect x="676.80" y="431.48" width="4.80" height="2.60" fill="#608040" />
<rect x="676.80" y="434.03" width="4.80" height="6.35" fill="#F0A030" />
<rect x="676.80" y="440.33" width="4.80" height="1.92" fill="#5068A0" />
<rect x="676.80" y="442.20" width="4.80" height="2.60" fill="#D040A8" />
<rect x="676.80" y="444.75" width="4.80" height="4.30" fill="#B0E040" />
<rect x="676.80" y="449.01" width="4.80" height="2.94" fill="#909090" />
<rect x="676.80" y="451.90" width="4.80" height="6.01" fill="#F5D0A0" />
<rect x="676.80" y="457.86" width="4.80" height="8.22" fill="#70F060" />
<rect x="676.80" y="466.03" width="4.80" height="4.13" fill="#5E3578" />
<rect x="676.80" y="470.11" width="4.80" height="12.13" fill="#A0583A" />
<rect x="676.80" y="482.19" width="4.80" height="17.75" fill="#5590E8" />
<rect x="676.80" y="499.89" width="4.80" height="37.66" fill="#EEAAFF" />
<text x="633.00" y="410.40" text-anchor="middle" fill="#fff" font-family="Liberation Serif, serif"><tspan font-size="5.1" font-style="italic">B. pseudocatenulatum</tspan><tspan font-size="6" dx="2.5">group</tspan></text>
<text x="406.20" y="415.19" font-family="Liberation Sans, sans-serif" font-size="5.8" text-anchor="end" fill="#444" font-weight="normal" font-style="normal" >1.00</text>
<line x1="406.45" y1="413.10" x2="407.65" y2="413.10" stroke="#333" stroke-width="0.4" />
<text x="406.20" y="446.29" font-family="Liberation Sans, sans-serif" font-size="5.8" text-anchor="end" fill="#444" font-weight="normal" font-style="normal" >0.75</text>
<line x1="406.45" y1="444.20" x2="407.65" y2="444.20" stroke="#333" stroke-width="0.4" />
<text x="406.20" y="477.39" font-family="Liberation Sans, sans-serif" font-size="5.8" text-anchor="end" fill="#444" font-weight="normal" font-style="normal" >0.50</text>
<line x1="406.45" y1="475.30" x2="407.65" y2="475.30" stroke="#333" stroke-width="0.4" />
<text x="406.20" y="508.49" font-family="Liberation Sans, sans-serif" font-size="5.8" text-anchor="end" fill="#444" font-weight="normal" font-style="normal" >0.25</text>
<line x1="406.45" y1="506.40" x2="407.65" y2="506.40" stroke="#333" stroke-width="0.4" />
<text x="406.20" y="539.59" font-family="Liberation Sans, sans-serif" font-size="5.8" text-anchor="end" fill="#444" font-weight="normal" font-style="normal" >0.00</text>
<line x1="406.45" y1="537.50" x2="407.65" y2="537.50" stroke="#333" stroke-width="0.4" />
<text transform="translate(383.60,468.00) rotate(-90)" text-anchor="middle" font-family="Liberation Sans, sans-serif" font-size="9.0" fill="#111">Genus_Relative abundance(%)</text>
<text x="409.40" y="545.50" font-family="Liberation Sans, sans-serif" font-size="4.3" text-anchor="start" fill="#222" font-weight="normal" font-style="normal" >Taxonomy</text>
<rect x="409.40" y="549.10" width="8.70" height="6.00" fill="#70A850" />
<text x="420.70" y="553.50" font-family="Liberation Sans, sans-serif" font-size="4.1" text-anchor="start" fill="#222" font-weight="normal" font-style="normal" >[Eubacterium]_    fissicatena_group</text>
<rect x="409.40" y="555.55" width="8.70" height="6.00" fill="#F5B0C8" />
<text x="420.70" y="559.95" font-family="Liberation Sans, sans-serif" font-size="4.1" text-anchor="start" fill="#222" font-weight="normal" font-style="normal" >Anaerotruncus</text>
<rect x="409.40" y="562.00" width="8.70" height="6.00" fill="#F0C050" />
<text x="420.70" y="566.40" font-family="Liberation Sans, sans-serif" font-size="4.1" text-anchor="start" fill="#222" font-weight="normal" font-style="normal" >ASF356</text>
<rect x="409.40" y="568.45" width="8.70" height="6.00" fill="#6070B8" />
<text x="420.70" y="572.85" font-family="Liberation Sans, sans-serif" font-size="4.1" text-anchor="start" fill="#222" font-weight="normal" font-style="normal" >Tuzzerella</text>
<rect x="409.40" y="574.90" width="8.70" height="6.00" fill="#E060C0" />
<text x="420.70" y="579.30" font-family="Liberation Sans, sans-serif" font-size="4.1" text-anchor="start" fill="#222" font-weight="normal" font-style="normal" >Christensenellaceae_R-7_group</text>
<rect x="409.40" y="581.35" width="8.70" height="6.00" fill="#B0F040" />
<text x="420.70" y="585.75" font-family="Liberation Sans, sans-serif" font-size="4.1" text-anchor="start" fill="#222" font-weight="normal" font-style="normal" >Muribaculum</text>
<rect x="409.40" y="587.80" width="8.70" height="6.00" fill="#B0A850" />
<text x="420.70" y="592.20" font-family="Liberation Sans, sans-serif" font-size="4.1" text-anchor="start" fill="#222" font-weight="normal" font-style="normal" >Bi fidobacterium</text>
<rect x="409.40" y="594.25" width="8.70" height="6.00" fill="#C0FFE8" />
<text x="420.70" y="598.65" font-family="Liberation Sans, sans-serif" font-size="4.1" text-anchor="start" fill="#222" font-weight="normal" font-style="normal" >Clostridia_UCG-014</text>
<rect x="409.40" y="600.70" width="8.70" height="6.00" fill="#A0A0E0" />
<text x="420.70" y="605.10" font-family="Liberation Sans, sans-serif" font-size="4.1" text-anchor="start" fill="#222" font-weight="normal" font-style="normal" >Intestinimonas</text>
<rect x="409.40" y="607.15" width="8.70" height="6.00" fill="#F5D5B5" />
<text x="420.70" y="611.55" font-family="Liberation Sans, sans-serif" font-size="4.1" text-anchor="start" fill="#222" font-weight="normal" font-style="normal" >Harry flintia</text>
<rect x="409.40" y="613.60" width="8.70" height="6.00" fill="#70F090" />
<text x="420.70" y="618.00" font-family="Liberation Sans, sans-serif" font-size="4.1" text-anchor="start" fill="#222" font-weight="normal" font-style="normal" >Lachnoclostridium</text>
<rect x="409.40" y="620.05" width="8.70" height="6.00" fill="#803090" />
<text x="420.70" y="624.45" font-family="Liberation Sans, sans-serif" font-size="4.1" text-anchor="start" fill="#222" font-weight="normal" font-style="normal" >Faecalibaculum</text>
<rect x="409.40" y="626.50" width="8.70" height="6.00" fill="#A86030" />
<text x="420.70" y="630.90" font-family="Liberation Sans, sans-serif" font-size="4.1" text-anchor="start" fill="#222" font-weight="normal" font-style="normal" >Oscillibacter</text>
<rect x="409.40" y="632.95" width="8.70" height="6.00" fill="#50B0E8" />
<text x="420.70" y="637.35" font-family="Liberation Sans, sans-serif" font-size="4.1" text-anchor="start" fill="#222" font-weight="normal" font-style="normal" >Colidextribacter</text>
<rect x="409.40" y="639.40" width="8.70" height="6.00" fill="#D8A0FF" />
<text x="420.70" y="643.80" font-family="Liberation Sans, sans-serif" font-size="4.1" text-anchor="start" fill="#222" font-weight="normal" font-style="normal" >Clostridia_vadinBB60_group</text>
<rect x="486.10" y="549.10" width="8.70" height="6.00" fill="#608040" />
<text x="497.40" y="553.50" font-family="Liberation Sans, sans-serif" font-size="4.1" text-anchor="start" fill="#222" font-weight="normal" font-style="normal" >Roseburia</text>
<rect x="486.10" y="555.55" width="8.70" height="6.00" fill="#F0A0C0" />
<text x="497.40" y="559.95" font-family="Liberation Sans, sans-serif" font-size="4.1" text-anchor="start" fill="#222" font-weight="normal" font-style="normal" >Alloprevotella</text>
<rect x="486.10" y="562.00" width="8.70" height="6.00" fill="#F0A030" />
<text x="497.40" y="566.40" font-family="Liberation Sans, sans-serif" font-size="4.1" text-anchor="start" fill="#222" font-weight="normal" font-style="normal" >[Eubacterium]_coprostanoligenes_group</text>
<rect x="486.10" y="568.45" width="8.70" height="6.00" fill="#5068A0" />
<text x="497.40" y="572.85" font-family="Liberation Sans, sans-serif" font-size="4.1" text-anchor="start" fill="#222" font-weight="normal" font-style="normal" >Dubosiella</text>
<rect x="486.10" y="574.90" width="8.70" height="6.00" fill="#D040A8" />
<text x="497.40" y="579.30" font-family="Liberation Sans, sans-serif" font-size="4.1" text-anchor="start" fill="#222" font-weight="normal" font-style="normal" >Lachnospiraceae_NK4A136_group</text>
<rect x="486.10" y="581.35" width="8.70" height="6.00" fill="#B0E040" />
<text x="497.40" y="585.75" font-family="Liberation Sans, sans-serif" font-size="4.1" text-anchor="start" fill="#222" font-weight="normal" font-style="normal" >Blautia</text>
<rect x="486.10" y="587.80" width="8.70" height="6.00" fill="#A8A050" />
<text x="497.40" y="592.20" font-family="Liberation Sans, sans-serif" font-size="4.1" text-anchor="start" fill="#222" font-weight="normal" font-style="normal" >Escherichia-Shigella</text>
<rect x="486.10" y="594.25" width="8.70" height="6.00" fill="#C0FFD0" />
<text x="497.40" y="598.65" font-family="Liberation Sans, sans-serif" font-size="4.1" text-anchor="start" fill="#222" font-weight="normal" font-style="normal" >Parasutterella</text>
<rect x="486.10" y="600.70" width="8.70" height="6.00" fill="#909090" />
<text x="497.40" y="605.10" font-family="Liberation Sans, sans-serif" font-size="4.1" text-anchor="start" fill="#222" font-weight="normal" font-style="normal" >Coriobacteriaceae_UCG-002</text>
<rect x="486.10" y="607.15" width="8.70" height="6.00" fill="#F5D0A0" />
<text x="497.40" y="611.55" font-family="Liberation Sans, sans-serif" font-size="4.1" text-anchor="start" fill="#222" font-weight="normal" font-style="normal" >Alistipes</text>
<rect x="486.10" y="613.60" width="8.70" height="6.00" fill="#70F060" />
<text x="497.40" y="618.00" font-family="Liberation Sans, sans-serif" font-size="4.1" text-anchor="start" fill="#222" font-weight="normal" font-style="normal" >Monoglobus</text>
<rect x="486.10" y="620.05" width="8.70" height="6.00" fill="#5E3578" />
<text x="497.40" y="624.45" font-family="Liberation Sans, sans-serif" font-size="4.1" text-anchor="start" fill="#222" font-weight="normal" font-style="normal" >Parabacteroides</text>
<rect x="486.10" y="626.50" width="8.70" height="6.00" fill="#A0583A" />
<text x="497.40" y="630.90" font-family="Liberation Sans, sans-serif" font-size="4.1" text-anchor="start" fill="#222" font-weight="normal" font-style="normal" >Helicobacter</text>
<rect x="486.10" y="632.95" width="8.70" height="6.00" fill="#5590E8" />
<text x="497.40" y="637.35" font-family="Liberation Sans, sans-serif" font-size="4.1" text-anchor="start" fill="#222" font-weight="normal" font-style="normal" >Bacteroides</text>
<rect x="486.10" y="639.40" width="8.70" height="6.00" fill="#EEAAFF" />
<text x="497.40" y="643.80" font-family="Liberation Sans, sans-serif" font-size="4.1" text-anchor="start" fill="#222" font-weight="normal" font-style="normal" >Muribaculaceae</text>
</svg></body></html>
